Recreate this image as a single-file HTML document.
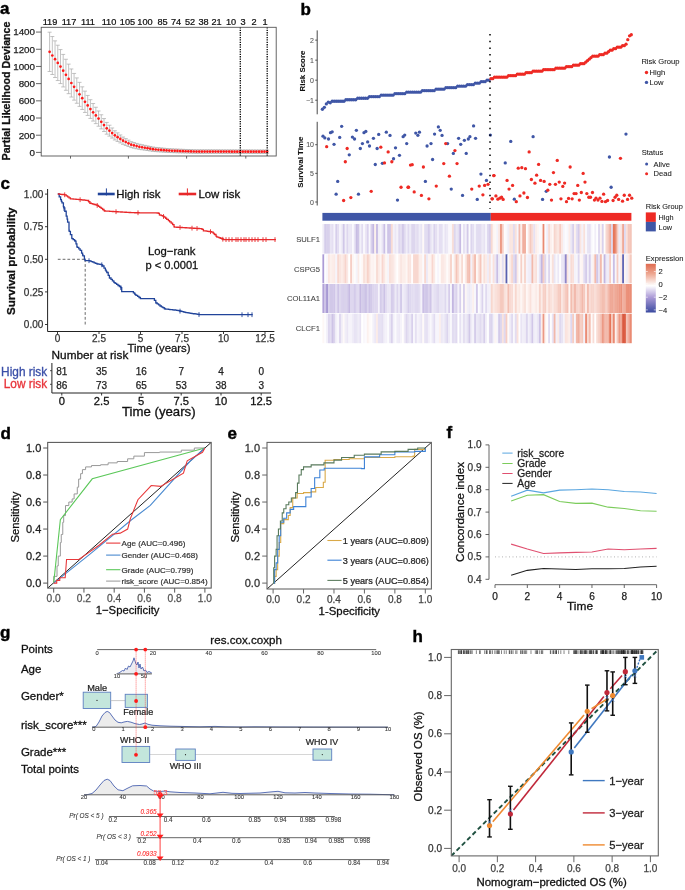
<!DOCTYPE html>
<html><head><meta charset="utf-8"><style>
html,body{margin:0;padding:0;background:#fff;}
svg{display:block;will-change:transform;}
text{font-family:"Liberation Sans",sans-serif;}
</style></head><body>
<svg width="685" height="890" viewBox="0 0 685 890">
<rect width="685" height="890" fill="#fff"/>
<text x="0" y="14" font-size="17" text-anchor="start" fill="#000" stroke="#000" stroke-width="0.42" font-weight="bold">a</text>
<line x1="36" y1="152.4" x2="41.2" y2="152.4" stroke="#555" stroke-width="0.9"/>
<text x="35" y="155.8" font-size="9.8" text-anchor="end" fill="#222" stroke="#222" stroke-width="0.25">0</text>
<line x1="36" y1="135.21" x2="41.2" y2="135.21" stroke="#555" stroke-width="0.9"/>
<text x="35" y="138.61" font-size="9.8" text-anchor="end" fill="#222" stroke="#222" stroke-width="0.25">200</text>
<line x1="36" y1="118.02" x2="41.2" y2="118.02" stroke="#555" stroke-width="0.9"/>
<text x="35" y="121.42" font-size="9.8" text-anchor="end" fill="#222" stroke="#222" stroke-width="0.25">400</text>
<line x1="36" y1="100.83" x2="41.2" y2="100.83" stroke="#555" stroke-width="0.9"/>
<text x="35" y="104.23" font-size="9.8" text-anchor="end" fill="#222" stroke="#222" stroke-width="0.25">600</text>
<line x1="36" y1="83.64" x2="41.2" y2="83.64" stroke="#555" stroke-width="0.9"/>
<text x="35" y="87.04" font-size="9.8" text-anchor="end" fill="#222" stroke="#222" stroke-width="0.25">800</text>
<line x1="36" y1="66.45" x2="41.2" y2="66.45" stroke="#555" stroke-width="0.9"/>
<text x="35" y="69.85" font-size="9.8" text-anchor="end" fill="#222" stroke="#222" stroke-width="0.25">1000</text>
<line x1="36" y1="49.26" x2="41.2" y2="49.26" stroke="#555" stroke-width="0.9"/>
<text x="35" y="52.66" font-size="9.8" text-anchor="end" fill="#222" stroke="#222" stroke-width="0.25">1200</text>
<line x1="36" y1="32.07" x2="41.2" y2="32.07" stroke="#555" stroke-width="0.9"/>
<text x="35" y="35.47" font-size="9.8" text-anchor="end" fill="#222" stroke="#222" stroke-width="0.25">1400</text>
<line x1="70.5" y1="156" x2="70.5" y2="158.6" stroke="#555" stroke-width="0.9"/>
<line x1="128.4" y1="156" x2="128.4" y2="158.6" stroke="#555" stroke-width="0.9"/>
<line x1="186.6" y1="156" x2="186.6" y2="158.6" stroke="#555" stroke-width="0.9"/>
<line x1="245.8" y1="156" x2="245.8" y2="158.6" stroke="#555" stroke-width="0.9"/>
<text x="50" y="24.8" font-size="9.2" text-anchor="middle" fill="#111" stroke="#111" stroke-width="0.23">119</text>
<text x="69" y="24.8" font-size="9.2" text-anchor="middle" fill="#111" stroke="#111" stroke-width="0.23">117</text>
<text x="88" y="24.8" font-size="9.2" text-anchor="middle" fill="#111" stroke="#111" stroke-width="0.23">111</text>
<text x="109" y="24.8" font-size="9.2" text-anchor="middle" fill="#111" stroke="#111" stroke-width="0.23">110</text>
<text x="127.5" y="24.8" font-size="9.2" text-anchor="middle" fill="#111" stroke="#111" stroke-width="0.23">105</text>
<text x="145" y="24.8" font-size="9.2" text-anchor="middle" fill="#111" stroke="#111" stroke-width="0.23">100</text>
<text x="162.5" y="24.8" font-size="9.2" text-anchor="middle" fill="#111" stroke="#111" stroke-width="0.23">85</text>
<text x="176" y="24.8" font-size="9.2" text-anchor="middle" fill="#111" stroke="#111" stroke-width="0.23">74</text>
<text x="190" y="24.8" font-size="9.2" text-anchor="middle" fill="#111" stroke="#111" stroke-width="0.23">52</text>
<text x="203.5" y="24.8" font-size="9.2" text-anchor="middle" fill="#111" stroke="#111" stroke-width="0.23">38</text>
<text x="216.5" y="24.8" font-size="9.2" text-anchor="middle" fill="#111" stroke="#111" stroke-width="0.23">21</text>
<text x="231" y="24.8" font-size="9.2" text-anchor="middle" fill="#111" stroke="#111" stroke-width="0.23">10</text>
<text x="243" y="24.8" font-size="9.2" text-anchor="middle" fill="#111" stroke="#111" stroke-width="0.23">3</text>
<text x="254" y="24.8" font-size="9.2" text-anchor="middle" fill="#111" stroke="#111" stroke-width="0.23">2</text>
<text x="265" y="24.8" font-size="9.2" text-anchor="middle" fill="#111" stroke="#111" stroke-width="0.23">1</text>
<line x1="49.6" y1="32.19" x2="49.6" y2="71.49" stroke="#a9a9a9" stroke-width="0.7"/>
<line x1="47.6" y1="32.19" x2="51.6" y2="32.19" stroke="#a9a9a9" stroke-width="0.7"/>
<line x1="47.6" y1="71.49" x2="51.6" y2="71.49" stroke="#a9a9a9" stroke-width="0.7"/>
<line x1="52.32" y1="36.53" x2="52.32" y2="74.5" stroke="#a9a9a9" stroke-width="0.7"/>
<line x1="50.32" y1="36.53" x2="54.32" y2="36.53" stroke="#a9a9a9" stroke-width="0.7"/>
<line x1="50.32" y1="74.5" x2="54.32" y2="74.5" stroke="#a9a9a9" stroke-width="0.7"/>
<line x1="55.04" y1="40.87" x2="55.04" y2="77.52" stroke="#a9a9a9" stroke-width="0.7"/>
<line x1="53.04" y1="40.87" x2="57.04" y2="40.87" stroke="#a9a9a9" stroke-width="0.7"/>
<line x1="53.04" y1="77.52" x2="57.04" y2="77.52" stroke="#a9a9a9" stroke-width="0.7"/>
<line x1="57.76" y1="45.22" x2="57.76" y2="80.54" stroke="#a9a9a9" stroke-width="0.7"/>
<line x1="55.76" y1="45.22" x2="59.76" y2="45.22" stroke="#a9a9a9" stroke-width="0.7"/>
<line x1="55.76" y1="80.54" x2="59.76" y2="80.54" stroke="#a9a9a9" stroke-width="0.7"/>
<line x1="60.48" y1="49.57" x2="60.48" y2="83.57" stroke="#a9a9a9" stroke-width="0.7"/>
<line x1="58.48" y1="49.57" x2="62.48" y2="49.57" stroke="#a9a9a9" stroke-width="0.7"/>
<line x1="58.48" y1="83.57" x2="62.48" y2="83.57" stroke="#a9a9a9" stroke-width="0.7"/>
<line x1="63.2" y1="54.42" x2="63.2" y2="86.93" stroke="#a9a9a9" stroke-width="0.7"/>
<line x1="61.2" y1="54.42" x2="65.2" y2="54.42" stroke="#a9a9a9" stroke-width="0.7"/>
<line x1="61.2" y1="86.93" x2="65.2" y2="86.93" stroke="#a9a9a9" stroke-width="0.7"/>
<line x1="65.92" y1="59.27" x2="65.92" y2="90.3" stroke="#a9a9a9" stroke-width="0.7"/>
<line x1="63.92" y1="59.27" x2="67.92" y2="59.27" stroke="#a9a9a9" stroke-width="0.7"/>
<line x1="63.92" y1="90.3" x2="67.92" y2="90.3" stroke="#a9a9a9" stroke-width="0.7"/>
<line x1="68.64" y1="64.11" x2="68.64" y2="93.67" stroke="#a9a9a9" stroke-width="0.7"/>
<line x1="66.64" y1="64.11" x2="70.64" y2="64.11" stroke="#a9a9a9" stroke-width="0.7"/>
<line x1="66.64" y1="93.67" x2="70.64" y2="93.67" stroke="#a9a9a9" stroke-width="0.7"/>
<line x1="71.36" y1="68.96" x2="71.36" y2="97.04" stroke="#a9a9a9" stroke-width="0.7"/>
<line x1="69.36" y1="68.96" x2="73.36" y2="68.96" stroke="#a9a9a9" stroke-width="0.7"/>
<line x1="69.36" y1="97.04" x2="73.36" y2="97.04" stroke="#a9a9a9" stroke-width="0.7"/>
<line x1="74.08" y1="73.44" x2="74.08" y2="100.15" stroke="#a9a9a9" stroke-width="0.7"/>
<line x1="72.08" y1="73.44" x2="76.08" y2="73.44" stroke="#a9a9a9" stroke-width="0.7"/>
<line x1="72.08" y1="100.15" x2="76.08" y2="100.15" stroke="#a9a9a9" stroke-width="0.7"/>
<line x1="76.8" y1="77.91" x2="76.8" y2="103.26" stroke="#a9a9a9" stroke-width="0.7"/>
<line x1="74.8" y1="77.91" x2="78.8" y2="77.91" stroke="#a9a9a9" stroke-width="0.7"/>
<line x1="74.8" y1="103.26" x2="78.8" y2="103.26" stroke="#a9a9a9" stroke-width="0.7"/>
<line x1="79.52" y1="82.37" x2="79.52" y2="106.36" stroke="#a9a9a9" stroke-width="0.7"/>
<line x1="77.52" y1="82.37" x2="81.52" y2="82.37" stroke="#a9a9a9" stroke-width="0.7"/>
<line x1="77.52" y1="106.36" x2="81.52" y2="106.36" stroke="#a9a9a9" stroke-width="0.7"/>
<line x1="82.24" y1="86.84" x2="82.24" y2="109.46" stroke="#a9a9a9" stroke-width="0.7"/>
<line x1="80.24" y1="86.84" x2="84.24" y2="86.84" stroke="#a9a9a9" stroke-width="0.7"/>
<line x1="80.24" y1="109.46" x2="84.24" y2="109.46" stroke="#a9a9a9" stroke-width="0.7"/>
<line x1="84.96" y1="91.14" x2="84.96" y2="112.45" stroke="#a9a9a9" stroke-width="0.7"/>
<line x1="82.96" y1="91.14" x2="86.96" y2="91.14" stroke="#a9a9a9" stroke-width="0.7"/>
<line x1="82.96" y1="112.45" x2="86.96" y2="112.45" stroke="#a9a9a9" stroke-width="0.7"/>
<line x1="87.68" y1="95.43" x2="87.68" y2="115.43" stroke="#a9a9a9" stroke-width="0.7"/>
<line x1="85.68" y1="95.43" x2="89.68" y2="95.43" stroke="#a9a9a9" stroke-width="0.7"/>
<line x1="85.68" y1="115.43" x2="89.68" y2="115.43" stroke="#a9a9a9" stroke-width="0.7"/>
<line x1="90.4" y1="99.71" x2="90.4" y2="118.41" stroke="#a9a9a9" stroke-width="0.7"/>
<line x1="88.4" y1="99.71" x2="92.4" y2="99.71" stroke="#a9a9a9" stroke-width="0.7"/>
<line x1="88.4" y1="118.41" x2="92.4" y2="118.41" stroke="#a9a9a9" stroke-width="0.7"/>
<line x1="93.12" y1="103.52" x2="93.12" y2="121.06" stroke="#a9a9a9" stroke-width="0.7"/>
<line x1="91.12" y1="103.52" x2="95.12" y2="103.52" stroke="#a9a9a9" stroke-width="0.7"/>
<line x1="91.12" y1="121.06" x2="95.12" y2="121.06" stroke="#a9a9a9" stroke-width="0.7"/>
<line x1="95.84" y1="107.25" x2="95.84" y2="123.64" stroke="#a9a9a9" stroke-width="0.7"/>
<line x1="93.84" y1="107.25" x2="97.84" y2="107.25" stroke="#a9a9a9" stroke-width="0.7"/>
<line x1="93.84" y1="123.64" x2="97.84" y2="123.64" stroke="#a9a9a9" stroke-width="0.7"/>
<line x1="98.56" y1="110.97" x2="98.56" y2="126.23" stroke="#a9a9a9" stroke-width="0.7"/>
<line x1="96.56" y1="110.97" x2="100.56" y2="110.97" stroke="#a9a9a9" stroke-width="0.7"/>
<line x1="96.56" y1="126.23" x2="100.56" y2="126.23" stroke="#a9a9a9" stroke-width="0.7"/>
<line x1="101.28" y1="114.78" x2="101.28" y2="128.88" stroke="#a9a9a9" stroke-width="0.7"/>
<line x1="99.28" y1="114.78" x2="103.28" y2="114.78" stroke="#a9a9a9" stroke-width="0.7"/>
<line x1="99.28" y1="128.88" x2="103.28" y2="128.88" stroke="#a9a9a9" stroke-width="0.7"/>
<line x1="104" y1="118.59" x2="104" y2="131.53" stroke="#a9a9a9" stroke-width="0.7"/>
<line x1="102" y1="118.59" x2="106" y2="118.59" stroke="#a9a9a9" stroke-width="0.7"/>
<line x1="102" y1="131.53" x2="106" y2="131.53" stroke="#a9a9a9" stroke-width="0.7"/>
<line x1="106.72" y1="122.41" x2="106.72" y2="134.18" stroke="#a9a9a9" stroke-width="0.7"/>
<line x1="104.72" y1="122.41" x2="108.72" y2="122.41" stroke="#a9a9a9" stroke-width="0.7"/>
<line x1="104.72" y1="134.18" x2="108.72" y2="134.18" stroke="#a9a9a9" stroke-width="0.7"/>
<line x1="109.44" y1="125.23" x2="109.44" y2="136.14" stroke="#a9a9a9" stroke-width="0.7"/>
<line x1="107.44" y1="125.23" x2="111.44" y2="125.23" stroke="#a9a9a9" stroke-width="0.7"/>
<line x1="107.44" y1="136.14" x2="111.44" y2="136.14" stroke="#a9a9a9" stroke-width="0.7"/>
<line x1="112.16" y1="127.99" x2="112.16" y2="138.06" stroke="#a9a9a9" stroke-width="0.7"/>
<line x1="110.16" y1="127.99" x2="114.16" y2="127.99" stroke="#a9a9a9" stroke-width="0.7"/>
<line x1="110.16" y1="138.06" x2="114.16" y2="138.06" stroke="#a9a9a9" stroke-width="0.7"/>
<line x1="114.88" y1="130.75" x2="114.88" y2="139.98" stroke="#a9a9a9" stroke-width="0.7"/>
<line x1="112.88" y1="130.75" x2="116.88" y2="130.75" stroke="#a9a9a9" stroke-width="0.7"/>
<line x1="112.88" y1="139.98" x2="116.88" y2="139.98" stroke="#a9a9a9" stroke-width="0.7"/>
<line x1="117.6" y1="132.86" x2="117.6" y2="141.44" stroke="#a9a9a9" stroke-width="0.7"/>
<line x1="115.6" y1="132.86" x2="119.6" y2="132.86" stroke="#a9a9a9" stroke-width="0.7"/>
<line x1="115.6" y1="141.44" x2="119.6" y2="141.44" stroke="#a9a9a9" stroke-width="0.7"/>
<line x1="120.32" y1="134.96" x2="120.32" y2="142.9" stroke="#a9a9a9" stroke-width="0.7"/>
<line x1="118.32" y1="134.96" x2="122.32" y2="134.96" stroke="#a9a9a9" stroke-width="0.7"/>
<line x1="118.32" y1="142.9" x2="122.32" y2="142.9" stroke="#a9a9a9" stroke-width="0.7"/>
<line x1="123.04" y1="137.04" x2="123.04" y2="144.35" stroke="#a9a9a9" stroke-width="0.7"/>
<line x1="121.04" y1="137.04" x2="125.04" y2="137.04" stroke="#a9a9a9" stroke-width="0.7"/>
<line x1="121.04" y1="144.35" x2="125.04" y2="144.35" stroke="#a9a9a9" stroke-width="0.7"/>
<line x1="125.76" y1="138.61" x2="125.76" y2="145.44" stroke="#a9a9a9" stroke-width="0.7"/>
<line x1="123.76" y1="138.61" x2="127.76" y2="138.61" stroke="#a9a9a9" stroke-width="0.7"/>
<line x1="123.76" y1="145.44" x2="127.76" y2="145.44" stroke="#a9a9a9" stroke-width="0.7"/>
<line x1="128.48" y1="140.17" x2="128.48" y2="146.52" stroke="#a9a9a9" stroke-width="0.7"/>
<line x1="126.48" y1="140.17" x2="130.48" y2="140.17" stroke="#a9a9a9" stroke-width="0.7"/>
<line x1="126.48" y1="146.52" x2="130.48" y2="146.52" stroke="#a9a9a9" stroke-width="0.7"/>
<line x1="131.2" y1="141.69" x2="131.2" y2="147.58" stroke="#a9a9a9" stroke-width="0.7"/>
<line x1="129.2" y1="141.69" x2="133.2" y2="141.69" stroke="#a9a9a9" stroke-width="0.7"/>
<line x1="129.2" y1="147.58" x2="133.2" y2="147.58" stroke="#a9a9a9" stroke-width="0.7"/>
<line x1="133.92" y1="142.55" x2="133.92" y2="148.18" stroke="#a9a9a9" stroke-width="0.7"/>
<line x1="131.92" y1="142.55" x2="135.92" y2="142.55" stroke="#a9a9a9" stroke-width="0.7"/>
<line x1="131.92" y1="148.18" x2="135.92" y2="148.18" stroke="#a9a9a9" stroke-width="0.7"/>
<line x1="136.64" y1="143.41" x2="136.64" y2="148.78" stroke="#a9a9a9" stroke-width="0.7"/>
<line x1="134.64" y1="143.41" x2="138.64" y2="143.41" stroke="#a9a9a9" stroke-width="0.7"/>
<line x1="134.64" y1="148.78" x2="138.64" y2="148.78" stroke="#a9a9a9" stroke-width="0.7"/>
<line x1="139.36" y1="144.23" x2="139.36" y2="149.35" stroke="#a9a9a9" stroke-width="0.7"/>
<line x1="137.36" y1="144.23" x2="141.36" y2="144.23" stroke="#a9a9a9" stroke-width="0.7"/>
<line x1="137.36" y1="149.35" x2="141.36" y2="149.35" stroke="#a9a9a9" stroke-width="0.7"/>
<line x1="142.08" y1="144.8" x2="142.08" y2="149.74" stroke="#a9a9a9" stroke-width="0.7"/>
<line x1="140.08" y1="144.8" x2="144.08" y2="144.8" stroke="#a9a9a9" stroke-width="0.7"/>
<line x1="140.08" y1="149.74" x2="144.08" y2="149.74" stroke="#a9a9a9" stroke-width="0.7"/>
<line x1="144.8" y1="145.36" x2="144.8" y2="150.13" stroke="#a9a9a9" stroke-width="0.7"/>
<line x1="142.8" y1="145.36" x2="146.8" y2="145.36" stroke="#a9a9a9" stroke-width="0.7"/>
<line x1="142.8" y1="150.13" x2="146.8" y2="150.13" stroke="#a9a9a9" stroke-width="0.7"/>
<line x1="147.52" y1="145.92" x2="147.52" y2="150.52" stroke="#a9a9a9" stroke-width="0.7"/>
<line x1="145.52" y1="145.92" x2="149.52" y2="145.92" stroke="#a9a9a9" stroke-width="0.7"/>
<line x1="145.52" y1="150.52" x2="149.52" y2="150.52" stroke="#a9a9a9" stroke-width="0.7"/>
<line x1="150.24" y1="146.48" x2="150.24" y2="150.91" stroke="#a9a9a9" stroke-width="0.7"/>
<line x1="148.24" y1="146.48" x2="152.24" y2="146.48" stroke="#a9a9a9" stroke-width="0.7"/>
<line x1="148.24" y1="150.91" x2="152.24" y2="150.91" stroke="#a9a9a9" stroke-width="0.7"/>
<line x1="152.96" y1="147.05" x2="152.96" y2="151.3" stroke="#a9a9a9" stroke-width="0.7"/>
<line x1="150.96" y1="147.05" x2="154.96" y2="147.05" stroke="#a9a9a9" stroke-width="0.7"/>
<line x1="150.96" y1="151.3" x2="154.96" y2="151.3" stroke="#a9a9a9" stroke-width="0.7"/>
<line x1="155.68" y1="147.44" x2="155.68" y2="151.58" stroke="#a9a9a9" stroke-width="0.7"/>
<line x1="153.68" y1="147.44" x2="157.68" y2="147.44" stroke="#a9a9a9" stroke-width="0.7"/>
<line x1="153.68" y1="151.58" x2="157.68" y2="151.58" stroke="#a9a9a9" stroke-width="0.7"/>
<line x1="158.4" y1="147.7" x2="158.4" y2="151.76" stroke="#a9a9a9" stroke-width="0.7"/>
<line x1="156.4" y1="147.7" x2="160.4" y2="147.7" stroke="#a9a9a9" stroke-width="0.7"/>
<line x1="156.4" y1="151.76" x2="160.4" y2="151.76" stroke="#a9a9a9" stroke-width="0.7"/>
<line x1="161.12" y1="147.96" x2="161.12" y2="151.93" stroke="#a9a9a9" stroke-width="0.7"/>
<line x1="159.12" y1="147.96" x2="163.12" y2="147.96" stroke="#a9a9a9" stroke-width="0.7"/>
<line x1="159.12" y1="151.93" x2="163.12" y2="151.93" stroke="#a9a9a9" stroke-width="0.7"/>
<line x1="163.84" y1="148.21" x2="163.84" y2="152.11" stroke="#a9a9a9" stroke-width="0.7"/>
<line x1="161.84" y1="148.21" x2="165.84" y2="148.21" stroke="#a9a9a9" stroke-width="0.7"/>
<line x1="161.84" y1="152.11" x2="165.84" y2="152.11" stroke="#a9a9a9" stroke-width="0.7"/>
<line x1="166.56" y1="148.47" x2="166.56" y2="152.29" stroke="#a9a9a9" stroke-width="0.7"/>
<line x1="164.56" y1="148.47" x2="168.56" y2="148.47" stroke="#a9a9a9" stroke-width="0.7"/>
<line x1="164.56" y1="152.29" x2="168.56" y2="152.29" stroke="#a9a9a9" stroke-width="0.7"/>
<line x1="169.28" y1="148.73" x2="169.28" y2="152.47" stroke="#a9a9a9" stroke-width="0.7"/>
<line x1="167.28" y1="148.73" x2="171.28" y2="148.73" stroke="#a9a9a9" stroke-width="0.7"/>
<line x1="167.28" y1="152.47" x2="171.28" y2="152.47" stroke="#a9a9a9" stroke-width="0.7"/>
<line x1="172" y1="148.9" x2="172" y2="152.59" stroke="#a9a9a9" stroke-width="0.7"/>
<line x1="170" y1="148.9" x2="174" y2="148.9" stroke="#a9a9a9" stroke-width="0.7"/>
<line x1="170" y1="152.59" x2="174" y2="152.59" stroke="#a9a9a9" stroke-width="0.7"/>
<line x1="174.72" y1="149.01" x2="174.72" y2="152.67" stroke="#a9a9a9" stroke-width="0.7"/>
<line x1="172.72" y1="149.01" x2="176.72" y2="149.01" stroke="#a9a9a9" stroke-width="0.7"/>
<line x1="172.72" y1="152.67" x2="176.72" y2="152.67" stroke="#a9a9a9" stroke-width="0.7"/>
<line x1="177.44" y1="149.12" x2="177.44" y2="152.75" stroke="#a9a9a9" stroke-width="0.7"/>
<line x1="175.44" y1="149.12" x2="179.44" y2="149.12" stroke="#a9a9a9" stroke-width="0.7"/>
<line x1="175.44" y1="152.75" x2="179.44" y2="152.75" stroke="#a9a9a9" stroke-width="0.7"/>
<line x1="180.16" y1="149.24" x2="180.16" y2="152.83" stroke="#a9a9a9" stroke-width="0.7"/>
<line x1="178.16" y1="149.24" x2="182.16" y2="149.24" stroke="#a9a9a9" stroke-width="0.7"/>
<line x1="178.16" y1="152.83" x2="182.16" y2="152.83" stroke="#a9a9a9" stroke-width="0.7"/>
<line x1="182.88" y1="149.35" x2="182.88" y2="152.91" stroke="#a9a9a9" stroke-width="0.7"/>
<line x1="180.88" y1="149.35" x2="184.88" y2="149.35" stroke="#a9a9a9" stroke-width="0.7"/>
<line x1="180.88" y1="152.91" x2="184.88" y2="152.91" stroke="#a9a9a9" stroke-width="0.7"/>
<line x1="185.6" y1="149.47" x2="185.6" y2="152.98" stroke="#a9a9a9" stroke-width="0.7"/>
<line x1="183.6" y1="149.47" x2="187.6" y2="149.47" stroke="#a9a9a9" stroke-width="0.7"/>
<line x1="183.6" y1="152.98" x2="187.6" y2="152.98" stroke="#a9a9a9" stroke-width="0.7"/>
<line x1="188.32" y1="149.58" x2="188.32" y2="153.06" stroke="#a9a9a9" stroke-width="0.7"/>
<line x1="186.32" y1="149.58" x2="190.32" y2="149.58" stroke="#a9a9a9" stroke-width="0.7"/>
<line x1="186.32" y1="153.06" x2="190.32" y2="153.06" stroke="#a9a9a9" stroke-width="0.7"/>
<line x1="191.04" y1="149.7" x2="191.04" y2="153.14" stroke="#a9a9a9" stroke-width="0.7"/>
<line x1="189.04" y1="149.7" x2="193.04" y2="149.7" stroke="#a9a9a9" stroke-width="0.7"/>
<line x1="189.04" y1="153.14" x2="193.04" y2="153.14" stroke="#a9a9a9" stroke-width="0.7"/>
<line x1="193.76" y1="149.81" x2="193.76" y2="153.22" stroke="#a9a9a9" stroke-width="0.7"/>
<line x1="191.76" y1="149.81" x2="195.76" y2="149.81" stroke="#a9a9a9" stroke-width="0.7"/>
<line x1="191.76" y1="153.22" x2="195.76" y2="153.22" stroke="#a9a9a9" stroke-width="0.7"/>
<line x1="196.48" y1="149.84" x2="196.48" y2="153.25" stroke="#a9a9a9" stroke-width="0.7"/>
<line x1="194.48" y1="149.84" x2="198.48" y2="149.84" stroke="#a9a9a9" stroke-width="0.7"/>
<line x1="194.48" y1="153.25" x2="198.48" y2="153.25" stroke="#a9a9a9" stroke-width="0.7"/>
<line x1="199.2" y1="149.85" x2="199.2" y2="153.25" stroke="#a9a9a9" stroke-width="0.7"/>
<line x1="197.2" y1="149.85" x2="201.2" y2="149.85" stroke="#a9a9a9" stroke-width="0.7"/>
<line x1="197.2" y1="153.25" x2="201.2" y2="153.25" stroke="#a9a9a9" stroke-width="0.7"/>
<line x1="201.92" y1="149.86" x2="201.92" y2="153.26" stroke="#a9a9a9" stroke-width="0.7"/>
<line x1="199.92" y1="149.86" x2="203.92" y2="149.86" stroke="#a9a9a9" stroke-width="0.7"/>
<line x1="199.92" y1="153.26" x2="203.92" y2="153.26" stroke="#a9a9a9" stroke-width="0.7"/>
<line x1="204.64" y1="149.87" x2="204.64" y2="153.26" stroke="#a9a9a9" stroke-width="0.7"/>
<line x1="202.64" y1="149.87" x2="206.64" y2="149.87" stroke="#a9a9a9" stroke-width="0.7"/>
<line x1="202.64" y1="153.26" x2="206.64" y2="153.26" stroke="#a9a9a9" stroke-width="0.7"/>
<line x1="207.36" y1="149.87" x2="207.36" y2="153.27" stroke="#a9a9a9" stroke-width="0.7"/>
<line x1="205.36" y1="149.87" x2="209.36" y2="149.87" stroke="#a9a9a9" stroke-width="0.7"/>
<line x1="205.36" y1="153.27" x2="209.36" y2="153.27" stroke="#a9a9a9" stroke-width="0.7"/>
<line x1="210.08" y1="149.88" x2="210.08" y2="153.27" stroke="#a9a9a9" stroke-width="0.7"/>
<line x1="208.08" y1="149.88" x2="212.08" y2="149.88" stroke="#a9a9a9" stroke-width="0.7"/>
<line x1="208.08" y1="153.27" x2="212.08" y2="153.27" stroke="#a9a9a9" stroke-width="0.7"/>
<line x1="212.8" y1="149.89" x2="212.8" y2="153.28" stroke="#a9a9a9" stroke-width="0.7"/>
<line x1="210.8" y1="149.89" x2="214.8" y2="149.89" stroke="#a9a9a9" stroke-width="0.7"/>
<line x1="210.8" y1="153.28" x2="214.8" y2="153.28" stroke="#a9a9a9" stroke-width="0.7"/>
<line x1="215.52" y1="149.9" x2="215.52" y2="153.28" stroke="#a9a9a9" stroke-width="0.7"/>
<line x1="213.52" y1="149.9" x2="217.52" y2="149.9" stroke="#a9a9a9" stroke-width="0.7"/>
<line x1="213.52" y1="153.28" x2="217.52" y2="153.28" stroke="#a9a9a9" stroke-width="0.7"/>
<line x1="218.24" y1="149.9" x2="218.24" y2="153.29" stroke="#a9a9a9" stroke-width="0.7"/>
<line x1="216.24" y1="149.9" x2="220.24" y2="149.9" stroke="#a9a9a9" stroke-width="0.7"/>
<line x1="216.24" y1="153.29" x2="220.24" y2="153.29" stroke="#a9a9a9" stroke-width="0.7"/>
<line x1="220.96" y1="149.91" x2="220.96" y2="153.29" stroke="#a9a9a9" stroke-width="0.7"/>
<line x1="218.96" y1="149.91" x2="222.96" y2="149.91" stroke="#a9a9a9" stroke-width="0.7"/>
<line x1="218.96" y1="153.29" x2="222.96" y2="153.29" stroke="#a9a9a9" stroke-width="0.7"/>
<line x1="223.68" y1="149.92" x2="223.68" y2="153.3" stroke="#a9a9a9" stroke-width="0.7"/>
<line x1="221.68" y1="149.92" x2="225.68" y2="149.92" stroke="#a9a9a9" stroke-width="0.7"/>
<line x1="221.68" y1="153.3" x2="225.68" y2="153.3" stroke="#a9a9a9" stroke-width="0.7"/>
<line x1="226.4" y1="149.93" x2="226.4" y2="153.3" stroke="#a9a9a9" stroke-width="0.7"/>
<line x1="224.4" y1="149.93" x2="228.4" y2="149.93" stroke="#a9a9a9" stroke-width="0.7"/>
<line x1="224.4" y1="153.3" x2="228.4" y2="153.3" stroke="#a9a9a9" stroke-width="0.7"/>
<line x1="229.12" y1="149.93" x2="229.12" y2="153.31" stroke="#a9a9a9" stroke-width="0.7"/>
<line x1="227.12" y1="149.93" x2="231.12" y2="149.93" stroke="#a9a9a9" stroke-width="0.7"/>
<line x1="227.12" y1="153.31" x2="231.12" y2="153.31" stroke="#a9a9a9" stroke-width="0.7"/>
<line x1="231.84" y1="149.94" x2="231.84" y2="153.31" stroke="#a9a9a9" stroke-width="0.7"/>
<line x1="229.84" y1="149.94" x2="233.84" y2="149.94" stroke="#a9a9a9" stroke-width="0.7"/>
<line x1="229.84" y1="153.31" x2="233.84" y2="153.31" stroke="#a9a9a9" stroke-width="0.7"/>
<line x1="234.56" y1="149.95" x2="234.56" y2="153.32" stroke="#a9a9a9" stroke-width="0.7"/>
<line x1="232.56" y1="149.95" x2="236.56" y2="149.95" stroke="#a9a9a9" stroke-width="0.7"/>
<line x1="232.56" y1="153.32" x2="236.56" y2="153.32" stroke="#a9a9a9" stroke-width="0.7"/>
<line x1="237.28" y1="149.96" x2="237.28" y2="153.32" stroke="#a9a9a9" stroke-width="0.7"/>
<line x1="235.28" y1="149.96" x2="239.28" y2="149.96" stroke="#a9a9a9" stroke-width="0.7"/>
<line x1="235.28" y1="153.32" x2="239.28" y2="153.32" stroke="#a9a9a9" stroke-width="0.7"/>
<line x1="240" y1="149.96" x2="240" y2="153.33" stroke="#a9a9a9" stroke-width="0.7"/>
<line x1="238" y1="149.96" x2="242" y2="149.96" stroke="#a9a9a9" stroke-width="0.7"/>
<line x1="238" y1="153.33" x2="242" y2="153.33" stroke="#a9a9a9" stroke-width="0.7"/>
<line x1="242.72" y1="149.97" x2="242.72" y2="153.33" stroke="#a9a9a9" stroke-width="0.7"/>
<line x1="240.72" y1="149.97" x2="244.72" y2="149.97" stroke="#a9a9a9" stroke-width="0.7"/>
<line x1="240.72" y1="153.33" x2="244.72" y2="153.33" stroke="#a9a9a9" stroke-width="0.7"/>
<line x1="245.44" y1="149.98" x2="245.44" y2="153.34" stroke="#a9a9a9" stroke-width="0.7"/>
<line x1="243.44" y1="149.98" x2="247.44" y2="149.98" stroke="#a9a9a9" stroke-width="0.7"/>
<line x1="243.44" y1="153.34" x2="247.44" y2="153.34" stroke="#a9a9a9" stroke-width="0.7"/>
<line x1="248.16" y1="149.99" x2="248.16" y2="153.35" stroke="#a9a9a9" stroke-width="0.7"/>
<line x1="246.16" y1="149.99" x2="250.16" y2="149.99" stroke="#a9a9a9" stroke-width="0.7"/>
<line x1="246.16" y1="153.35" x2="250.16" y2="153.35" stroke="#a9a9a9" stroke-width="0.7"/>
<line x1="250.88" y1="149.99" x2="250.88" y2="153.35" stroke="#a9a9a9" stroke-width="0.7"/>
<line x1="248.88" y1="149.99" x2="252.88" y2="149.99" stroke="#a9a9a9" stroke-width="0.7"/>
<line x1="248.88" y1="153.35" x2="252.88" y2="153.35" stroke="#a9a9a9" stroke-width="0.7"/>
<line x1="253.6" y1="150" x2="253.6" y2="153.36" stroke="#a9a9a9" stroke-width="0.7"/>
<line x1="251.6" y1="150" x2="255.6" y2="150" stroke="#a9a9a9" stroke-width="0.7"/>
<line x1="251.6" y1="153.36" x2="255.6" y2="153.36" stroke="#a9a9a9" stroke-width="0.7"/>
<line x1="256.32" y1="150.01" x2="256.32" y2="153.36" stroke="#a9a9a9" stroke-width="0.7"/>
<line x1="254.32" y1="150.01" x2="258.32" y2="150.01" stroke="#a9a9a9" stroke-width="0.7"/>
<line x1="254.32" y1="153.36" x2="258.32" y2="153.36" stroke="#a9a9a9" stroke-width="0.7"/>
<line x1="259.04" y1="150.02" x2="259.04" y2="153.37" stroke="#a9a9a9" stroke-width="0.7"/>
<line x1="257.04" y1="150.02" x2="261.04" y2="150.02" stroke="#a9a9a9" stroke-width="0.7"/>
<line x1="257.04" y1="153.37" x2="261.04" y2="153.37" stroke="#a9a9a9" stroke-width="0.7"/>
<line x1="261.76" y1="150.02" x2="261.76" y2="153.37" stroke="#a9a9a9" stroke-width="0.7"/>
<line x1="259.76" y1="150.02" x2="263.76" y2="150.02" stroke="#a9a9a9" stroke-width="0.7"/>
<line x1="259.76" y1="153.37" x2="263.76" y2="153.37" stroke="#a9a9a9" stroke-width="0.7"/>
<line x1="264.48" y1="150.03" x2="264.48" y2="153.38" stroke="#a9a9a9" stroke-width="0.7"/>
<line x1="262.48" y1="150.03" x2="266.48" y2="150.03" stroke="#a9a9a9" stroke-width="0.7"/>
<line x1="262.48" y1="153.38" x2="266.48" y2="153.38" stroke="#a9a9a9" stroke-width="0.7"/>
<line x1="267.2" y1="150.04" x2="267.2" y2="153.38" stroke="#a9a9a9" stroke-width="0.7"/>
<line x1="265.2" y1="150.04" x2="269.2" y2="150.04" stroke="#a9a9a9" stroke-width="0.7"/>
<line x1="265.2" y1="153.38" x2="269.2" y2="153.38" stroke="#a9a9a9" stroke-width="0.7"/>
<circle cx="49.6" cy="51.84" r="1.35" fill="#ff1a1a"/>
<circle cx="52.32" cy="55.52" r="1.35" fill="#ff1a1a"/>
<circle cx="55.04" cy="59.2" r="1.35" fill="#ff1a1a"/>
<circle cx="57.76" cy="62.88" r="1.35" fill="#ff1a1a"/>
<circle cx="60.48" cy="66.57" r="1.35" fill="#ff1a1a"/>
<circle cx="63.2" cy="70.68" r="1.35" fill="#ff1a1a"/>
<circle cx="65.92" cy="74.78" r="1.35" fill="#ff1a1a"/>
<circle cx="68.64" cy="78.89" r="1.35" fill="#ff1a1a"/>
<circle cx="71.36" cy="83" r="1.35" fill="#ff1a1a"/>
<circle cx="74.08" cy="86.8" r="1.35" fill="#ff1a1a"/>
<circle cx="76.8" cy="90.58" r="1.35" fill="#ff1a1a"/>
<circle cx="79.52" cy="94.36" r="1.35" fill="#ff1a1a"/>
<circle cx="82.24" cy="98.15" r="1.35" fill="#ff1a1a"/>
<circle cx="84.96" cy="101.8" r="1.35" fill="#ff1a1a"/>
<circle cx="87.68" cy="105.43" r="1.35" fill="#ff1a1a"/>
<circle cx="90.4" cy="109.06" r="1.35" fill="#ff1a1a"/>
<circle cx="93.12" cy="112.29" r="1.35" fill="#ff1a1a"/>
<circle cx="95.84" cy="115.44" r="1.35" fill="#ff1a1a"/>
<circle cx="98.56" cy="118.6" r="1.35" fill="#ff1a1a"/>
<circle cx="101.28" cy="121.83" r="1.35" fill="#ff1a1a"/>
<circle cx="104" cy="125.06" r="1.35" fill="#ff1a1a"/>
<circle cx="106.72" cy="128.29" r="1.35" fill="#ff1a1a"/>
<circle cx="109.44" cy="130.69" r="1.35" fill="#ff1a1a"/>
<circle cx="112.16" cy="133.03" r="1.35" fill="#ff1a1a"/>
<circle cx="114.88" cy="135.36" r="1.35" fill="#ff1a1a"/>
<circle cx="117.6" cy="137.15" r="1.35" fill="#ff1a1a"/>
<circle cx="120.32" cy="138.93" r="1.35" fill="#ff1a1a"/>
<circle cx="123.04" cy="140.69" r="1.35" fill="#ff1a1a"/>
<circle cx="125.76" cy="142.02" r="1.35" fill="#ff1a1a"/>
<circle cx="128.48" cy="143.35" r="1.35" fill="#ff1a1a"/>
<circle cx="131.2" cy="144.63" r="1.35" fill="#ff1a1a"/>
<circle cx="133.92" cy="145.36" r="1.35" fill="#ff1a1a"/>
<circle cx="136.64" cy="146.09" r="1.35" fill="#ff1a1a"/>
<circle cx="139.36" cy="146.79" r="1.35" fill="#ff1a1a"/>
<circle cx="142.08" cy="147.27" r="1.35" fill="#ff1a1a"/>
<circle cx="144.8" cy="147.74" r="1.35" fill="#ff1a1a"/>
<circle cx="147.52" cy="148.22" r="1.35" fill="#ff1a1a"/>
<circle cx="150.24" cy="148.7" r="1.35" fill="#ff1a1a"/>
<circle cx="152.96" cy="149.17" r="1.35" fill="#ff1a1a"/>
<circle cx="155.68" cy="149.51" r="1.35" fill="#ff1a1a"/>
<circle cx="158.4" cy="149.73" r="1.35" fill="#ff1a1a"/>
<circle cx="161.12" cy="149.95" r="1.35" fill="#ff1a1a"/>
<circle cx="163.84" cy="150.16" r="1.35" fill="#ff1a1a"/>
<circle cx="166.56" cy="150.38" r="1.35" fill="#ff1a1a"/>
<circle cx="169.28" cy="150.6" r="1.35" fill="#ff1a1a"/>
<circle cx="172" cy="150.74" r="1.35" fill="#ff1a1a"/>
<circle cx="174.72" cy="150.84" r="1.35" fill="#ff1a1a"/>
<circle cx="177.44" cy="150.94" r="1.35" fill="#ff1a1a"/>
<circle cx="180.16" cy="151.03" r="1.35" fill="#ff1a1a"/>
<circle cx="182.88" cy="151.13" r="1.35" fill="#ff1a1a"/>
<circle cx="185.6" cy="151.23" r="1.35" fill="#ff1a1a"/>
<circle cx="188.32" cy="151.32" r="1.35" fill="#ff1a1a"/>
<circle cx="191.04" cy="151.42" r="1.35" fill="#ff1a1a"/>
<circle cx="193.76" cy="151.52" r="1.35" fill="#ff1a1a"/>
<circle cx="196.48" cy="151.55" r="1.35" fill="#ff1a1a"/>
<circle cx="199.2" cy="151.55" r="1.35" fill="#ff1a1a"/>
<circle cx="201.92" cy="151.56" r="1.35" fill="#ff1a1a"/>
<circle cx="204.64" cy="151.56" r="1.35" fill="#ff1a1a"/>
<circle cx="207.36" cy="151.57" r="1.35" fill="#ff1a1a"/>
<circle cx="210.08" cy="151.58" r="1.35" fill="#ff1a1a"/>
<circle cx="212.8" cy="151.58" r="1.35" fill="#ff1a1a"/>
<circle cx="215.52" cy="151.59" r="1.35" fill="#ff1a1a"/>
<circle cx="218.24" cy="151.6" r="1.35" fill="#ff1a1a"/>
<circle cx="220.96" cy="151.6" r="1.35" fill="#ff1a1a"/>
<circle cx="223.68" cy="151.61" r="1.35" fill="#ff1a1a"/>
<circle cx="226.4" cy="151.62" r="1.35" fill="#ff1a1a"/>
<circle cx="229.12" cy="151.62" r="1.35" fill="#ff1a1a"/>
<circle cx="231.84" cy="151.63" r="1.35" fill="#ff1a1a"/>
<circle cx="234.56" cy="151.63" r="1.35" fill="#ff1a1a"/>
<circle cx="237.28" cy="151.64" r="1.35" fill="#ff1a1a"/>
<circle cx="240" cy="151.65" r="1.35" fill="#ff1a1a"/>
<circle cx="242.72" cy="151.65" r="1.35" fill="#ff1a1a"/>
<circle cx="245.44" cy="151.66" r="1.35" fill="#ff1a1a"/>
<circle cx="248.16" cy="151.67" r="1.35" fill="#ff1a1a"/>
<circle cx="250.88" cy="151.67" r="1.35" fill="#ff1a1a"/>
<circle cx="253.6" cy="151.68" r="1.35" fill="#ff1a1a"/>
<circle cx="256.32" cy="151.69" r="1.35" fill="#ff1a1a"/>
<circle cx="259.04" cy="151.69" r="1.35" fill="#ff1a1a"/>
<circle cx="261.76" cy="151.7" r="1.35" fill="#ff1a1a"/>
<circle cx="264.48" cy="151.7" r="1.35" fill="#ff1a1a"/>
<circle cx="267.2" cy="151.71" r="1.35" fill="#ff1a1a"/>
<line x1="240.3" y1="27.3" x2="240.3" y2="156" stroke="#000" stroke-width="1.3" stroke-dasharray="1.3 1.1"/>
<line x1="267.2" y1="27.3" x2="267.2" y2="156" stroke="#000" stroke-width="1.3" stroke-dasharray="1.3 1.1"/>
<rect x="41.2" y="27.3" width="235" height="128.7" fill="none" stroke="#555" stroke-width="0.9"/>
<text x="10.2" y="91" font-size="10.7" text-anchor="middle" fill="#111" stroke="#111" stroke-width="0.27" font-weight="bold" transform="rotate(-90 10.2 91)">Partial Likelihood Deviance</text>
<text x="300.5" y="14.5" font-size="17" text-anchor="start" fill="#000" stroke="#000" stroke-width="0.42" font-weight="bold">b</text>
<line x1="317.2" y1="30.4" x2="317.2" y2="114.3" stroke="#333" stroke-width="0.9"/>
<line x1="315.2" y1="40.14" x2="317.2" y2="40.14" stroke="#333" stroke-width="0.8"/>
<text x="314" y="42.64" font-size="7" text-anchor="end" fill="#555" stroke="#555" stroke-width="0.08">2</text>
<line x1="315.2" y1="60.17" x2="317.2" y2="60.17" stroke="#333" stroke-width="0.8"/>
<text x="314" y="62.67" font-size="7" text-anchor="end" fill="#555" stroke="#555" stroke-width="0.08">1</text>
<line x1="315.2" y1="80.2" x2="317.2" y2="80.2" stroke="#333" stroke-width="0.8"/>
<text x="314" y="82.7" font-size="7" text-anchor="end" fill="#555" stroke="#555" stroke-width="0.08">0</text>
<line x1="315.2" y1="100.23" x2="317.2" y2="100.23" stroke="#333" stroke-width="0.8"/>
<text x="314" y="102.73" font-size="7" text-anchor="end" fill="#555" stroke="#555" stroke-width="0.08">−1</text>
<text x="305" y="71" font-size="7.9" text-anchor="middle" fill="#111" stroke="#111" stroke-width="0.08" font-weight="bold" transform="rotate(-90 305 71)">Risk Score</text>
<circle cx="322.4" cy="109.24" r="1.65" fill="#3f56a6"/>
<circle cx="324.36" cy="107.37" r="1.65" fill="#3f56a6"/>
<circle cx="326.32" cy="103.92" r="1.65" fill="#3f56a6"/>
<circle cx="328.28" cy="102.2" r="1.65" fill="#3f56a6"/>
<circle cx="330.24" cy="102.73" r="1.65" fill="#3f56a6"/>
<circle cx="332.2" cy="101.23" r="1.65" fill="#3f56a6"/>
<circle cx="334.16" cy="101.23" r="1.65" fill="#3f56a6"/>
<circle cx="336.12" cy="101.23" r="1.65" fill="#3f56a6"/>
<circle cx="338.08" cy="101.23" r="1.65" fill="#3f56a6"/>
<circle cx="340.04" cy="101.23" r="1.65" fill="#3f56a6"/>
<circle cx="342" cy="101.23" r="1.65" fill="#3f56a6"/>
<circle cx="343.96" cy="101.23" r="1.65" fill="#3f56a6"/>
<circle cx="345.92" cy="99.73" r="1.65" fill="#3f56a6"/>
<circle cx="347.88" cy="99.73" r="1.65" fill="#3f56a6"/>
<circle cx="349.84" cy="99.73" r="1.65" fill="#3f56a6"/>
<circle cx="351.8" cy="99.73" r="1.65" fill="#3f56a6"/>
<circle cx="353.76" cy="99.73" r="1.65" fill="#3f56a6"/>
<circle cx="355.72" cy="99.73" r="1.65" fill="#3f56a6"/>
<circle cx="357.68" cy="98.23" r="1.65" fill="#3f56a6"/>
<circle cx="359.64" cy="98.23" r="1.65" fill="#3f56a6"/>
<circle cx="361.6" cy="98.23" r="1.65" fill="#3f56a6"/>
<circle cx="363.56" cy="98.23" r="1.65" fill="#3f56a6"/>
<circle cx="365.52" cy="98.23" r="1.65" fill="#3f56a6"/>
<circle cx="367.48" cy="98.23" r="1.65" fill="#3f56a6"/>
<circle cx="369.44" cy="96.72" r="1.65" fill="#3f56a6"/>
<circle cx="371.4" cy="96.72" r="1.65" fill="#3f56a6"/>
<circle cx="373.36" cy="96.72" r="1.65" fill="#3f56a6"/>
<circle cx="375.32" cy="96.72" r="1.65" fill="#3f56a6"/>
<circle cx="377.28" cy="96.72" r="1.65" fill="#3f56a6"/>
<circle cx="379.24" cy="96.72" r="1.65" fill="#3f56a6"/>
<circle cx="381.2" cy="95.22" r="1.65" fill="#3f56a6"/>
<circle cx="383.16" cy="95.22" r="1.65" fill="#3f56a6"/>
<circle cx="385.12" cy="95.22" r="1.65" fill="#3f56a6"/>
<circle cx="387.08" cy="95.22" r="1.65" fill="#3f56a6"/>
<circle cx="389.04" cy="95.22" r="1.65" fill="#3f56a6"/>
<circle cx="391" cy="95.22" r="1.65" fill="#3f56a6"/>
<circle cx="392.96" cy="95.22" r="1.65" fill="#3f56a6"/>
<circle cx="394.92" cy="93.72" r="1.65" fill="#3f56a6"/>
<circle cx="396.88" cy="93.72" r="1.65" fill="#3f56a6"/>
<circle cx="398.84" cy="93.72" r="1.65" fill="#3f56a6"/>
<circle cx="400.8" cy="93.72" r="1.65" fill="#3f56a6"/>
<circle cx="402.76" cy="93.72" r="1.65" fill="#3f56a6"/>
<circle cx="404.72" cy="93.72" r="1.65" fill="#3f56a6"/>
<circle cx="406.68" cy="92.22" r="1.65" fill="#3f56a6"/>
<circle cx="408.64" cy="92.22" r="1.65" fill="#3f56a6"/>
<circle cx="410.6" cy="92.22" r="1.65" fill="#3f56a6"/>
<circle cx="412.56" cy="92.22" r="1.65" fill="#3f56a6"/>
<circle cx="414.52" cy="92.22" r="1.65" fill="#3f56a6"/>
<circle cx="416.48" cy="92.22" r="1.65" fill="#3f56a6"/>
<circle cx="418.44" cy="92.22" r="1.65" fill="#3f56a6"/>
<circle cx="420.4" cy="92.22" r="1.65" fill="#3f56a6"/>
<circle cx="422.36" cy="90.72" r="1.65" fill="#3f56a6"/>
<circle cx="424.32" cy="90.72" r="1.65" fill="#3f56a6"/>
<circle cx="426.28" cy="90.72" r="1.65" fill="#3f56a6"/>
<circle cx="428.24" cy="90.72" r="1.65" fill="#3f56a6"/>
<circle cx="430.2" cy="90.72" r="1.65" fill="#3f56a6"/>
<circle cx="432.16" cy="90.72" r="1.65" fill="#3f56a6"/>
<circle cx="434.12" cy="90.72" r="1.65" fill="#3f56a6"/>
<circle cx="436.08" cy="89.21" r="1.65" fill="#3f56a6"/>
<circle cx="438.04" cy="89.21" r="1.65" fill="#3f56a6"/>
<circle cx="440" cy="89.21" r="1.65" fill="#3f56a6"/>
<circle cx="441.96" cy="89.21" r="1.65" fill="#3f56a6"/>
<circle cx="443.92" cy="89.21" r="1.65" fill="#3f56a6"/>
<circle cx="445.88" cy="87.71" r="1.65" fill="#3f56a6"/>
<circle cx="447.84" cy="87.71" r="1.65" fill="#3f56a6"/>
<circle cx="449.8" cy="87.71" r="1.65" fill="#3f56a6"/>
<circle cx="451.76" cy="87.71" r="1.65" fill="#3f56a6"/>
<circle cx="453.72" cy="87.71" r="1.65" fill="#3f56a6"/>
<circle cx="455.68" cy="87.71" r="1.65" fill="#3f56a6"/>
<circle cx="457.64" cy="86.21" r="1.65" fill="#3f56a6"/>
<circle cx="459.6" cy="86.21" r="1.65" fill="#3f56a6"/>
<circle cx="461.56" cy="86.21" r="1.65" fill="#3f56a6"/>
<circle cx="463.52" cy="86.21" r="1.65" fill="#3f56a6"/>
<circle cx="465.48" cy="86.21" r="1.65" fill="#3f56a6"/>
<circle cx="467.44" cy="84.71" r="1.65" fill="#3f56a6"/>
<circle cx="469.4" cy="84.71" r="1.65" fill="#3f56a6"/>
<circle cx="471.36" cy="84.71" r="1.65" fill="#3f56a6"/>
<circle cx="473.32" cy="84.71" r="1.65" fill="#3f56a6"/>
<circle cx="475.28" cy="83.2" r="1.65" fill="#3f56a6"/>
<circle cx="477.24" cy="83.2" r="1.65" fill="#3f56a6"/>
<circle cx="479.2" cy="83.2" r="1.65" fill="#3f56a6"/>
<circle cx="481.16" cy="81.7" r="1.65" fill="#3f56a6"/>
<circle cx="483.12" cy="81.7" r="1.65" fill="#3f56a6"/>
<circle cx="485.08" cy="81.7" r="1.65" fill="#3f56a6"/>
<circle cx="487.04" cy="80.2" r="1.65" fill="#3f56a6"/>
<circle cx="489" cy="80.2" r="1.65" fill="#3f56a6"/>
<circle cx="491" cy="78.7" r="1.65" fill="#ee2a24"/>
<circle cx="492.75" cy="78.7" r="1.65" fill="#ee2a24"/>
<circle cx="494.51" cy="77.2" r="1.65" fill="#ee2a24"/>
<circle cx="496.26" cy="77.2" r="1.65" fill="#ee2a24"/>
<circle cx="498.01" cy="77.2" r="1.65" fill="#ee2a24"/>
<circle cx="499.77" cy="77.2" r="1.65" fill="#ee2a24"/>
<circle cx="501.52" cy="77.2" r="1.65" fill="#ee2a24"/>
<circle cx="503.28" cy="77.2" r="1.65" fill="#ee2a24"/>
<circle cx="505.03" cy="77.2" r="1.65" fill="#ee2a24"/>
<circle cx="506.78" cy="77.2" r="1.65" fill="#ee2a24"/>
<circle cx="508.54" cy="75.69" r="1.65" fill="#ee2a24"/>
<circle cx="510.29" cy="75.69" r="1.65" fill="#ee2a24"/>
<circle cx="512.04" cy="75.69" r="1.65" fill="#ee2a24"/>
<circle cx="513.8" cy="75.69" r="1.65" fill="#ee2a24"/>
<circle cx="515.55" cy="75.69" r="1.65" fill="#ee2a24"/>
<circle cx="517.31" cy="74.19" r="1.65" fill="#ee2a24"/>
<circle cx="519.06" cy="74.19" r="1.65" fill="#ee2a24"/>
<circle cx="520.81" cy="74.19" r="1.65" fill="#ee2a24"/>
<circle cx="522.57" cy="74.19" r="1.65" fill="#ee2a24"/>
<circle cx="524.32" cy="74.19" r="1.65" fill="#ee2a24"/>
<circle cx="526.08" cy="72.69" r="1.65" fill="#ee2a24"/>
<circle cx="527.83" cy="72.69" r="1.65" fill="#ee2a24"/>
<circle cx="529.58" cy="72.69" r="1.65" fill="#ee2a24"/>
<circle cx="531.34" cy="72.69" r="1.65" fill="#ee2a24"/>
<circle cx="533.09" cy="71.19" r="1.65" fill="#ee2a24"/>
<circle cx="534.84" cy="71.19" r="1.65" fill="#ee2a24"/>
<circle cx="536.6" cy="71.19" r="1.65" fill="#ee2a24"/>
<circle cx="538.35" cy="71.19" r="1.65" fill="#ee2a24"/>
<circle cx="540.11" cy="71.19" r="1.65" fill="#ee2a24"/>
<circle cx="541.86" cy="71.19" r="1.65" fill="#ee2a24"/>
<circle cx="543.61" cy="69.68" r="1.65" fill="#ee2a24"/>
<circle cx="545.37" cy="69.68" r="1.65" fill="#ee2a24"/>
<circle cx="547.12" cy="69.68" r="1.65" fill="#ee2a24"/>
<circle cx="548.87" cy="69.68" r="1.65" fill="#ee2a24"/>
<circle cx="550.63" cy="69.68" r="1.65" fill="#ee2a24"/>
<circle cx="552.38" cy="69.68" r="1.65" fill="#ee2a24"/>
<circle cx="554.13" cy="69.68" r="1.65" fill="#ee2a24"/>
<circle cx="555.89" cy="68.18" r="1.65" fill="#ee2a24"/>
<circle cx="557.64" cy="68.18" r="1.65" fill="#ee2a24"/>
<circle cx="559.4" cy="68.18" r="1.65" fill="#ee2a24"/>
<circle cx="561.15" cy="68.18" r="1.65" fill="#ee2a24"/>
<circle cx="562.9" cy="68.18" r="1.65" fill="#ee2a24"/>
<circle cx="564.66" cy="68.18" r="1.65" fill="#ee2a24"/>
<circle cx="566.41" cy="66.68" r="1.65" fill="#ee2a24"/>
<circle cx="568.16" cy="66.68" r="1.65" fill="#ee2a24"/>
<circle cx="569.92" cy="66.68" r="1.65" fill="#ee2a24"/>
<circle cx="571.67" cy="66.68" r="1.65" fill="#ee2a24"/>
<circle cx="573.43" cy="65.18" r="1.65" fill="#ee2a24"/>
<circle cx="575.18" cy="65.18" r="1.65" fill="#ee2a24"/>
<circle cx="576.93" cy="65.18" r="1.65" fill="#ee2a24"/>
<circle cx="578.69" cy="65.18" r="1.65" fill="#ee2a24"/>
<circle cx="580.44" cy="63.68" r="1.65" fill="#ee2a24"/>
<circle cx="582.19" cy="63.68" r="1.65" fill="#ee2a24"/>
<circle cx="583.95" cy="63.68" r="1.65" fill="#ee2a24"/>
<circle cx="585.7" cy="62.17" r="1.65" fill="#ee2a24"/>
<circle cx="587.46" cy="60.67" r="1.65" fill="#ee2a24"/>
<circle cx="589.21" cy="59.17" r="1.65" fill="#ee2a24"/>
<circle cx="590.96" cy="57.67" r="1.65" fill="#ee2a24"/>
<circle cx="592.72" cy="56.16" r="1.65" fill="#ee2a24"/>
<circle cx="594.47" cy="56.16" r="1.65" fill="#ee2a24"/>
<circle cx="596.22" cy="56.16" r="1.65" fill="#ee2a24"/>
<circle cx="597.98" cy="56.16" r="1.65" fill="#ee2a24"/>
<circle cx="599.73" cy="54.66" r="1.65" fill="#ee2a24"/>
<circle cx="601.49" cy="54.66" r="1.65" fill="#ee2a24"/>
<circle cx="603.24" cy="54.66" r="1.65" fill="#ee2a24"/>
<circle cx="604.99" cy="53.16" r="1.65" fill="#ee2a24"/>
<circle cx="606.75" cy="53.16" r="1.65" fill="#ee2a24"/>
<circle cx="608.5" cy="51.66" r="1.65" fill="#ee2a24"/>
<circle cx="610.25" cy="50.16" r="1.65" fill="#ee2a24"/>
<circle cx="612.01" cy="50.16" r="1.65" fill="#ee2a24"/>
<circle cx="613.76" cy="48.65" r="1.65" fill="#ee2a24"/>
<circle cx="615.52" cy="48.65" r="1.65" fill="#ee2a24"/>
<circle cx="617.27" cy="47.15" r="1.65" fill="#ee2a24"/>
<circle cx="619.02" cy="47.15" r="1.65" fill="#ee2a24"/>
<circle cx="620.78" cy="47.15" r="1.65" fill="#ee2a24"/>
<circle cx="622.53" cy="45.65" r="1.65" fill="#ee2a24"/>
<circle cx="624.28" cy="45.65" r="1.65" fill="#ee2a24"/>
<circle cx="626.04" cy="44.15" r="1.65" fill="#ee2a24"/>
<circle cx="627.79" cy="39.64" r="1.65" fill="#ee2a24"/>
<circle cx="629.55" cy="35.87" r="1.65" fill="#ee2a24"/>
<circle cx="631.3" cy="34.73" r="1.65" fill="#ee2a24"/>
<text x="641.4" y="64.2" font-size="7.6" text-anchor="start" fill="#222" stroke="#222" stroke-width="0.08">Risk Group</text>
<circle cx="646.5" cy="72.5" r="1.7" fill="#ee2a24"/>
<text x="649.6" y="74.7" font-size="7.6" text-anchor="start" fill="#222" stroke="#222" stroke-width="0.08">High</text>
<circle cx="646.5" cy="82.4" r="1.7" fill="#3f56a6"/>
<text x="649.6" y="84.6" font-size="7.6" text-anchor="start" fill="#222" stroke="#222" stroke-width="0.08">Low</text>
<line x1="317.2" y1="121.8" x2="317.2" y2="205.5" stroke="#333" stroke-width="0.9"/>
<line x1="315.2" y1="144.7" x2="317.2" y2="144.7" stroke="#333" stroke-width="0.8"/>
<text x="314" y="147.2" font-size="7" text-anchor="end" fill="#555" stroke="#555" stroke-width="0.08">10</text>
<line x1="315.2" y1="173.35" x2="317.2" y2="173.35" stroke="#333" stroke-width="0.8"/>
<text x="314" y="175.85" font-size="7" text-anchor="end" fill="#555" stroke="#555" stroke-width="0.08">5</text>
<line x1="315.2" y1="202" x2="317.2" y2="202" stroke="#333" stroke-width="0.8"/>
<text x="314" y="204.5" font-size="7" text-anchor="end" fill="#555" stroke="#555" stroke-width="0.08">0</text>
<text x="303" y="162.2" font-size="7.9" text-anchor="middle" fill="#111" stroke="#111" stroke-width="0.08" font-weight="bold" transform="rotate(-90 303 162.2)">Survival Time</text>
<circle cx="322.99" cy="136.13" r="1.65" fill="#3f56a6"/>
<circle cx="324.83" cy="137.97" r="1.65" fill="#3f56a6"/>
<circle cx="328.51" cy="139.02" r="1.65" fill="#3f56a6"/>
<circle cx="330.48" cy="132.72" r="1.65" fill="#3f56a6"/>
<circle cx="332.19" cy="131.8" r="1.65" fill="#3f56a6"/>
<circle cx="334.03" cy="144.28" r="1.65" fill="#3f56a6"/>
<circle cx="339.68" cy="137.45" r="1.65" fill="#3f56a6"/>
<circle cx="341.65" cy="126.28" r="1.65" fill="#3f56a6"/>
<circle cx="349.27" cy="154.79" r="1.65" fill="#3f56a6"/>
<circle cx="337.71" cy="181.46" r="1.65" fill="#3f56a6"/>
<circle cx="336.13" cy="194.21" r="1.65" fill="#3f56a6"/>
<circle cx="352.42" cy="137.05" r="1.65" fill="#3f56a6"/>
<circle cx="354.53" cy="139.02" r="1.65" fill="#3f56a6"/>
<circle cx="356.37" cy="130.35" r="1.65" fill="#3f56a6"/>
<circle cx="358.47" cy="194.21" r="1.65" fill="#3f56a6"/>
<circle cx="360.31" cy="148.48" r="1.65" fill="#3f56a6"/>
<circle cx="362.41" cy="143.62" r="1.65" fill="#3f56a6"/>
<circle cx="363.99" cy="132.72" r="1.65" fill="#3f56a6"/>
<circle cx="365.83" cy="131.4" r="1.65" fill="#3f56a6"/>
<circle cx="367.66" cy="141.91" r="1.65" fill="#3f56a6"/>
<circle cx="369.5" cy="145.99" r="1.65" fill="#3f56a6"/>
<circle cx="373.45" cy="138.37" r="1.65" fill="#3f56a6"/>
<circle cx="375.29" cy="164.51" r="1.65" fill="#3f56a6"/>
<circle cx="377.12" cy="148.48" r="1.65" fill="#3f56a6"/>
<circle cx="378.7" cy="134.42" r="1.65" fill="#3f56a6"/>
<circle cx="382.38" cy="163.33" r="1.65" fill="#3f56a6"/>
<circle cx="386.32" cy="132.19" r="1.65" fill="#3f56a6"/>
<circle cx="390" cy="135.47" r="1.65" fill="#3f56a6"/>
<circle cx="395.52" cy="147.83" r="1.65" fill="#3f56a6"/>
<circle cx="397.49" cy="200.12" r="1.65" fill="#3f56a6"/>
<circle cx="399.46" cy="155.31" r="1.65" fill="#3f56a6"/>
<circle cx="393.55" cy="158.73" r="1.65" fill="#3f56a6"/>
<circle cx="403.14" cy="136.66" r="1.65" fill="#3f56a6"/>
<circle cx="404.72" cy="135.08" r="1.65" fill="#3f56a6"/>
<circle cx="406.69" cy="143.62" r="1.65" fill="#3f56a6"/>
<circle cx="326.67" cy="146.64" r="1.65" fill="#ee2a24"/>
<circle cx="345.33" cy="161.75" r="1.65" fill="#ee2a24"/>
<circle cx="347.17" cy="148.48" r="1.65" fill="#ee2a24"/>
<circle cx="343.62" cy="200.51" r="1.65" fill="#ee2a24"/>
<circle cx="350.85" cy="197.62" r="1.65" fill="#ee2a24"/>
<circle cx="371.21" cy="191.31" r="1.65" fill="#ee2a24"/>
<circle cx="380.8" cy="147.17" r="1.65" fill="#ee2a24"/>
<circle cx="388.16" cy="151.9" r="1.65" fill="#ee2a24"/>
<circle cx="384.48" cy="162.93" r="1.65" fill="#ee2a24"/>
<circle cx="391.84" cy="161.75" r="1.65" fill="#ee2a24"/>
<circle cx="401.04" cy="187.24" r="1.65" fill="#ee2a24"/>
<circle cx="408" cy="187.24" r="1.65" fill="#ee2a24"/>
<circle cx="415.77" cy="133.11" r="1.65" fill="#3f56a6"/>
<circle cx="417.88" cy="135.34" r="1.65" fill="#3f56a6"/>
<circle cx="419.45" cy="132.19" r="1.65" fill="#3f56a6"/>
<circle cx="427.07" cy="145.99" r="1.65" fill="#3f56a6"/>
<circle cx="431.01" cy="143.62" r="1.65" fill="#3f56a6"/>
<circle cx="432.59" cy="159.52" r="1.65" fill="#3f56a6"/>
<circle cx="434.56" cy="134.03" r="1.65" fill="#3f56a6"/>
<circle cx="438.37" cy="126.93" r="1.65" fill="#3f56a6"/>
<circle cx="440.21" cy="130.35" r="1.65" fill="#3f56a6"/>
<circle cx="442.05" cy="135.47" r="1.65" fill="#3f56a6"/>
<circle cx="425.37" cy="181.46" r="1.65" fill="#3f56a6"/>
<circle cx="447.57" cy="143.62" r="1.65" fill="#3f56a6"/>
<circle cx="451.25" cy="189.08" r="1.65" fill="#3f56a6"/>
<circle cx="453.35" cy="153.47" r="1.65" fill="#3f56a6"/>
<circle cx="458.61" cy="138.37" r="1.65" fill="#3f56a6"/>
<circle cx="460.71" cy="144.28" r="1.65" fill="#3f56a6"/>
<circle cx="462.55" cy="195.39" r="1.65" fill="#3f56a6"/>
<circle cx="464.39" cy="140.34" r="1.65" fill="#3f56a6"/>
<circle cx="466.23" cy="153.47" r="1.65" fill="#3f56a6"/>
<circle cx="468.33" cy="139.02" r="1.65" fill="#3f56a6"/>
<circle cx="469.91" cy="136.66" r="1.65" fill="#3f56a6"/>
<circle cx="473.58" cy="125.88" r="1.65" fill="#3f56a6"/>
<circle cx="475.56" cy="138.37" r="1.65" fill="#3f56a6"/>
<circle cx="477.26" cy="199.46" r="1.65" fill="#3f56a6"/>
<circle cx="480.94" cy="174.1" r="1.65" fill="#3f56a6"/>
<circle cx="486.46" cy="180.41" r="1.65" fill="#3f56a6"/>
<circle cx="490.4" cy="135.08" r="1.65" fill="#3f56a6"/>
<circle cx="408.55" cy="187.24" r="1.65" fill="#ee2a24"/>
<circle cx="410.52" cy="165.04" r="1.65" fill="#ee2a24"/>
<circle cx="412.23" cy="164.64" r="1.65" fill="#ee2a24"/>
<circle cx="414.2" cy="191.97" r="1.65" fill="#ee2a24"/>
<circle cx="421.42" cy="195.39" r="1.65" fill="#ee2a24"/>
<circle cx="423.39" cy="167.01" r="1.65" fill="#ee2a24"/>
<circle cx="428.91" cy="198.8" r="1.65" fill="#ee2a24"/>
<circle cx="436.27" cy="186.06" r="1.65" fill="#ee2a24"/>
<circle cx="443.76" cy="163.59" r="1.65" fill="#ee2a24"/>
<circle cx="445.73" cy="143.62" r="1.65" fill="#ee2a24"/>
<circle cx="449.41" cy="176.21" r="1.65" fill="#ee2a24"/>
<circle cx="454.93" cy="150.58" r="1.65" fill="#ee2a24"/>
<circle cx="457.03" cy="163.59" r="1.65" fill="#ee2a24"/>
<circle cx="471.75" cy="189.08" r="1.65" fill="#ee2a24"/>
<circle cx="479.23" cy="186.06" r="1.65" fill="#ee2a24"/>
<circle cx="482.91" cy="194.86" r="1.65" fill="#ee2a24"/>
<circle cx="484.62" cy="185.4" r="1.65" fill="#ee2a24"/>
<circle cx="488.04" cy="184.35" r="1.65" fill="#ee2a24"/>
<circle cx="491.98" cy="198.8" r="1.65" fill="#ee2a24"/>
<circle cx="493.82" cy="175.55" r="1.65" fill="#ee2a24"/>
<circle cx="510.76" cy="141.39" r="1.65" fill="#3f56a6"/>
<circle cx="533.1" cy="136.66" r="1.65" fill="#3f56a6"/>
<circle cx="505.24" cy="162.93" r="1.65" fill="#3f56a6"/>
<circle cx="514.31" cy="199.2" r="1.65" fill="#3f56a6"/>
<circle cx="542.56" cy="199.46" r="1.65" fill="#3f56a6"/>
<circle cx="546.23" cy="191.31" r="1.65" fill="#3f56a6"/>
<circle cx="493.94" cy="175.55" r="1.65" fill="#ee2a24"/>
<circle cx="492.36" cy="198.8" r="1.65" fill="#ee2a24"/>
<circle cx="495.91" cy="195.91" r="1.65" fill="#ee2a24"/>
<circle cx="497.88" cy="199.2" r="1.65" fill="#ee2a24"/>
<circle cx="499.85" cy="198.15" r="1.65" fill="#ee2a24"/>
<circle cx="501.56" cy="197.23" r="1.65" fill="#ee2a24"/>
<circle cx="503.14" cy="199.46" r="1.65" fill="#ee2a24"/>
<circle cx="507.08" cy="180.41" r="1.65" fill="#ee2a24"/>
<circle cx="509.05" cy="189.08" r="1.65" fill="#ee2a24"/>
<circle cx="512.6" cy="185.4" r="1.65" fill="#ee2a24"/>
<circle cx="516.28" cy="201.69" r="1.65" fill="#ee2a24"/>
<circle cx="518.25" cy="168.19" r="1.65" fill="#ee2a24"/>
<circle cx="521.8" cy="167.66" r="1.65" fill="#ee2a24"/>
<circle cx="525.47" cy="168.72" r="1.65" fill="#ee2a24"/>
<circle cx="519.96" cy="195.91" r="1.65" fill="#ee2a24"/>
<circle cx="523.9" cy="193.02" r="1.65" fill="#ee2a24"/>
<circle cx="527.45" cy="197.49" r="1.65" fill="#ee2a24"/>
<circle cx="529.15" cy="151.9" r="1.65" fill="#ee2a24"/>
<circle cx="531.39" cy="179.49" r="1.65" fill="#ee2a24"/>
<circle cx="534.93" cy="183.17" r="1.65" fill="#ee2a24"/>
<circle cx="536.64" cy="175.15" r="1.65" fill="#ee2a24"/>
<circle cx="538.61" cy="164.38" r="1.65" fill="#ee2a24"/>
<circle cx="540.58" cy="180.41" r="1.65" fill="#ee2a24"/>
<circle cx="544.13" cy="181.46" r="1.65" fill="#ee2a24"/>
<circle cx="547.81" cy="190.13" r="1.65" fill="#ee2a24"/>
<circle cx="549.78" cy="184.35" r="1.65" fill="#ee2a24"/>
<circle cx="551.49" cy="200.12" r="1.65" fill="#ee2a24"/>
<circle cx="553.46" cy="172.53" r="1.65" fill="#ee2a24"/>
<circle cx="555.43" cy="184.35" r="1.65" fill="#ee2a24"/>
<circle cx="557.27" cy="160.44" r="1.65" fill="#ee2a24"/>
<circle cx="559.24" cy="182.12" r="1.65" fill="#ee2a24"/>
<circle cx="560.95" cy="198.8" r="1.65" fill="#ee2a24"/>
<circle cx="562.79" cy="186.45" r="1.65" fill="#ee2a24"/>
<circle cx="564.63" cy="183.04" r="1.65" fill="#ee2a24"/>
<circle cx="566.47" cy="201.69" r="1.65" fill="#ee2a24"/>
<circle cx="568.57" cy="198.41" r="1.65" fill="#ee2a24"/>
<circle cx="570.15" cy="167.01" r="1.65" fill="#ee2a24"/>
<circle cx="572.12" cy="198.8" r="1.65" fill="#ee2a24"/>
<circle cx="574.09" cy="193.55" r="1.65" fill="#ee2a24"/>
<circle cx="576.06" cy="193.55" r="1.65" fill="#ee2a24"/>
<circle cx="577.77" cy="185.4" r="1.65" fill="#ee2a24"/>
<circle cx="579.34" cy="200.12" r="1.65" fill="#ee2a24"/>
<circle cx="625.98" cy="134.03" r="1.65" fill="#3f56a6"/>
<circle cx="609.42" cy="157.02" r="1.65" fill="#3f56a6"/>
<circle cx="611.13" cy="187.24" r="1.65" fill="#3f56a6"/>
<circle cx="583.15" cy="173.45" r="1.65" fill="#ee2a24"/>
<circle cx="584.99" cy="182.12" r="1.65" fill="#ee2a24"/>
<circle cx="581.31" cy="192.5" r="1.65" fill="#ee2a24"/>
<circle cx="586.82" cy="193.55" r="1.65" fill="#ee2a24"/>
<circle cx="588.8" cy="197.23" r="1.65" fill="#ee2a24"/>
<circle cx="590.5" cy="197.23" r="1.65" fill="#ee2a24"/>
<circle cx="592.47" cy="192.5" r="1.65" fill="#ee2a24"/>
<circle cx="594.45" cy="200.12" r="1.65" fill="#ee2a24"/>
<circle cx="596.02" cy="198.15" r="1.65" fill="#ee2a24"/>
<circle cx="597.99" cy="200.12" r="1.65" fill="#ee2a24"/>
<circle cx="599.96" cy="198.15" r="1.65" fill="#ee2a24"/>
<circle cx="601.93" cy="201.43" r="1.65" fill="#ee2a24"/>
<circle cx="603.64" cy="194.21" r="1.65" fill="#ee2a24"/>
<circle cx="605.48" cy="201.69" r="1.65" fill="#ee2a24"/>
<circle cx="607.58" cy="200.51" r="1.65" fill="#ee2a24"/>
<circle cx="613.1" cy="200.51" r="1.65" fill="#ee2a24"/>
<circle cx="615.07" cy="197.23" r="1.65" fill="#ee2a24"/>
<circle cx="616.78" cy="195.26" r="1.65" fill="#ee2a24"/>
<circle cx="618.62" cy="199.46" r="1.65" fill="#ee2a24"/>
<circle cx="622.56" cy="201.17" r="1.65" fill="#ee2a24"/>
<circle cx="624.27" cy="195.26" r="1.65" fill="#ee2a24"/>
<circle cx="627.56" cy="199.46" r="1.65" fill="#ee2a24"/>
<circle cx="629.53" cy="195.26" r="1.65" fill="#ee2a24"/>
<circle cx="631.76" cy="198.15" r="1.65" fill="#ee2a24"/>
<circle cx="620.46" cy="158.34" r="1.65" fill="#ee2a24"/>
<line x1="490" y1="34" x2="490" y2="209" stroke="#000" stroke-width="1.5" stroke-dasharray="1.5 5.2"/>
<text x="641.7" y="155" font-size="7.6" text-anchor="start" fill="#222" stroke="#222" stroke-width="0.08">Status</text>
<circle cx="646.6" cy="164" r="1.5" fill="#3f56a6"/>
<text x="653.6" y="166.6" font-size="7.6" text-anchor="start" fill="#222" stroke="#222" stroke-width="0.08">Alive</text>
<circle cx="646.6" cy="173.8" r="1.5" fill="#ee2a24"/>
<text x="653.6" y="176.4" font-size="7.6" text-anchor="start" fill="#222" stroke="#222" stroke-width="0.08">Dead</text>
<rect x="322.4" y="212.9" width="168.4" height="7.8" fill="#3f56a6" stroke="none" stroke-width="1"/>
<rect x="490.8" y="212.9" width="140.6" height="7.8" fill="#ee2a24" stroke="none" stroke-width="1"/>
<rect x="322.4" y="224" width="2.2" height="29.6" fill="#f0edf7"/>
<rect x="324.25" y="224" width="2.2" height="29.6" fill="#d4ccea"/>
<rect x="326.1" y="224" width="2.2" height="29.6" fill="#d9d1ec"/>
<rect x="327.95" y="224" width="2.2" height="29.6" fill="#d9d1ec"/>
<rect x="329.8" y="224" width="2.2" height="29.6" fill="#e9e5f4"/>
<rect x="331.65" y="224" width="2.2" height="29.6" fill="#e5dff2"/>
<rect x="333.5" y="224" width="2.2" height="29.6" fill="#f6f4fb"/>
<rect x="335.35" y="224" width="2.2" height="29.6" fill="#d6ceeb"/>
<rect x="337.2" y="224" width="2.2" height="29.6" fill="#e4def2"/>
<rect x="339.05" y="224" width="2.2" height="29.6" fill="#f6f4fb"/>
<rect x="340.9" y="224" width="2.2" height="29.6" fill="#efecf7"/>
<rect x="342.75" y="224" width="2.2" height="29.6" fill="#d0c7e8"/>
<rect x="344.6" y="224" width="2.2" height="29.6" fill="#f1eef8"/>
<rect x="346.45" y="224" width="2.2" height="29.6" fill="#ded7ef"/>
<rect x="348.3" y="224" width="2.2" height="29.6" fill="#ece9f6"/>
<rect x="350.15" y="224" width="2.2" height="29.6" fill="#ebe7f5"/>
<rect x="352" y="224" width="2.2" height="29.6" fill="#faf9fd"/>
<rect x="353.86" y="224" width="2.2" height="29.6" fill="#e8e3f4"/>
<rect x="355.71" y="224" width="2.2" height="29.6" fill="#c7bce3"/>
<rect x="357.56" y="224" width="2.2" height="29.6" fill="#cfc6e7"/>
<rect x="359.41" y="224" width="2.2" height="29.6" fill="#f2f0f9"/>
<rect x="361.26" y="224" width="2.2" height="29.6" fill="#e2dcf1"/>
<rect x="363.11" y="224" width="2.2" height="29.6" fill="#f9f8fc"/>
<rect x="364.96" y="224" width="2.2" height="29.6" fill="#ebe6f5"/>
<rect x="366.81" y="224" width="2.2" height="29.6" fill="#dad2ed"/>
<rect x="368.66" y="224" width="2.2" height="29.6" fill="#f8f7fc"/>
<rect x="370.51" y="224" width="2.2" height="29.6" fill="#d9d1ec"/>
<rect x="372.36" y="224" width="2.2" height="29.6" fill="#c4b8e2"/>
<rect x="374.21" y="224" width="2.2" height="29.6" fill="#fcf0ec"/>
<rect x="376.06" y="224" width="2.2" height="29.6" fill="#c6bbe3"/>
<rect x="377.91" y="224" width="2.2" height="29.6" fill="#f1eef8"/>
<rect x="379.76" y="224" width="2.2" height="29.6" fill="#f6f4fa"/>
<rect x="381.61" y="224" width="2.2" height="29.6" fill="#e9e4f4"/>
<rect x="383.46" y="224" width="2.2" height="29.6" fill="#cabfe5"/>
<rect x="385.31" y="224" width="2.2" height="29.6" fill="#f7f5fb"/>
<rect x="387.16" y="224" width="2.2" height="29.6" fill="#cec4e7"/>
<rect x="389.01" y="224" width="2.2" height="29.6" fill="#d0c6e8"/>
<rect x="390.86" y="224" width="2.2" height="29.6" fill="#f8dad2"/>
<rect x="392.71" y="224" width="2.2" height="29.6" fill="#f3f1f9"/>
<rect x="394.56" y="224" width="2.2" height="29.6" fill="#ebe7f5"/>
<rect x="396.41" y="224" width="2.2" height="29.6" fill="#f4f1f9"/>
<rect x="398.26" y="224" width="2.2" height="29.6" fill="#dfd8ef"/>
<rect x="400.11" y="224" width="2.2" height="29.6" fill="#e3def1"/>
<rect x="401.96" y="224" width="2.2" height="29.6" fill="#d3cae9"/>
<rect x="403.81" y="224" width="2.2" height="29.6" fill="#e1dbf0"/>
<rect x="405.66" y="224" width="2.2" height="29.6" fill="#f0edf8"/>
<rect x="407.51" y="224" width="2.2" height="29.6" fill="#e1dbf0"/>
<rect x="409.36" y="224" width="2.2" height="29.6" fill="#eeebf7"/>
<rect x="411.21" y="224" width="2.2" height="29.6" fill="#ddd6ee"/>
<rect x="413.06" y="224" width="2.2" height="29.6" fill="#dcd5ee"/>
<rect x="414.91" y="224" width="2.2" height="29.6" fill="#e7e2f3"/>
<rect x="416.77" y="224" width="2.2" height="29.6" fill="#e3ddf1"/>
<rect x="418.62" y="224" width="2.2" height="29.6" fill="#f0edf8"/>
<rect x="420.47" y="224" width="2.2" height="29.6" fill="#e9e5f4"/>
<rect x="422.32" y="224" width="2.2" height="29.6" fill="#fef8f7"/>
<rect x="424.17" y="224" width="2.2" height="29.6" fill="#e2ddf1"/>
<rect x="426.02" y="224" width="2.2" height="29.6" fill="#e2dcf1"/>
<rect x="427.87" y="224" width="2.2" height="29.6" fill="#d5ccea"/>
<rect x="429.72" y="224" width="2.2" height="29.6" fill="#e6e1f3"/>
<rect x="431.57" y="224" width="2.2" height="29.6" fill="#f1eff8"/>
<rect x="433.42" y="224" width="2.2" height="29.6" fill="#dad2ed"/>
<rect x="435.27" y="224" width="2.2" height="29.6" fill="#e5e0f2"/>
<rect x="437.12" y="224" width="2.2" height="29.6" fill="#f2eff9"/>
<rect x="438.97" y="224" width="2.2" height="29.6" fill="#e4def2"/>
<rect x="440.82" y="224" width="2.2" height="29.6" fill="#e5e0f2"/>
<rect x="442.67" y="224" width="2.2" height="29.6" fill="#f6f4fb"/>
<rect x="444.52" y="224" width="2.2" height="29.6" fill="#e8e3f3"/>
<rect x="446.37" y="224" width="2.2" height="29.6" fill="#ede9f6"/>
<rect x="448.22" y="224" width="2.2" height="29.6" fill="#faf8fc"/>
<rect x="450.07" y="224" width="2.2" height="29.6" fill="#f9f8fc"/>
<rect x="451.92" y="224" width="2.2" height="29.6" fill="#f9dfd8"/>
<rect x="453.77" y="224" width="2.2" height="29.6" fill="#ddd6ee"/>
<rect x="455.62" y="224" width="2.2" height="29.6" fill="#ebe7f5"/>
<rect x="457.47" y="224" width="2.2" height="29.6" fill="#e4def2"/>
<rect x="459.32" y="224" width="2.2" height="29.6" fill="#c7bbe3"/>
<rect x="461.17" y="224" width="2.2" height="29.6" fill="#fbfbfd"/>
<rect x="463.02" y="224" width="2.2" height="29.6" fill="#e6e1f3"/>
<rect x="464.87" y="224" width="2.2" height="29.6" fill="#f2f0f9"/>
<rect x="466.72" y="224" width="2.2" height="29.6" fill="#d3cae9"/>
<rect x="468.57" y="224" width="2.2" height="29.6" fill="#fbfbfd"/>
<rect x="470.42" y="224" width="2.2" height="29.6" fill="#dcd5ee"/>
<rect x="472.27" y="224" width="2.2" height="29.6" fill="#e4dff2"/>
<rect x="474.12" y="224" width="2.2" height="29.6" fill="#f4f2fa"/>
<rect x="475.97" y="224" width="2.2" height="29.6" fill="#e3def1"/>
<rect x="477.83" y="224" width="2.2" height="29.6" fill="#e2dcf1"/>
<rect x="479.68" y="224" width="2.2" height="29.6" fill="#e3ddf1"/>
<rect x="481.53" y="224" width="2.2" height="29.6" fill="#edeaf6"/>
<rect x="483.38" y="224" width="2.2" height="29.6" fill="#e7e2f3"/>
<rect x="485.23" y="224" width="2.2" height="29.6" fill="#f6f5fb"/>
<rect x="487.08" y="224" width="2.2" height="29.6" fill="#ded8ef"/>
<rect x="488.93" y="224" width="2.2" height="29.6" fill="#d6cdeb"/>
<rect x="490.78" y="224" width="2.2" height="29.6" fill="#f8d9d1"/>
<rect x="492.63" y="224" width="2.2" height="29.6" fill="#fdf5f3"/>
<rect x="494.48" y="224" width="2.2" height="29.6" fill="#fef8f6"/>
<rect x="496.33" y="224" width="2.2" height="29.6" fill="#f4f2fa"/>
<rect x="498.18" y="224" width="2.2" height="29.6" fill="#fae6e1"/>
<rect x="500.03" y="224" width="2.2" height="29.6" fill="#ec9883"/>
<rect x="501.88" y="224" width="2.2" height="29.6" fill="#f7d1c8"/>
<rect x="503.73" y="224" width="2.2" height="29.6" fill="#fdfcfe"/>
<rect x="505.58" y="224" width="2.2" height="29.6" fill="#f9f8fc"/>
<rect x="507.43" y="224" width="2.2" height="29.6" fill="#f0edf7"/>
<rect x="509.28" y="224" width="2.2" height="29.6" fill="#fae5e0"/>
<rect x="511.13" y="224" width="2.2" height="29.6" fill="#fae5df"/>
<rect x="512.98" y="224" width="2.2" height="29.6" fill="#e1dbf0"/>
<rect x="514.83" y="224" width="2.2" height="29.6" fill="#f9e1db"/>
<rect x="516.68" y="224" width="2.2" height="29.6" fill="#f7f5fb"/>
<rect x="518.53" y="224" width="2.2" height="29.6" fill="#f2baac"/>
<rect x="520.38" y="224" width="2.2" height="29.6" fill="#fceeeb"/>
<rect x="522.23" y="224" width="2.2" height="29.6" fill="#f0ae9e"/>
<rect x="524.08" y="224" width="2.2" height="29.6" fill="#f0ac9b"/>
<rect x="525.93" y="224" width="2.2" height="29.6" fill="#fefeff"/>
<rect x="527.78" y="224" width="2.2" height="29.6" fill="#fbe8e4"/>
<rect x="529.63" y="224" width="2.2" height="29.6" fill="#f5c9be"/>
<rect x="531.48" y="224" width="2.2" height="29.6" fill="#f9ddd7"/>
<rect x="533.33" y="224" width="2.2" height="29.6" fill="#e7e1f3"/>
<rect x="535.18" y="224" width="2.2" height="29.6" fill="#fcedea"/>
<rect x="537.03" y="224" width="2.2" height="29.6" fill="#fdf4f2"/>
<rect x="538.89" y="224" width="2.2" height="29.6" fill="#fbfafd"/>
<rect x="540.74" y="224" width="2.2" height="29.6" fill="#fef8f7"/>
<rect x="542.59" y="224" width="2.2" height="29.6" fill="#e98971"/>
<rect x="544.44" y="224" width="2.2" height="29.6" fill="#fcfbfd"/>
<rect x="546.29" y="224" width="2.2" height="29.6" fill="#f0edf8"/>
<rect x="548.14" y="224" width="2.2" height="29.6" fill="#f8dbd3"/>
<rect x="549.99" y="224" width="2.2" height="29.6" fill="#fcefec"/>
<rect x="551.84" y="224" width="2.2" height="29.6" fill="#fef8f6"/>
<rect x="553.69" y="224" width="2.2" height="29.6" fill="#f7d5cc"/>
<rect x="555.54" y="224" width="2.2" height="29.6" fill="#f9e1da"/>
<rect x="557.39" y="224" width="2.2" height="29.6" fill="#fae6e1"/>
<rect x="559.24" y="224" width="2.2" height="29.6" fill="#f6cdc3"/>
<rect x="561.09" y="224" width="2.2" height="29.6" fill="#fbe9e5"/>
<rect x="562.94" y="224" width="2.2" height="29.6" fill="#f6f4fa"/>
<rect x="564.79" y="224" width="2.2" height="29.6" fill="#fcfcfe"/>
<rect x="566.64" y="224" width="2.2" height="29.6" fill="#f8f7fc"/>
<rect x="568.49" y="224" width="2.2" height="29.6" fill="#fcece8"/>
<rect x="570.34" y="224" width="2.2" height="29.6" fill="#eae6f5"/>
<rect x="572.19" y="224" width="2.2" height="29.6" fill="#d8d0ec"/>
<rect x="574.04" y="224" width="2.2" height="29.6" fill="#fcf1ee"/>
<rect x="575.89" y="224" width="2.2" height="29.6" fill="#e4def2"/>
<rect x="577.74" y="224" width="2.2" height="29.6" fill="#d5ccea"/>
<rect x="579.59" y="224" width="2.2" height="29.6" fill="#fae5e0"/>
<rect x="581.44" y="224" width="2.2" height="29.6" fill="#f4f1f9"/>
<rect x="583.29" y="224" width="2.2" height="29.6" fill="#f9e0da"/>
<rect x="585.14" y="224" width="2.2" height="29.6" fill="#f8f7fc"/>
<rect x="586.99" y="224" width="2.2" height="29.6" fill="#e9e5f4"/>
<rect x="588.84" y="224" width="2.2" height="29.6" fill="#e6e1f3"/>
<rect x="590.69" y="224" width="2.2" height="29.6" fill="#f8f7fc"/>
<rect x="592.54" y="224" width="2.2" height="29.6" fill="#fefeff"/>
<rect x="594.39" y="224" width="2.2" height="29.6" fill="#f1eef8"/>
<rect x="596.24" y="224" width="2.2" height="29.6" fill="#fefeff"/>
<rect x="598.09" y="224" width="2.2" height="29.6" fill="#dfd8ef"/>
<rect x="599.94" y="224" width="2.2" height="29.6" fill="#fdf4f2"/>
<rect x="601.8" y="224" width="2.2" height="29.6" fill="#d9d1ec"/>
<rect x="603.65" y="224" width="2.2" height="29.6" fill="#fffdfc"/>
<rect x="605.5" y="224" width="2.2" height="29.6" fill="#f8d8d0"/>
<rect x="607.35" y="224" width="2.2" height="29.6" fill="#f5c8bd"/>
<rect x="609.2" y="224" width="2.2" height="29.6" fill="#f0ae9e"/>
<rect x="611.05" y="224" width="2.2" height="29.6" fill="#ded8ef"/>
<rect x="612.9" y="224" width="2.2" height="29.6" fill="#e6765a"/>
<rect x="614.75" y="224" width="2.2" height="29.6" fill="#ea8d76"/>
<rect x="616.6" y="224" width="2.2" height="29.6" fill="#f6ccc2"/>
<rect x="618.45" y="224" width="2.2" height="29.6" fill="#eeebf7"/>
<rect x="620.3" y="224" width="2.2" height="29.6" fill="#fae4de"/>
<rect x="622.15" y="224" width="2.2" height="29.6" fill="#efa897"/>
<rect x="624" y="224" width="2.2" height="29.6" fill="#e0daf0"/>
<rect x="625.85" y="224" width="2.2" height="29.6" fill="#fae1db"/>
<rect x="627.7" y="224" width="2.2" height="29.6" fill="#f5c7bc"/>
<rect x="629.55" y="224" width="2.2" height="29.6" fill="#f4c5b9"/>
<rect x="322.4" y="254.3" width="2.2" height="29" fill="#ac9bd6"/>
<rect x="324.25" y="254.3" width="2.2" height="29" fill="#fefeff"/>
<rect x="326.1" y="254.3" width="2.2" height="29" fill="#f9f7fc"/>
<rect x="327.95" y="254.3" width="2.2" height="29" fill="#fae6e1"/>
<rect x="329.8" y="254.3" width="2.2" height="29" fill="#fcf1ee"/>
<rect x="331.65" y="254.3" width="2.2" height="29" fill="#fcede9"/>
<rect x="333.5" y="254.3" width="2.2" height="29" fill="#fbeae6"/>
<rect x="335.35" y="254.3" width="2.2" height="29" fill="#f6f4fb"/>
<rect x="337.2" y="254.3" width="2.2" height="29" fill="#f8d8d0"/>
<rect x="339.05" y="254.3" width="2.2" height="29" fill="#fae5df"/>
<rect x="340.9" y="254.3" width="2.2" height="29" fill="#fcece8"/>
<rect x="342.75" y="254.3" width="2.2" height="29" fill="#fae5e0"/>
<rect x="344.6" y="254.3" width="2.2" height="29" fill="#f7d4cc"/>
<rect x="346.45" y="254.3" width="2.2" height="29" fill="#fbe9e5"/>
<rect x="348.3" y="254.3" width="2.2" height="29" fill="#ffffff"/>
<rect x="350.15" y="254.3" width="2.2" height="29" fill="#f6cec5"/>
<rect x="352" y="254.3" width="2.2" height="29" fill="#fdf5f3"/>
<rect x="353.86" y="254.3" width="2.2" height="29" fill="#fefcfb"/>
<rect x="355.71" y="254.3" width="2.2" height="29" fill="#f5f3fa"/>
<rect x="357.56" y="254.3" width="2.2" height="29" fill="#fbeae6"/>
<rect x="359.41" y="254.3" width="2.2" height="29" fill="#fcfcfe"/>
<rect x="361.26" y="254.3" width="2.2" height="29" fill="#fef7f5"/>
<rect x="363.11" y="254.3" width="2.2" height="29" fill="#f9e0d9"/>
<rect x="364.96" y="254.3" width="2.2" height="29" fill="#fbeae5"/>
<rect x="366.81" y="254.3" width="2.2" height="29" fill="#f7d2c9"/>
<rect x="368.66" y="254.3" width="2.2" height="29" fill="#fae3dd"/>
<rect x="370.51" y="254.3" width="2.2" height="29" fill="#fdf4f2"/>
<rect x="372.36" y="254.3" width="2.2" height="29" fill="#fdf2f0"/>
<rect x="374.21" y="254.3" width="2.2" height="29" fill="#fdf7f5"/>
<rect x="376.06" y="254.3" width="2.2" height="29" fill="#f8dbd4"/>
<rect x="377.91" y="254.3" width="2.2" height="29" fill="#fbeae6"/>
<rect x="379.76" y="254.3" width="2.2" height="29" fill="#fdf4f2"/>
<rect x="381.61" y="254.3" width="2.2" height="29" fill="#f8d6ce"/>
<rect x="383.46" y="254.3" width="2.2" height="29" fill="#fbe8e3"/>
<rect x="385.31" y="254.3" width="2.2" height="29" fill="#fdf6f4"/>
<rect x="387.16" y="254.3" width="2.2" height="29" fill="#f5f4fa"/>
<rect x="389.01" y="254.3" width="2.2" height="29" fill="#f9e0da"/>
<rect x="390.86" y="254.3" width="2.2" height="29" fill="#fae5df"/>
<rect x="392.71" y="254.3" width="2.2" height="29" fill="#fbe9e5"/>
<rect x="394.56" y="254.3" width="2.2" height="29" fill="#fdf5f3"/>
<rect x="396.41" y="254.3" width="2.2" height="29" fill="#fffefe"/>
<rect x="398.26" y="254.3" width="2.2" height="29" fill="#fcf0ed"/>
<rect x="400.11" y="254.3" width="2.2" height="29" fill="#fae5e0"/>
<rect x="401.96" y="254.3" width="2.2" height="29" fill="#fceeea"/>
<rect x="403.81" y="254.3" width="2.2" height="29" fill="#fceeea"/>
<rect x="405.66" y="254.3" width="2.2" height="29" fill="#fdf6f4"/>
<rect x="407.51" y="254.3" width="2.2" height="29" fill="#fae2dc"/>
<rect x="409.36" y="254.3" width="2.2" height="29" fill="#fae5e0"/>
<rect x="411.21" y="254.3" width="2.2" height="29" fill="#fffcfc"/>
<rect x="413.06" y="254.3" width="2.2" height="29" fill="#f8d8d0"/>
<rect x="414.91" y="254.3" width="2.2" height="29" fill="#f8d7cf"/>
<rect x="416.77" y="254.3" width="2.2" height="29" fill="#f8d7cf"/>
<rect x="418.62" y="254.3" width="2.2" height="29" fill="#fceeea"/>
<rect x="420.47" y="254.3" width="2.2" height="29" fill="#fcefec"/>
<rect x="422.32" y="254.3" width="2.2" height="29" fill="#fbfafd"/>
<rect x="424.17" y="254.3" width="2.2" height="29" fill="#f8d8d0"/>
<rect x="426.02" y="254.3" width="2.2" height="29" fill="#ece9f6"/>
<rect x="427.87" y="254.3" width="2.2" height="29" fill="#fdf4f2"/>
<rect x="429.72" y="254.3" width="2.2" height="29" fill="#fdf3f0"/>
<rect x="431.57" y="254.3" width="2.2" height="29" fill="#f8d6ce"/>
<rect x="433.42" y="254.3" width="2.2" height="29" fill="#fbeae6"/>
<rect x="435.27" y="254.3" width="2.2" height="29" fill="#fdfdfe"/>
<rect x="437.12" y="254.3" width="2.2" height="29" fill="#f7f5fb"/>
<rect x="438.97" y="254.3" width="2.2" height="29" fill="#fefcfb"/>
<rect x="440.82" y="254.3" width="2.2" height="29" fill="#fbe8e3"/>
<rect x="442.67" y="254.3" width="2.2" height="29" fill="#fbe9e5"/>
<rect x="444.52" y="254.3" width="2.2" height="29" fill="#fcefec"/>
<rect x="446.37" y="254.3" width="2.2" height="29" fill="#fefbfa"/>
<rect x="448.22" y="254.3" width="2.2" height="29" fill="#fcefec"/>
<rect x="450.07" y="254.3" width="2.2" height="29" fill="#f7d3c9"/>
<rect x="451.92" y="254.3" width="2.2" height="29" fill="#fbfbfd"/>
<rect x="453.77" y="254.3" width="2.2" height="29" fill="#fbeae5"/>
<rect x="455.62" y="254.3" width="2.2" height="29" fill="#f4c4b8"/>
<rect x="457.47" y="254.3" width="2.2" height="29" fill="#f9ddd6"/>
<rect x="459.32" y="254.3" width="2.2" height="29" fill="#fdf5f3"/>
<rect x="461.17" y="254.3" width="2.2" height="29" fill="#f8dbd3"/>
<rect x="463.02" y="254.3" width="2.2" height="29" fill="#fffcfc"/>
<rect x="464.87" y="254.3" width="2.2" height="29" fill="#fbeae6"/>
<rect x="466.72" y="254.3" width="2.2" height="29" fill="#f4c5b9"/>
<rect x="468.57" y="254.3" width="2.2" height="29" fill="#f3bdb0"/>
<rect x="470.42" y="254.3" width="2.2" height="29" fill="#f3f0f9"/>
<rect x="472.27" y="254.3" width="2.2" height="29" fill="#f8dad2"/>
<rect x="474.12" y="254.3" width="2.2" height="29" fill="#f3bcae"/>
<rect x="475.97" y="254.3" width="2.2" height="29" fill="#fef8f6"/>
<rect x="477.83" y="254.3" width="2.2" height="29" fill="#fae4df"/>
<rect x="479.68" y="254.3" width="2.2" height="29" fill="#f5c6bb"/>
<rect x="481.53" y="254.3" width="2.2" height="29" fill="#fdf6f4"/>
<rect x="483.38" y="254.3" width="2.2" height="29" fill="#f9e0d9"/>
<rect x="485.23" y="254.3" width="2.2" height="29" fill="#fcece8"/>
<rect x="487.08" y="254.3" width="2.2" height="29" fill="#efecf7"/>
<rect x="488.93" y="254.3" width="2.2" height="29" fill="#fae2dc"/>
<rect x="490.78" y="254.3" width="2.2" height="29" fill="#f9f8fc"/>
<rect x="492.63" y="254.3" width="2.2" height="29" fill="#fae2dc"/>
<rect x="494.48" y="254.3" width="2.2" height="29" fill="#ebe7f5"/>
<rect x="496.33" y="254.3" width="2.2" height="29" fill="#c9bee4"/>
<rect x="498.18" y="254.3" width="2.2" height="29" fill="#f0edf7"/>
<rect x="500.03" y="254.3" width="2.2" height="29" fill="#fdf3f1"/>
<rect x="501.88" y="254.3" width="2.2" height="29" fill="#e4dff2"/>
<rect x="503.73" y="254.3" width="2.2" height="29" fill="#fcf0ed"/>
<rect x="505.58" y="254.3" width="2.2" height="29" fill="#5960b0"/>
<rect x="507.43" y="254.3" width="2.2" height="29" fill="#fdfcfe"/>
<rect x="509.28" y="254.3" width="2.2" height="29" fill="#fbebe7"/>
<rect x="511.13" y="254.3" width="2.2" height="29" fill="#f8d8d0"/>
<rect x="512.98" y="254.3" width="2.2" height="29" fill="#e1dbf0"/>
<rect x="514.83" y="254.3" width="2.2" height="29" fill="#d1c8e8"/>
<rect x="516.68" y="254.3" width="2.2" height="29" fill="#fbeae6"/>
<rect x="518.53" y="254.3" width="2.2" height="29" fill="#fcfbfd"/>
<rect x="520.38" y="254.3" width="2.2" height="29" fill="#f6d0c7"/>
<rect x="522.23" y="254.3" width="2.2" height="29" fill="#fdf6f4"/>
<rect x="524.08" y="254.3" width="2.2" height="29" fill="#f7d4cb"/>
<rect x="525.93" y="254.3" width="2.2" height="29" fill="#f6f4fb"/>
<rect x="527.78" y="254.3" width="2.2" height="29" fill="#f1eef8"/>
<rect x="529.63" y="254.3" width="2.2" height="29" fill="#eeebf7"/>
<rect x="531.48" y="254.3" width="2.2" height="29" fill="#f2b9ab"/>
<rect x="533.33" y="254.3" width="2.2" height="29" fill="#fbe8e3"/>
<rect x="535.18" y="254.3" width="2.2" height="29" fill="#f9e0da"/>
<rect x="537.03" y="254.3" width="2.2" height="29" fill="#f8f7fc"/>
<rect x="538.89" y="254.3" width="2.2" height="29" fill="#e8e4f4"/>
<rect x="540.74" y="254.3" width="2.2" height="29" fill="#c3b6e1"/>
<rect x="542.59" y="254.3" width="2.2" height="29" fill="#f6cdc3"/>
<rect x="544.44" y="254.3" width="2.2" height="29" fill="#ded8ef"/>
<rect x="546.29" y="254.3" width="2.2" height="29" fill="#f8f6fb"/>
<rect x="548.14" y="254.3" width="2.2" height="29" fill="#ddd6ee"/>
<rect x="549.99" y="254.3" width="2.2" height="29" fill="#fef8f7"/>
<rect x="551.84" y="254.3" width="2.2" height="29" fill="#f9e1da"/>
<rect x="553.69" y="254.3" width="2.2" height="29" fill="#eae6f5"/>
<rect x="555.54" y="254.3" width="2.2" height="29" fill="#f9f8fc"/>
<rect x="557.39" y="254.3" width="2.2" height="29" fill="#ece8f6"/>
<rect x="559.24" y="254.3" width="2.2" height="29" fill="#fffefe"/>
<rect x="561.09" y="254.3" width="2.2" height="29" fill="#eae6f5"/>
<rect x="562.94" y="254.3" width="2.2" height="29" fill="#e8e4f4"/>
<rect x="564.79" y="254.3" width="2.2" height="29" fill="#8f87c9"/>
<rect x="566.64" y="254.3" width="2.2" height="29" fill="#fae4de"/>
<rect x="568.49" y="254.3" width="2.2" height="29" fill="#f3f1f9"/>
<rect x="570.34" y="254.3" width="2.2" height="29" fill="#f8dbd4"/>
<rect x="572.19" y="254.3" width="2.2" height="29" fill="#f9e1db"/>
<rect x="574.04" y="254.3" width="2.2" height="29" fill="#f5f3fa"/>
<rect x="575.89" y="254.3" width="2.2" height="29" fill="#f7f6fb"/>
<rect x="577.74" y="254.3" width="2.2" height="29" fill="#ded7ef"/>
<rect x="579.59" y="254.3" width="2.2" height="29" fill="#fef7f5"/>
<rect x="581.44" y="254.3" width="2.2" height="29" fill="#fdf3f1"/>
<rect x="583.29" y="254.3" width="2.2" height="29" fill="#e2dcf1"/>
<rect x="585.14" y="254.3" width="2.2" height="29" fill="#d4cbea"/>
<rect x="586.99" y="254.3" width="2.2" height="29" fill="#f1eef8"/>
<rect x="588.84" y="254.3" width="2.2" height="29" fill="#d7ceeb"/>
<rect x="590.69" y="254.3" width="2.2" height="29" fill="#f6f4fa"/>
<rect x="592.54" y="254.3" width="2.2" height="29" fill="#fcefeb"/>
<rect x="594.39" y="254.3" width="2.2" height="29" fill="#f3bbad"/>
<rect x="596.24" y="254.3" width="2.2" height="29" fill="#d1c7e8"/>
<rect x="598.09" y="254.3" width="2.2" height="29" fill="#e8e4f4"/>
<rect x="599.94" y="254.3" width="2.2" height="29" fill="#f2baac"/>
<rect x="601.8" y="254.3" width="2.2" height="29" fill="#fdf7f5"/>
<rect x="603.65" y="254.3" width="2.2" height="29" fill="#c2b6e1"/>
<rect x="605.5" y="254.3" width="2.2" height="29" fill="#ede9f6"/>
<rect x="607.35" y="254.3" width="2.2" height="29" fill="#eeebf7"/>
<rect x="609.2" y="254.3" width="2.2" height="29" fill="#f6cec4"/>
<rect x="611.05" y="254.3" width="2.2" height="29" fill="#fcfbfe"/>
<rect x="612.9" y="254.3" width="2.2" height="29" fill="#c9bee5"/>
<rect x="614.75" y="254.3" width="2.2" height="29" fill="#f8f6fb"/>
<rect x="616.6" y="254.3" width="2.2" height="29" fill="#f6cbc1"/>
<rect x="618.45" y="254.3" width="2.2" height="29" fill="#f6f4fb"/>
<rect x="620.3" y="254.3" width="2.2" height="29" fill="#fbe8e4"/>
<rect x="622.15" y="254.3" width="2.2" height="29" fill="#6367b5"/>
<rect x="624" y="254.3" width="2.2" height="29" fill="#fdf4f2"/>
<rect x="625.85" y="254.3" width="2.2" height="29" fill="#f1eef8"/>
<rect x="627.7" y="254.3" width="2.2" height="29" fill="#fbe7e2"/>
<rect x="629.55" y="254.3" width="2.2" height="29" fill="#f5cabf"/>
<rect x="322.4" y="284" width="2.2" height="29" fill="#b2a2d9"/>
<rect x="324.25" y="284" width="2.2" height="29" fill="#cdc3e6"/>
<rect x="326.1" y="284" width="2.2" height="29" fill="#a697d3"/>
<rect x="327.95" y="284" width="2.2" height="29" fill="#d9d2ec"/>
<rect x="329.8" y="284" width="2.2" height="29" fill="#d1c8e8"/>
<rect x="331.65" y="284" width="2.2" height="29" fill="#d2c8e9"/>
<rect x="333.5" y="284" width="2.2" height="29" fill="#d0c6e8"/>
<rect x="335.35" y="284" width="2.2" height="29" fill="#e2dcf1"/>
<rect x="337.2" y="284" width="2.2" height="29" fill="#cfc5e7"/>
<rect x="339.05" y="284" width="2.2" height="29" fill="#dfd9ef"/>
<rect x="340.9" y="284" width="2.2" height="29" fill="#dad2ed"/>
<rect x="342.75" y="284" width="2.2" height="29" fill="#d8d0ec"/>
<rect x="344.6" y="284" width="2.2" height="29" fill="#d9d2ec"/>
<rect x="346.45" y="284" width="2.2" height="29" fill="#d5cdea"/>
<rect x="348.3" y="284" width="2.2" height="29" fill="#c7bbe3"/>
<rect x="350.15" y="284" width="2.2" height="29" fill="#ded7ef"/>
<rect x="352" y="284" width="2.2" height="29" fill="#ded7ef"/>
<rect x="353.86" y="284" width="2.2" height="29" fill="#d4cbea"/>
<rect x="355.71" y="284" width="2.2" height="29" fill="#dfd8ef"/>
<rect x="357.56" y="284" width="2.2" height="29" fill="#e1dbf0"/>
<rect x="359.41" y="284" width="2.2" height="29" fill="#c7bbe3"/>
<rect x="361.26" y="284" width="2.2" height="29" fill="#d5cdea"/>
<rect x="363.11" y="284" width="2.2" height="29" fill="#d2c9e9"/>
<rect x="364.96" y="284" width="2.2" height="29" fill="#ccc2e6"/>
<rect x="366.81" y="284" width="2.2" height="29" fill="#dcd5ee"/>
<rect x="368.66" y="284" width="2.2" height="29" fill="#cec4e7"/>
<rect x="370.51" y="284" width="2.2" height="29" fill="#d3cae9"/>
<rect x="372.36" y="284" width="2.2" height="29" fill="#dcd5ee"/>
<rect x="374.21" y="284" width="2.2" height="29" fill="#ded7ef"/>
<rect x="376.06" y="284" width="2.2" height="29" fill="#ded7ef"/>
<rect x="377.91" y="284" width="2.2" height="29" fill="#f6f4fb"/>
<rect x="379.76" y="284" width="2.2" height="29" fill="#d4ccea"/>
<rect x="381.61" y="284" width="2.2" height="29" fill="#ded7ef"/>
<rect x="383.46" y="284" width="2.2" height="29" fill="#ccc2e6"/>
<rect x="385.31" y="284" width="2.2" height="29" fill="#e2dcf1"/>
<rect x="387.16" y="284" width="2.2" height="29" fill="#eae6f5"/>
<rect x="389.01" y="284" width="2.2" height="29" fill="#ece8f5"/>
<rect x="390.86" y="284" width="2.2" height="29" fill="#d5ccea"/>
<rect x="392.71" y="284" width="2.2" height="29" fill="#dad2ed"/>
<rect x="394.56" y="284" width="2.2" height="29" fill="#edeaf6"/>
<rect x="396.41" y="284" width="2.2" height="29" fill="#ddd6ee"/>
<rect x="398.26" y="284" width="2.2" height="29" fill="#eae6f5"/>
<rect x="400.11" y="284" width="2.2" height="29" fill="#d2c9e9"/>
<rect x="401.96" y="284" width="2.2" height="29" fill="#f0edf8"/>
<rect x="403.81" y="284" width="2.2" height="29" fill="#ece8f6"/>
<rect x="405.66" y="284" width="2.2" height="29" fill="#e5e0f2"/>
<rect x="407.51" y="284" width="2.2" height="29" fill="#d6ceeb"/>
<rect x="409.36" y="284" width="2.2" height="29" fill="#ded8ef"/>
<rect x="411.21" y="284" width="2.2" height="29" fill="#e3ddf1"/>
<rect x="413.06" y="284" width="2.2" height="29" fill="#e4dff2"/>
<rect x="414.91" y="284" width="2.2" height="29" fill="#e0daf0"/>
<rect x="416.77" y="284" width="2.2" height="29" fill="#dfd9ef"/>
<rect x="418.62" y="284" width="2.2" height="29" fill="#e5dff2"/>
<rect x="420.47" y="284" width="2.2" height="29" fill="#f4f2fa"/>
<rect x="422.32" y="284" width="2.2" height="29" fill="#cabfe5"/>
<rect x="424.17" y="284" width="2.2" height="29" fill="#d2c9e9"/>
<rect x="426.02" y="284" width="2.2" height="29" fill="#d0c7e8"/>
<rect x="427.87" y="284" width="2.2" height="29" fill="#dcd4ed"/>
<rect x="429.72" y="284" width="2.2" height="29" fill="#cfc5e7"/>
<rect x="431.57" y="284" width="2.2" height="29" fill="#ece8f5"/>
<rect x="433.42" y="284" width="2.2" height="29" fill="#e6e1f3"/>
<rect x="435.27" y="284" width="2.2" height="29" fill="#e2ddf1"/>
<rect x="437.12" y="284" width="2.2" height="29" fill="#ddd7ee"/>
<rect x="438.97" y="284" width="2.2" height="29" fill="#e8e4f4"/>
<rect x="440.82" y="284" width="2.2" height="29" fill="#e9e4f4"/>
<rect x="442.67" y="284" width="2.2" height="29" fill="#ebe7f5"/>
<rect x="444.52" y="284" width="2.2" height="29" fill="#ded8ef"/>
<rect x="446.37" y="284" width="2.2" height="29" fill="#f0edf7"/>
<rect x="448.22" y="284" width="2.2" height="29" fill="#d6cdeb"/>
<rect x="450.07" y="284" width="2.2" height="29" fill="#f8f7fc"/>
<rect x="451.92" y="284" width="2.2" height="29" fill="#c3b6e1"/>
<rect x="453.77" y="284" width="2.2" height="29" fill="#e2dcf1"/>
<rect x="455.62" y="284" width="2.2" height="29" fill="#dbd3ed"/>
<rect x="457.47" y="284" width="2.2" height="29" fill="#f4f1f9"/>
<rect x="459.32" y="284" width="2.2" height="29" fill="#d8d0ec"/>
<rect x="461.17" y="284" width="2.2" height="29" fill="#fefbfa"/>
<rect x="463.02" y="284" width="2.2" height="29" fill="#d8d0ec"/>
<rect x="464.87" y="284" width="2.2" height="29" fill="#fdf6f4"/>
<rect x="466.72" y="284" width="2.2" height="29" fill="#f1eff8"/>
<rect x="468.57" y="284" width="2.2" height="29" fill="#ece9f6"/>
<rect x="470.42" y="284" width="2.2" height="29" fill="#f2eff9"/>
<rect x="472.27" y="284" width="2.2" height="29" fill="#fcf0ed"/>
<rect x="474.12" y="284" width="2.2" height="29" fill="#f8f7fc"/>
<rect x="475.97" y="284" width="2.2" height="29" fill="#d2c8e9"/>
<rect x="477.83" y="284" width="2.2" height="29" fill="#fdfcfe"/>
<rect x="479.68" y="284" width="2.2" height="29" fill="#f1eef8"/>
<rect x="481.53" y="284" width="2.2" height="29" fill="#dbd3ed"/>
<rect x="483.38" y="284" width="2.2" height="29" fill="#f8f7fc"/>
<rect x="485.23" y="284" width="2.2" height="29" fill="#e0daf0"/>
<rect x="487.08" y="284" width="2.2" height="29" fill="#f2eff9"/>
<rect x="488.93" y="284" width="2.2" height="29" fill="#f3f1f9"/>
<rect x="490.78" y="284" width="2.2" height="29" fill="#f8d7ce"/>
<rect x="492.63" y="284" width="2.2" height="29" fill="#fbe9e5"/>
<rect x="494.48" y="284" width="2.2" height="29" fill="#fae1db"/>
<rect x="496.33" y="284" width="2.2" height="29" fill="#f9dcd5"/>
<rect x="498.18" y="284" width="2.2" height="29" fill="#f8d6ce"/>
<rect x="500.03" y="284" width="2.2" height="29" fill="#f5c9be"/>
<rect x="501.88" y="284" width="2.2" height="29" fill="#f5cabf"/>
<rect x="503.73" y="284" width="2.2" height="29" fill="#f9e0d9"/>
<rect x="505.58" y="284" width="2.2" height="29" fill="#fbe7e2"/>
<rect x="507.43" y="284" width="2.2" height="29" fill="#f3bfb2"/>
<rect x="509.28" y="284" width="2.2" height="29" fill="#f8d9d2"/>
<rect x="511.13" y="284" width="2.2" height="29" fill="#f9dcd5"/>
<rect x="512.98" y="284" width="2.2" height="29" fill="#fdf3f1"/>
<rect x="514.83" y="284" width="2.2" height="29" fill="#f8d7ce"/>
<rect x="516.68" y="284" width="2.2" height="29" fill="#fceeea"/>
<rect x="518.53" y="284" width="2.2" height="29" fill="#fbe9e4"/>
<rect x="520.38" y="284" width="2.2" height="29" fill="#fdf6f4"/>
<rect x="522.23" y="284" width="2.2" height="29" fill="#fbe9e4"/>
<rect x="524.08" y="284" width="2.2" height="29" fill="#f9e0da"/>
<rect x="525.93" y="284" width="2.2" height="29" fill="#fef7f5"/>
<rect x="527.78" y="284" width="2.2" height="29" fill="#fceeea"/>
<rect x="529.63" y="284" width="2.2" height="29" fill="#fae1db"/>
<rect x="531.48" y="284" width="2.2" height="29" fill="#fdf2f0"/>
<rect x="533.33" y="284" width="2.2" height="29" fill="#fdf2ef"/>
<rect x="535.18" y="284" width="2.2" height="29" fill="#fbebe7"/>
<rect x="537.03" y="284" width="2.2" height="29" fill="#fdf3f1"/>
<rect x="538.89" y="284" width="2.2" height="29" fill="#f7d4cb"/>
<rect x="540.74" y="284" width="2.2" height="29" fill="#fbece8"/>
<rect x="542.59" y="284" width="2.2" height="29" fill="#f7d1c7"/>
<rect x="544.44" y="284" width="2.2" height="29" fill="#f6cec4"/>
<rect x="546.29" y="284" width="2.2" height="29" fill="#fcede9"/>
<rect x="548.14" y="284" width="2.2" height="29" fill="#f8dad2"/>
<rect x="549.99" y="284" width="2.2" height="29" fill="#fae1db"/>
<rect x="551.84" y="284" width="2.2" height="29" fill="#fbeae6"/>
<rect x="553.69" y="284" width="2.2" height="29" fill="#f9ded7"/>
<rect x="555.54" y="284" width="2.2" height="29" fill="#f9dbd4"/>
<rect x="557.39" y="284" width="2.2" height="29" fill="#f6ccc2"/>
<rect x="559.24" y="284" width="2.2" height="29" fill="#f5c7bb"/>
<rect x="561.09" y="284" width="2.2" height="29" fill="#fae6e1"/>
<rect x="562.94" y="284" width="2.2" height="29" fill="#f8dbd3"/>
<rect x="564.79" y="284" width="2.2" height="29" fill="#f6ccc1"/>
<rect x="566.64" y="284" width="2.2" height="29" fill="#f4c1b5"/>
<rect x="568.49" y="284" width="2.2" height="29" fill="#fdf7f5"/>
<rect x="570.34" y="284" width="2.2" height="29" fill="#f3beb0"/>
<rect x="572.19" y="284" width="2.2" height="29" fill="#f7d3c9"/>
<rect x="574.04" y="284" width="2.2" height="29" fill="#f2b8aa"/>
<rect x="575.89" y="284" width="2.2" height="29" fill="#f7d4cc"/>
<rect x="577.74" y="284" width="2.2" height="29" fill="#f8d9d2"/>
<rect x="579.59" y="284" width="2.2" height="29" fill="#f6cbc1"/>
<rect x="581.44" y="284" width="2.2" height="29" fill="#f2b9ab"/>
<rect x="583.29" y="284" width="2.2" height="29" fill="#f5c9be"/>
<rect x="585.14" y="284" width="2.2" height="29" fill="#fcece8"/>
<rect x="586.99" y="284" width="2.2" height="29" fill="#f3bdb0"/>
<rect x="588.84" y="284" width="2.2" height="29" fill="#f9ded8"/>
<rect x="590.69" y="284" width="2.2" height="29" fill="#f7d4cb"/>
<rect x="592.54" y="284" width="2.2" height="29" fill="#f7d5cd"/>
<rect x="594.39" y="284" width="2.2" height="29" fill="#f9ded7"/>
<rect x="596.24" y="284" width="2.2" height="29" fill="#f7d4cb"/>
<rect x="598.09" y="284" width="2.2" height="29" fill="#f6cfc5"/>
<rect x="599.94" y="284" width="2.2" height="29" fill="#f5c8bc"/>
<rect x="601.8" y="284" width="2.2" height="29" fill="#f3beb0"/>
<rect x="603.65" y="284" width="2.2" height="29" fill="#f4c1b4"/>
<rect x="605.5" y="284" width="2.2" height="29" fill="#f6d0c7"/>
<rect x="607.35" y="284" width="2.2" height="29" fill="#f3bbad"/>
<rect x="609.2" y="284" width="2.2" height="29" fill="#efa897"/>
<rect x="611.05" y="284" width="2.2" height="29" fill="#efa795"/>
<rect x="612.9" y="284" width="2.2" height="29" fill="#f1b2a2"/>
<rect x="614.75" y="284" width="2.2" height="29" fill="#efa997"/>
<rect x="616.6" y="284" width="2.2" height="29" fill="#eea390"/>
<rect x="618.45" y="284" width="2.2" height="29" fill="#ed9a86"/>
<rect x="620.3" y="284" width="2.2" height="29" fill="#eb947e"/>
<rect x="622.15" y="284" width="2.2" height="29" fill="#f1b0a0"/>
<rect x="624" y="284" width="2.2" height="29" fill="#f0ae9d"/>
<rect x="625.85" y="284" width="2.2" height="29" fill="#eb927c"/>
<rect x="627.7" y="284" width="2.2" height="29" fill="#eb8f78"/>
<rect x="629.55" y="284" width="2.2" height="29" fill="#ea8d76"/>
<rect x="322.4" y="313.7" width="2.2" height="29.5" fill="#fdf7f5"/>
<rect x="324.25" y="313.7" width="2.2" height="29.5" fill="#fdfcfe"/>
<rect x="326.1" y="313.7" width="2.2" height="29.5" fill="#f2f0f9"/>
<rect x="327.95" y="313.7" width="2.2" height="29.5" fill="#ddd6ee"/>
<rect x="329.8" y="313.7" width="2.2" height="29.5" fill="#e4def2"/>
<rect x="331.65" y="313.7" width="2.2" height="29.5" fill="#cdc3e6"/>
<rect x="333.5" y="313.7" width="2.2" height="29.5" fill="#dbd4ed"/>
<rect x="335.35" y="313.7" width="2.2" height="29.5" fill="#f4f1f9"/>
<rect x="337.2" y="313.7" width="2.2" height="29.5" fill="#f8f7fc"/>
<rect x="339.05" y="313.7" width="2.2" height="29.5" fill="#ded7ef"/>
<rect x="340.9" y="313.7" width="2.2" height="29.5" fill="#f0edf7"/>
<rect x="342.75" y="313.7" width="2.2" height="29.5" fill="#fef9f8"/>
<rect x="344.6" y="313.7" width="2.2" height="29.5" fill="#f0eef8"/>
<rect x="346.45" y="313.7" width="2.2" height="29.5" fill="#ebe6f5"/>
<rect x="348.3" y="313.7" width="2.2" height="29.5" fill="#f6f4fb"/>
<rect x="350.15" y="313.7" width="2.2" height="29.5" fill="#f5f3fa"/>
<rect x="352" y="313.7" width="2.2" height="29.5" fill="#efecf7"/>
<rect x="353.86" y="313.7" width="2.2" height="29.5" fill="#e8e3f4"/>
<rect x="355.71" y="313.7" width="2.2" height="29.5" fill="#e9e5f4"/>
<rect x="357.56" y="313.7" width="2.2" height="29.5" fill="#f0ecf7"/>
<rect x="359.41" y="313.7" width="2.2" height="29.5" fill="#e8e3f3"/>
<rect x="361.26" y="313.7" width="2.2" height="29.5" fill="#ffffff"/>
<rect x="363.11" y="313.7" width="2.2" height="29.5" fill="#faf8fc"/>
<rect x="364.96" y="313.7" width="2.2" height="29.5" fill="#fcfbfe"/>
<rect x="366.81" y="313.7" width="2.2" height="29.5" fill="#fcf1ee"/>
<rect x="368.66" y="313.7" width="2.2" height="29.5" fill="#fefaf9"/>
<rect x="370.51" y="313.7" width="2.2" height="29.5" fill="#fffdfd"/>
<rect x="372.36" y="313.7" width="2.2" height="29.5" fill="#f3f1f9"/>
<rect x="374.21" y="313.7" width="2.2" height="29.5" fill="#ece8f6"/>
<rect x="376.06" y="313.7" width="2.2" height="29.5" fill="#fbebe7"/>
<rect x="377.91" y="313.7" width="2.2" height="29.5" fill="#e6e1f3"/>
<rect x="379.76" y="313.7" width="2.2" height="29.5" fill="#e7e2f3"/>
<rect x="381.61" y="313.7" width="2.2" height="29.5" fill="#e4def1"/>
<rect x="383.46" y="313.7" width="2.2" height="29.5" fill="#f1eef8"/>
<rect x="385.31" y="313.7" width="2.2" height="29.5" fill="#f4f1f9"/>
<rect x="387.16" y="313.7" width="2.2" height="29.5" fill="#fbfbfd"/>
<rect x="389.01" y="313.7" width="2.2" height="29.5" fill="#ece8f5"/>
<rect x="390.86" y="313.7" width="2.2" height="29.5" fill="#d9d1ec"/>
<rect x="392.71" y="313.7" width="2.2" height="29.5" fill="#f2f0f9"/>
<rect x="394.56" y="313.7" width="2.2" height="29.5" fill="#fbfafd"/>
<rect x="396.41" y="313.7" width="2.2" height="29.5" fill="#efecf7"/>
<rect x="398.26" y="313.7" width="2.2" height="29.5" fill="#ede9f6"/>
<rect x="400.11" y="313.7" width="2.2" height="29.5" fill="#f5f3fa"/>
<rect x="401.96" y="313.7" width="2.2" height="29.5" fill="#fffdfc"/>
<rect x="403.81" y="313.7" width="2.2" height="29.5" fill="#eeeaf6"/>
<rect x="405.66" y="313.7" width="2.2" height="29.5" fill="#ddd6ee"/>
<rect x="407.51" y="313.7" width="2.2" height="29.5" fill="#e7e3f3"/>
<rect x="409.36" y="313.7" width="2.2" height="29.5" fill="#ece9f6"/>
<rect x="411.21" y="313.7" width="2.2" height="29.5" fill="#d8d0ec"/>
<rect x="413.06" y="313.7" width="2.2" height="29.5" fill="#f8f7fc"/>
<rect x="414.91" y="313.7" width="2.2" height="29.5" fill="#e5e0f2"/>
<rect x="416.77" y="313.7" width="2.2" height="29.5" fill="#f5f3fa"/>
<rect x="418.62" y="313.7" width="2.2" height="29.5" fill="#f1eef8"/>
<rect x="420.47" y="313.7" width="2.2" height="29.5" fill="#ebe6f5"/>
<rect x="422.32" y="313.7" width="2.2" height="29.5" fill="#fef9f8"/>
<rect x="424.17" y="313.7" width="2.2" height="29.5" fill="#e7e3f3"/>
<rect x="426.02" y="313.7" width="2.2" height="29.5" fill="#e6e1f3"/>
<rect x="427.87" y="313.7" width="2.2" height="29.5" fill="#f2eff9"/>
<rect x="429.72" y="313.7" width="2.2" height="29.5" fill="#f9f8fc"/>
<rect x="431.57" y="313.7" width="2.2" height="29.5" fill="#eeebf7"/>
<rect x="433.42" y="313.7" width="2.2" height="29.5" fill="#e2dcf1"/>
<rect x="435.27" y="313.7" width="2.2" height="29.5" fill="#f7f5fb"/>
<rect x="437.12" y="313.7" width="2.2" height="29.5" fill="#f6f4fb"/>
<rect x="438.97" y="313.7" width="2.2" height="29.5" fill="#fcf0ed"/>
<rect x="440.82" y="313.7" width="2.2" height="29.5" fill="#ece8f5"/>
<rect x="442.67" y="313.7" width="2.2" height="29.5" fill="#f1eef8"/>
<rect x="444.52" y="313.7" width="2.2" height="29.5" fill="#e7e3f3"/>
<rect x="446.37" y="313.7" width="2.2" height="29.5" fill="#dcd5ee"/>
<rect x="448.22" y="313.7" width="2.2" height="29.5" fill="#efecf7"/>
<rect x="450.07" y="313.7" width="2.2" height="29.5" fill="#f9f8fc"/>
<rect x="451.92" y="313.7" width="2.2" height="29.5" fill="#e2dcf1"/>
<rect x="453.77" y="313.7" width="2.2" height="29.5" fill="#e6e1f3"/>
<rect x="455.62" y="313.7" width="2.2" height="29.5" fill="#e0d9f0"/>
<rect x="457.47" y="313.7" width="2.2" height="29.5" fill="#ffffff"/>
<rect x="459.32" y="313.7" width="2.2" height="29.5" fill="#e7e2f3"/>
<rect x="461.17" y="313.7" width="2.2" height="29.5" fill="#f6f4fa"/>
<rect x="463.02" y="313.7" width="2.2" height="29.5" fill="#e4def1"/>
<rect x="464.87" y="313.7" width="2.2" height="29.5" fill="#efecf7"/>
<rect x="466.72" y="313.7" width="2.2" height="29.5" fill="#e7e2f3"/>
<rect x="468.57" y="313.7" width="2.2" height="29.5" fill="#d1c8e8"/>
<rect x="470.42" y="313.7" width="2.2" height="29.5" fill="#efecf7"/>
<rect x="472.27" y="313.7" width="2.2" height="29.5" fill="#f5f3fa"/>
<rect x="474.12" y="313.7" width="2.2" height="29.5" fill="#d4ccea"/>
<rect x="475.97" y="313.7" width="2.2" height="29.5" fill="#ece8f6"/>
<rect x="477.83" y="313.7" width="2.2" height="29.5" fill="#e9e5f4"/>
<rect x="479.68" y="313.7" width="2.2" height="29.5" fill="#e1dbf0"/>
<rect x="481.53" y="313.7" width="2.2" height="29.5" fill="#ebe7f5"/>
<rect x="483.38" y="313.7" width="2.2" height="29.5" fill="#d6ceeb"/>
<rect x="485.23" y="313.7" width="2.2" height="29.5" fill="#f2eff8"/>
<rect x="487.08" y="313.7" width="2.2" height="29.5" fill="#fdfdfe"/>
<rect x="488.93" y="313.7" width="2.2" height="29.5" fill="#dfd8ef"/>
<rect x="490.78" y="313.7" width="2.2" height="29.5" fill="#dbd4ed"/>
<rect x="492.63" y="313.7" width="2.2" height="29.5" fill="#f2f0f9"/>
<rect x="494.48" y="313.7" width="2.2" height="29.5" fill="#fdf5f3"/>
<rect x="496.33" y="313.7" width="2.2" height="29.5" fill="#f6f4fa"/>
<rect x="498.18" y="313.7" width="2.2" height="29.5" fill="#d3cae9"/>
<rect x="500.03" y="313.7" width="2.2" height="29.5" fill="#dcd5ee"/>
<rect x="501.88" y="313.7" width="2.2" height="29.5" fill="#fae4de"/>
<rect x="503.73" y="313.7" width="2.2" height="29.5" fill="#e0d9f0"/>
<rect x="505.58" y="313.7" width="2.2" height="29.5" fill="#f6cdc3"/>
<rect x="507.43" y="313.7" width="2.2" height="29.5" fill="#fefaf9"/>
<rect x="509.28" y="313.7" width="2.2" height="29.5" fill="#eeebf7"/>
<rect x="511.13" y="313.7" width="2.2" height="29.5" fill="#e0daf0"/>
<rect x="512.98" y="313.7" width="2.2" height="29.5" fill="#f9f8fc"/>
<rect x="514.83" y="313.7" width="2.2" height="29.5" fill="#e3ddf1"/>
<rect x="516.68" y="313.7" width="2.2" height="29.5" fill="#fae1db"/>
<rect x="518.53" y="313.7" width="2.2" height="29.5" fill="#fdfdfe"/>
<rect x="520.38" y="313.7" width="2.2" height="29.5" fill="#e9e4f4"/>
<rect x="522.23" y="313.7" width="2.2" height="29.5" fill="#f1eef8"/>
<rect x="524.08" y="313.7" width="2.2" height="29.5" fill="#efecf7"/>
<rect x="525.93" y="313.7" width="2.2" height="29.5" fill="#dcd5ee"/>
<rect x="527.78" y="313.7" width="2.2" height="29.5" fill="#f2f0f9"/>
<rect x="529.63" y="313.7" width="2.2" height="29.5" fill="#e9e5f4"/>
<rect x="531.48" y="313.7" width="2.2" height="29.5" fill="#d1c7e8"/>
<rect x="533.33" y="313.7" width="2.2" height="29.5" fill="#f0edf8"/>
<rect x="535.18" y="313.7" width="2.2" height="29.5" fill="#f1eff8"/>
<rect x="537.03" y="313.7" width="2.2" height="29.5" fill="#ebe7f5"/>
<rect x="538.89" y="313.7" width="2.2" height="29.5" fill="#cdc3e6"/>
<rect x="540.74" y="313.7" width="2.2" height="29.5" fill="#fcefec"/>
<rect x="542.59" y="313.7" width="2.2" height="29.5" fill="#ec9883"/>
<rect x="544.44" y="313.7" width="2.2" height="29.5" fill="#fdf2ef"/>
<rect x="546.29" y="313.7" width="2.2" height="29.5" fill="#fefcfc"/>
<rect x="548.14" y="313.7" width="2.2" height="29.5" fill="#e0daf0"/>
<rect x="549.99" y="313.7" width="2.2" height="29.5" fill="#fefdfe"/>
<rect x="551.84" y="313.7" width="2.2" height="29.5" fill="#e9e4f4"/>
<rect x="553.69" y="313.7" width="2.2" height="29.5" fill="#f2b8aa"/>
<rect x="555.54" y="313.7" width="2.2" height="29.5" fill="#f2f0f9"/>
<rect x="557.39" y="313.7" width="2.2" height="29.5" fill="#fbeae6"/>
<rect x="559.24" y="313.7" width="2.2" height="29.5" fill="#ded8ef"/>
<rect x="561.09" y="313.7" width="2.2" height="29.5" fill="#e7e2f3"/>
<rect x="562.94" y="313.7" width="2.2" height="29.5" fill="#f5f3fa"/>
<rect x="564.79" y="313.7" width="2.2" height="29.5" fill="#fae3dd"/>
<rect x="566.64" y="313.7" width="2.2" height="29.5" fill="#fbe7e2"/>
<rect x="568.49" y="313.7" width="2.2" height="29.5" fill="#fceeea"/>
<rect x="570.34" y="313.7" width="2.2" height="29.5" fill="#ded7ef"/>
<rect x="572.19" y="313.7" width="2.2" height="29.5" fill="#f6cdc3"/>
<rect x="574.04" y="313.7" width="2.2" height="29.5" fill="#f7f6fb"/>
<rect x="575.89" y="313.7" width="2.2" height="29.5" fill="#f2b9ab"/>
<rect x="577.74" y="313.7" width="2.2" height="29.5" fill="#f0ae9e"/>
<rect x="579.59" y="313.7" width="2.2" height="29.5" fill="#f6d0c6"/>
<rect x="581.44" y="313.7" width="2.2" height="29.5" fill="#f5c8bc"/>
<rect x="583.29" y="313.7" width="2.2" height="29.5" fill="#f3f1f9"/>
<rect x="585.14" y="313.7" width="2.2" height="29.5" fill="#ea8c75"/>
<rect x="586.99" y="313.7" width="2.2" height="29.5" fill="#f8dbd3"/>
<rect x="588.84" y="313.7" width="2.2" height="29.5" fill="#f3bdb0"/>
<rect x="590.69" y="313.7" width="2.2" height="29.5" fill="#fefaf9"/>
<rect x="592.54" y="313.7" width="2.2" height="29.5" fill="#f9dcd5"/>
<rect x="594.39" y="313.7" width="2.2" height="29.5" fill="#ffffff"/>
<rect x="596.24" y="313.7" width="2.2" height="29.5" fill="#f9dcd4"/>
<rect x="598.09" y="313.7" width="2.2" height="29.5" fill="#f6d0c6"/>
<rect x="599.94" y="313.7" width="2.2" height="29.5" fill="#f4c4b8"/>
<rect x="601.8" y="313.7" width="2.2" height="29.5" fill="#ec9a85"/>
<rect x="603.65" y="313.7" width="2.2" height="29.5" fill="#f2b5a6"/>
<rect x="605.5" y="313.7" width="2.2" height="29.5" fill="#f2baac"/>
<rect x="607.35" y="313.7" width="2.2" height="29.5" fill="#f1b2a2"/>
<rect x="609.2" y="313.7" width="2.2" height="29.5" fill="#e6765a"/>
<rect x="611.05" y="313.7" width="2.2" height="29.5" fill="#f5cabf"/>
<rect x="612.9" y="313.7" width="2.2" height="29.5" fill="#ea8971"/>
<rect x="614.75" y="313.7" width="2.2" height="29.5" fill="#fcf1ee"/>
<rect x="616.6" y="313.7" width="2.2" height="29.5" fill="#f5c7bc"/>
<rect x="618.45" y="313.7" width="2.2" height="29.5" fill="#ec9681"/>
<rect x="620.3" y="313.7" width="2.2" height="29.5" fill="#efa593"/>
<rect x="622.15" y="313.7" width="2.2" height="29.5" fill="#da5940"/>
<rect x="624" y="313.7" width="2.2" height="29.5" fill="#dc5d44"/>
<rect x="625.85" y="313.7" width="2.2" height="29.5" fill="#f4c5b9"/>
<rect x="627.7" y="313.7" width="2.2" height="29.5" fill="#f1b0a0"/>
<rect x="629.55" y="313.7" width="2.2" height="29.5" fill="#ea8b73"/>
<text x="320" y="241.5" font-size="7.65" text-anchor="end" fill="#444" stroke="#444" stroke-width="0.08">SULF1</text>
<text x="320" y="271.5" font-size="7.65" text-anchor="end" fill="#444" stroke="#444" stroke-width="0.08">CSPG5</text>
<text x="320" y="301.2" font-size="7.65" text-anchor="end" fill="#444" stroke="#444" stroke-width="0.08">COL11A1</text>
<text x="320" y="331.15" font-size="7.65" text-anchor="end" fill="#444" stroke="#444" stroke-width="0.08">CLCF1</text>
<text x="645.8" y="208.8" font-size="7.4" text-anchor="start" fill="#222" stroke="#222" stroke-width="0.08">Risk Group</text>
<rect x="645.8" y="212.4" width="10" height="9.5" fill="#ee2a24" stroke="none" stroke-width="1"/>
<rect x="645.8" y="221.9" width="10" height="9.5" fill="#3f56a6" stroke="none" stroke-width="1"/>
<text x="658.6" y="219.8" font-size="7.3" text-anchor="start" fill="#222" stroke="#222" stroke-width="0.08">High</text>
<text x="658.6" y="229.5" font-size="7.3" text-anchor="start" fill="#222" stroke="#222" stroke-width="0.08">Low</text>
<text x="645.8" y="260.8" font-size="7.6" text-anchor="start" fill="#222" stroke="#222" stroke-width="0.08">Expression</text>
<defs><linearGradient id="cb" x1="0" y1="0" x2="0" y2="1"><stop offset="0" stop-color="#df6a4f"/><stop offset="0.2" stop-color="#eda58f"/><stop offset="0.45" stop-color="#ffffff"/><stop offset="0.69" stop-color="#ab9ad6"/><stop offset="1" stop-color="#3a4aa0"/></linearGradient></defs>
<rect x="645.8" y="263.8" width="10" height="48.7" fill="url(#cb)" stroke="none" stroke-width="1"/>
<line x1="645.8" y1="271.5" x2="647.8" y2="271.5" stroke="#fff" stroke-width="0.6"/>
<line x1="653.8" y1="271.5" x2="655.8" y2="271.5" stroke="#fff" stroke-width="0.6"/>
<line x1="645.8" y1="283.8" x2="647.8" y2="283.8" stroke="#fff" stroke-width="0.6"/>
<line x1="653.8" y1="283.8" x2="655.8" y2="283.8" stroke="#fff" stroke-width="0.6"/>
<line x1="645.8" y1="297.2" x2="647.8" y2="297.2" stroke="#fff" stroke-width="0.6"/>
<line x1="653.8" y1="297.2" x2="655.8" y2="297.2" stroke="#fff" stroke-width="0.6"/>
<line x1="645.8" y1="309.9" x2="647.8" y2="309.9" stroke="#fff" stroke-width="0.6"/>
<line x1="653.8" y1="309.9" x2="655.8" y2="309.9" stroke="#fff" stroke-width="0.6"/>
<text x="658.6" y="274" font-size="7.6" text-anchor="start" fill="#222" stroke="#222" stroke-width="0.08">2</text>
<text x="658.6" y="286.7" font-size="7.6" text-anchor="start" fill="#222" stroke="#222" stroke-width="0.08">0</text>
<text x="658.6" y="299.8" font-size="7.6" text-anchor="start" fill="#222" stroke="#222" stroke-width="0.08">−2</text>
<text x="658.6" y="312.8" font-size="7.6" text-anchor="start" fill="#222" stroke="#222" stroke-width="0.08">−4</text>
<text x="0.5" y="189.4" font-size="17" text-anchor="start" fill="#000" stroke="#000" stroke-width="0.42" font-weight="bold">c</text>
<line x1="47.6" y1="189" x2="47.6" y2="331.5" stroke="#222" stroke-width="1"/>
<line x1="47.6" y1="331.5" x2="274.4" y2="331.5" stroke="#222" stroke-width="1"/>
<line x1="45" y1="194.1" x2="47.6" y2="194.1" stroke="#222" stroke-width="0.9"/>
<text x="43.3" y="197.7" font-size="10" text-anchor="end" fill="#333" stroke="#333" stroke-width="0.25">1.00</text>
<line x1="45" y1="226.7" x2="47.6" y2="226.7" stroke="#222" stroke-width="0.9"/>
<text x="43.3" y="230.3" font-size="10" text-anchor="end" fill="#333" stroke="#333" stroke-width="0.25">0.75</text>
<line x1="45" y1="259.3" x2="47.6" y2="259.3" stroke="#222" stroke-width="0.9"/>
<text x="43.3" y="262.9" font-size="10" text-anchor="end" fill="#333" stroke="#333" stroke-width="0.25">0.50</text>
<line x1="45" y1="291.9" x2="47.6" y2="291.9" stroke="#222" stroke-width="0.9"/>
<text x="43.3" y="295.5" font-size="10" text-anchor="end" fill="#333" stroke="#333" stroke-width="0.25">0.25</text>
<line x1="45" y1="324.5" x2="47.6" y2="324.5" stroke="#222" stroke-width="0.9"/>
<text x="43.3" y="328.1" font-size="10" text-anchor="end" fill="#333" stroke="#333" stroke-width="0.25">0.00</text>
<line x1="57.5" y1="331.5" x2="57.5" y2="334" stroke="#222" stroke-width="0.9"/>
<text x="57.5" y="341.8" font-size="10" text-anchor="middle" fill="#333" stroke="#333" stroke-width="0.25">0</text>
<line x1="99" y1="331.5" x2="99" y2="334" stroke="#222" stroke-width="0.9"/>
<text x="99" y="341.8" font-size="10" text-anchor="middle" fill="#333" stroke="#333" stroke-width="0.25">2.5</text>
<line x1="140.5" y1="331.5" x2="140.5" y2="334" stroke="#222" stroke-width="0.9"/>
<text x="140.5" y="341.8" font-size="10" text-anchor="middle" fill="#333" stroke="#333" stroke-width="0.25">5</text>
<line x1="182" y1="331.5" x2="182" y2="334" stroke="#222" stroke-width="0.9"/>
<text x="182" y="341.8" font-size="10" text-anchor="middle" fill="#333" stroke="#333" stroke-width="0.25">7.5</text>
<line x1="223.5" y1="331.5" x2="223.5" y2="334" stroke="#222" stroke-width="0.9"/>
<text x="223.5" y="341.8" font-size="10" text-anchor="middle" fill="#333" stroke="#333" stroke-width="0.25">10</text>
<line x1="265" y1="331.5" x2="265" y2="334" stroke="#222" stroke-width="0.9"/>
<text x="265" y="341.8" font-size="10" text-anchor="middle" fill="#333" stroke="#333" stroke-width="0.25">12.5</text>
<text x="159" y="351.6" font-size="11.3" text-anchor="middle" fill="#111" stroke="#111" stroke-width="0.28">Time (years)</text>
<text x="15.5" y="261.3" font-size="11.6" text-anchor="middle" fill="#111" stroke="#111" stroke-width="0.29" font-weight="bold" transform="rotate(-90 15.5 261.3)">Survival probability</text>
<line x1="57.8" y1="259.3" x2="85.2" y2="259.3" stroke="#444" stroke-width="0.8" stroke-dasharray="2.8 2"/>
<line x1="85.2" y1="259.3" x2="85.2" y2="325" stroke="#444" stroke-width="0.8" stroke-dasharray="2.8 2"/>
<polyline points="57.8,194 59.2,194 59.2,196.84 60.6,196.84 60.6,199.68 61.4,199.68 61.4,201.3 62,201.3 62,202.92 63.4,202.92 63.4,206.72 63.8,206.72 63.8,207.8 64.8,207.8 64.8,211.25 66.2,211.25 66.2,216.09 67.1,216.09 67.1,219.2 67.6,219.2 67.6,222.1 69,222.1 69,230.24 69.2,230.24 69.2,231.4 70.4,231.4 70.4,234.53 71.8,234.53 71.8,238.18 72,238.18 72,238.7 73.2,238.7 73.2,239.64 74.6,239.64 74.6,240.73 75.2,240.73 75.2,241.2 76,241.2 76,243.88 76.9,243.88 76.9,246.9 77.4,246.9 77.4,247.4 78.8,247.4 78.8,248.8 80.1,248.8 80.1,250.1 80.2,250.1 80.2,250.3 81.6,250.3 81.6,253.04 82.6,253.04 82.6,255 83,255 83,255.95 84.4,255.95 84.4,259.27 85,259.27 85,260.7 85.8,260.7 85.8,260.7 87.2,260.7 87.2,260.7 88.6,260.7 88.6,260.7 89.1,260.7 89.1,260.7 90,260.7 90,261.07 91.4,261.07 91.4,261.64 92.8,261.64 92.8,262.21 94.2,262.21 94.2,262.78 95.6,262.78 95.6,263.35 97,263.35 97,263.92 97.2,263.92 97.2,264 98.4,264 98.4,264.21 99.8,264.21 99.8,264.45 101.2,264.45 101.2,264.7 101.8,264.7 101.8,264.8 102.6,264.8 102.6,265.98 104,265.98 104,268.05 105.4,268.05 105.4,270.12 106.2,270.12 106.2,271.3 106.8,271.3 106.8,272.52 108.2,272.52 108.2,275.36 109.4,275.36 109.4,277.8 109.6,277.8 109.6,278 111,278 111,279.4 112.4,279.4 112.4,280.8 113.8,280.8 113.8,282.2 114.3,282.2 114.3,282.7 115.2,282.7 115.2,283.38 116.6,283.38 116.6,284.43 118,284.43 118,285.49 119.4,285.49 119.4,286.54 120.8,286.54 120.8,287.6 120.8,287.6 120.8,287.6 121.7,287.6 121.7,291.7 122.2,291.7 122.2,291.7 123.6,291.7 123.6,291.7 125,291.7 125,291.7 126.4,291.7 126.4,291.7 127.8,291.7 127.8,291.7 129.2,291.7 129.2,291.7 130,291.7 130,291.7 130.6,291.7 130.6,291.7 132,291.7 132,291.7 132.2,291.7 132.2,291.7 133.4,291.7 133.4,292.8 134.7,292.8 134.7,294 134.8,294 134.8,294.11 135.5,294.11 135.5,294.9 136.2,294.9 136.2,295.42 137.6,295.42 137.6,296.45 139,296.45 139,297.49 140.4,297.49 140.4,298.53 140.5,298.53 140.5,298.6 141.8,298.6 141.8,298.6 143.2,298.6 143.2,298.6 144.6,298.6 144.6,298.6 146,298.6 146,298.6 147.4,298.6 147.4,298.6 148.8,298.6 148.8,298.6 150.2,298.6 150.2,298.6 151.6,298.6 151.6,298.6 153,298.6 153,298.6 153.4,298.6 153.4,298.6 154.4,298.6 154.4,300.29 155.8,300.29 155.8,302.66 156,302.66 156,303 157.2,303 157.2,303.9 158.6,303.9 158.6,304.95 160,304.95 160,306 160,306 160,306 161.4,306 161.4,306.84 162.8,306.84 162.8,307.68 164.2,307.68 164.2,308.52 165,308.52 165,309 165.6,309 165.6,309.07 167,309.07 167,309.22 168.4,309.22 168.4,309.38 169.8,309.38 169.8,309.53 171.2,309.53 171.2,309.69 172.6,309.69 172.6,309.84 174,309.84 174,310 175.4,310 175.4,310.16 176.7,310.16 176.7,310.3 176.8,310.3 176.8,310.32 178.2,310.32 178.2,310.67 179.6,310.67 179.6,311.02 181,311.02 181,311.36 182.4,311.36 182.4,311.71 183.8,311.71 183.8,312.06 185.2,312.06 185.2,312.4 186,312.4 186,312.6 186.6,312.6 186.6,312.69 188,312.69 188,312.9 189.4,312.9 189.4,313.11 190.8,313.11 190.8,313.32 192.2,313.32 192.2,313.53 193.6,313.53 193.6,313.74 195,313.74 195,313.95 196.4,313.95 196.4,314.16 197.8,314.16 197.8,314.37 199.2,314.37 199.2,314.58 200,314.58 200,314.7 200.6,314.7 200.6,314.7 202,314.7 202,314.7 203.4,314.7 203.4,314.7 204.8,314.7 204.8,314.7 206.2,314.7 206.2,314.7 207.6,314.7 207.6,314.7 209,314.7 209,314.7 210.4,314.7 210.4,314.7 211.8,314.7 211.8,314.7 213.2,314.7 213.2,314.7 214.6,314.7 214.6,314.7 216,314.7 216,314.7 217.4,314.7 217.4,314.7 218.8,314.7 218.8,314.7 220.2,314.7 220.2,314.7 221.6,314.7 221.6,314.7 223,314.7 223,314.7 224.4,314.7 224.4,314.7 225.8,314.7 225.8,314.7 227.2,314.7 227.2,314.7 228.6,314.7 228.6,314.7 230,314.7 230,314.7 231.4,314.7 231.4,314.7 232.8,314.7 232.8,314.7 234.2,314.7 234.2,314.7 235.6,314.7 235.6,314.7 237,314.7 237,314.7 238.4,314.7 238.4,314.7 239.8,314.7 239.8,314.7 241.2,314.7 241.2,314.7 242.6,314.7 242.6,314.7 244,314.7 244,314.7 245.4,314.7 245.4,314.7 246.8,314.7 246.8,314.7 248.2,314.7 248.2,314.7 249.6,314.7 249.6,314.7 251,314.7 251,314.7 252.4,314.7 252.4,314.7 252.7,314.7 252.7,314.7" fill="none" stroke="#21449a" stroke-width="1.3" stroke-linejoin="miter"/>
<polyline points="57.8,194 59.2,194 59.2,194.16 60.6,194.16 60.6,194.32 62,194.32 62,194.49 63.4,194.49 63.4,194.65 64.7,194.65 64.7,194.8 64.8,194.8 64.8,194.87 66.2,194.87 66.2,195.85 67.6,195.85 67.6,196.84 69,196.84 69,197.82 70.4,197.82 70.4,198.8 70.4,198.8 70.4,198.8 71.8,198.8 71.8,198.93 73.2,198.93 73.2,199.06 74.6,199.06 74.6,199.19 76,199.19 76,199.32 77.4,199.32 77.4,199.45 78.8,199.45 78.8,199.58 80.1,199.58 80.1,199.7 80.2,199.7 80.2,199.71 81.6,199.71 81.6,199.86 83,199.86 83,200.01 84.4,200.01 84.4,200.16 85.8,200.16 85.8,200.32 87.2,200.32 87.2,200.47 87.5,200.47 87.5,200.5 88.6,200.5 88.6,201.74 89.9,201.74 89.9,203.2 90,203.2 90,203.23 91.4,203.23 91.4,203.65 92.8,203.65 92.8,204.07 94.2,204.07 94.2,204.5 95.6,204.5 95.6,204.92 97,204.92 97,205.34 97.2,205.34 97.2,205.4 98.4,205.4 98.4,206.31 99.8,206.31 99.8,207.37 101.2,207.37 101.2,208.43 102.6,208.43 102.6,209.49 104,209.49 104,210.55 104.6,210.55 104.6,211 105.4,211 105.4,211.05 106.8,211.05 106.8,211.14 108.2,211.14 108.2,211.22 109.6,211.22 109.6,211.31 111,211.31 111,211.39 112.4,211.39 112.4,211.48 113.8,211.48 113.8,211.57 115.2,211.57 115.2,211.65 116.6,211.65 116.6,211.74 118,211.74 118,211.83 119.4,211.83 119.4,211.91 120.8,211.91 120.8,212 122.2,212 122.2,212.08 123.6,212.08 123.6,212.17 125,212.17 125,212.26 126.4,212.26 126.4,212.34 127.8,212.34 127.8,212.43 129.2,212.43 129.2,212.52 130.6,212.52 130.6,212.6 132,212.6 132,212.69 132.2,212.69 132.2,212.7 133.4,212.7 133.4,212.71 134.8,212.71 134.8,212.73 136.2,212.73 136.2,212.75 137.6,212.75 137.6,212.76 139,212.76 139,212.78 140.4,212.78 140.4,212.79 141.8,212.79 141.8,212.81 143.2,212.81 143.2,212.83 144.6,212.83 144.6,212.84 146,212.84 146,212.86 147.4,212.86 147.4,212.87 148.8,212.87 148.8,212.89 150.2,212.89 150.2,212.91 151.6,212.91 151.6,212.92 153,212.92 153,212.94 154.4,212.94 154.4,212.95 155.8,212.95 155.8,212.97 157.2,212.97 157.2,212.99 158.4,212.99 158.4,213 158.6,213 158.6,213.36 159.4,213.36 159.4,214.8 160,214.8 160,215.05 161.4,215.05 161.4,215.63 162.8,215.63 162.8,216.21 163.5,216.21 163.5,216.5 164.2,216.5 164.2,217.09 165.6,217.09 165.6,218.26 166.6,218.26 166.6,219.1 167,219.1 167,219.43 168.4,219.43 168.4,220.6 169.6,220.6 169.6,221.6 169.8,221.6 169.8,221.79 171.2,221.79 171.2,223.15 172.6,223.15 172.6,224.5 172.7,224.5 172.7,224.6 174,224.6 174,226.63 174.3,226.63 174.3,227.1 175.4,227.1 175.4,227.17 176.8,227.17 176.8,227.25 178.2,227.25 178.2,227.33 179.6,227.33 179.6,227.41 181,227.41 181,227.5 182.4,227.5 182.4,227.58 183.8,227.58 183.8,227.66 185.2,227.66 185.2,227.75 186.6,227.75 186.6,227.83 188,227.83 188,227.91 189.4,227.91 189.4,227.99 190.8,227.99 190.8,228.08 192.2,228.08 192.2,228.16 193.6,228.16 193.6,228.24 195,228.24 195,228.33 196.4,228.33 196.4,228.41 197.8,228.41 197.8,228.49 199.2,228.49 199.2,228.58 200.6,228.58 200.6,228.66 201.3,228.66 201.3,228.7 202,228.7 202,229.4 203.4,229.4 203.4,230.8 203.4,230.8 203.4,230.8 204.8,230.8 204.8,230.97 206.2,230.97 206.2,231.15 207.6,231.15 207.6,231.32 209,231.32 209,231.49 210.4,231.49 210.4,231.66 211.5,231.66 211.5,231.8 211.8,231.8 211.8,232.04 213.2,232.04 213.2,233.16 214,233.16 214,233.8 214.6,233.8 214.6,234.52 216,234.52 216,236.18 216.6,236.18 216.6,236.9 217.4,236.9 217.4,237.2 218.8,237.2 218.8,237.72 220.2,237.72 220.2,238.25 221.6,238.25 221.6,238.77 223,238.77 223,239.3 223.8,239.3 223.8,239.6 224.4,239.6 224.4,239.6 225.8,239.6 225.8,239.6 227.2,239.6 227.2,239.6 228.6,239.6 228.6,239.6 230,239.6 230,239.6 231.4,239.6 231.4,239.6 232.8,239.6 232.8,239.6 234.2,239.6 234.2,239.6 235.6,239.6 235.6,239.6 237,239.6 237,239.6 238.4,239.6 238.4,239.6 239.8,239.6 239.8,239.6 241.2,239.6 241.2,239.6 242.6,239.6 242.6,239.6 244,239.6 244,239.6 245.4,239.6 245.4,239.6 246.8,239.6 246.8,239.6 248.2,239.6 248.2,239.6 249.6,239.6 249.6,239.6 251,239.6 251,239.6 252.4,239.6 252.4,239.6 253.8,239.6 253.8,239.6 255.2,239.6 255.2,239.6 256.6,239.6 256.6,239.6 258,239.6 258,239.6 259.4,239.6 259.4,239.6 260.8,239.6 260.8,239.6 262.2,239.6 262.2,239.6 263.6,239.6 263.6,239.6 265,239.6 265,239.6 266.4,239.6 266.4,239.6 267.8,239.6 267.8,239.6 269.2,239.6 269.2,239.6 270.6,239.6 270.6,239.6 272,239.6 272,239.6 273.4,239.6 273.4,239.6 274.8,239.6 274.8,239.6 275.9,239.6 275.9,239.6" fill="none" stroke="#e8282a" stroke-width="1.3"/>
<line x1="64" y1="206.09" x2="64" y2="210.89" stroke="#21449a" stroke-width="0.9"/>
<line x1="89" y1="258.3" x2="89" y2="263.1" stroke="#21449a" stroke-width="0.9"/>
<line x1="101.8" y1="262.4" x2="101.8" y2="267.2" stroke="#21449a" stroke-width="0.9"/>
<line x1="120.8" y1="285.2" x2="120.8" y2="290" stroke="#21449a" stroke-width="0.9"/>
<line x1="180" y1="308.72" x2="180" y2="313.52" stroke="#21449a" stroke-width="0.9"/>
<line x1="199" y1="312.15" x2="199" y2="316.95" stroke="#21449a" stroke-width="0.9"/>
<line x1="242" y1="312.3" x2="242" y2="317.1" stroke="#21449a" stroke-width="0.9"/>
<line x1="248" y1="312.3" x2="248" y2="317.1" stroke="#21449a" stroke-width="0.9"/>
<line x1="252" y1="312.3" x2="252" y2="317.1" stroke="#21449a" stroke-width="0.9"/>
<line x1="64.7" y1="192.4" x2="64.7" y2="197.2" stroke="#e8282a" stroke-width="0.9"/>
<line x1="80.1" y1="197.3" x2="80.1" y2="202.1" stroke="#e8282a" stroke-width="0.9"/>
<line x1="97.2" y1="203" x2="97.2" y2="207.8" stroke="#e8282a" stroke-width="0.9"/>
<line x1="116" y1="209.3" x2="116" y2="214.1" stroke="#e8282a" stroke-width="0.9"/>
<line x1="138" y1="210.37" x2="138" y2="215.17" stroke="#e8282a" stroke-width="0.9"/>
<line x1="163.5" y1="214.1" x2="163.5" y2="218.9" stroke="#e8282a" stroke-width="0.9"/>
<line x1="180" y1="225.04" x2="180" y2="229.84" stroke="#e8282a" stroke-width="0.9"/>
<line x1="192" y1="225.75" x2="192" y2="230.55" stroke="#e8282a" stroke-width="0.9"/>
<line x1="197" y1="226.05" x2="197" y2="230.85" stroke="#e8282a" stroke-width="0.9"/>
<line x1="210.5" y1="229.28" x2="210.5" y2="234.08" stroke="#e8282a" stroke-width="0.9"/>
<line x1="222.8" y1="236.82" x2="222.8" y2="241.62" stroke="#e8282a" stroke-width="0.9"/>
<line x1="226" y1="237.2" x2="226" y2="242" stroke="#e8282a" stroke-width="0.9"/>
<line x1="229" y1="237.2" x2="229" y2="242" stroke="#e8282a" stroke-width="0.9"/>
<line x1="232" y1="237.2" x2="232" y2="242" stroke="#e8282a" stroke-width="0.9"/>
<line x1="236" y1="237.2" x2="236" y2="242" stroke="#e8282a" stroke-width="0.9"/>
<line x1="238" y1="237.2" x2="238" y2="242" stroke="#e8282a" stroke-width="0.9"/>
<line x1="241" y1="237.2" x2="241" y2="242" stroke="#e8282a" stroke-width="0.9"/>
<line x1="244" y1="237.2" x2="244" y2="242" stroke="#e8282a" stroke-width="0.9"/>
<line x1="246" y1="237.2" x2="246" y2="242" stroke="#e8282a" stroke-width="0.9"/>
<line x1="249" y1="237.2" x2="249" y2="242" stroke="#e8282a" stroke-width="0.9"/>
<line x1="252" y1="237.2" x2="252" y2="242" stroke="#e8282a" stroke-width="0.9"/>
<line x1="255" y1="237.2" x2="255" y2="242" stroke="#e8282a" stroke-width="0.9"/>
<line x1="258" y1="237.2" x2="258" y2="242" stroke="#e8282a" stroke-width="0.9"/>
<line x1="263" y1="237.2" x2="263" y2="242" stroke="#e8282a" stroke-width="0.9"/>
<line x1="266" y1="237.2" x2="266" y2="242" stroke="#e8282a" stroke-width="0.9"/>
<line x1="275" y1="237.2" x2="275" y2="242" stroke="#e8282a" stroke-width="0.9"/>
<line x1="97.8" y1="194" x2="114.7" y2="194" stroke="#21449a" stroke-width="2.6"/>
<line x1="106.4" y1="188.4" x2="106.4" y2="195.5" stroke="#21449a" stroke-width="1"/>
<text x="116.2" y="197.9" font-size="11.4" text-anchor="start" fill="#111" stroke="#111" stroke-width="0.29">High risk</text>
<line x1="178.7" y1="194" x2="196.2" y2="194" stroke="#e8282a" stroke-width="2.6"/>
<line x1="187.4" y1="188.4" x2="187.4" y2="195.5" stroke="#e8282a" stroke-width="1"/>
<text x="198.4" y="197.9" font-size="11.4" text-anchor="start" fill="#111" stroke="#111" stroke-width="0.29">Low risk</text>
<text x="171.7" y="255.2" font-size="11.3" text-anchor="middle" fill="#111" stroke="#111" stroke-width="0.28">Log−rank</text>
<text x="171.9" y="269.2" font-size="11.1" text-anchor="middle" fill="#111" stroke="#111" stroke-width="0.28">p &lt; 0.0001</text>
<text x="51.6" y="358.6" font-size="11.8" text-anchor="start" fill="#111" stroke="#111" stroke-width="0.3">Number at risk</text>
<line x1="51.9" y1="363" x2="51.9" y2="393" stroke="#222" stroke-width="1"/>
<line x1="51.9" y1="393" x2="271" y2="393" stroke="#222" stroke-width="1"/>
<line x1="50" y1="370.7" x2="51.9" y2="370.7" stroke="#222" stroke-width="0.8"/>
<line x1="50" y1="384.3" x2="51.9" y2="384.3" stroke="#222" stroke-width="0.8"/>
<text x="47.2" y="375.5" font-size="11.85" text-anchor="end" fill="#3a4fa8" stroke="#3a4fa8" stroke-width="0.3">High risk</text>
<text x="47.2" y="387.6" font-size="11.85" text-anchor="end" fill="#e8343a" stroke="#e8343a" stroke-width="0.3">Low risk</text>
<text x="61.8" y="374.9" font-size="10" text-anchor="middle" fill="#222" stroke="#222" stroke-width="0.25">81</text>
<text x="61.8" y="388.6" font-size="10" text-anchor="middle" fill="#222" stroke="#222" stroke-width="0.25">86</text>
<line x1="61.8" y1="393" x2="61.8" y2="395.5" stroke="#222" stroke-width="0.9"/>
<text x="101.6" y="374.9" font-size="10" text-anchor="middle" fill="#222" stroke="#222" stroke-width="0.25">35</text>
<text x="101.6" y="388.6" font-size="10" text-anchor="middle" fill="#222" stroke="#222" stroke-width="0.25">73</text>
<line x1="101.6" y1="393" x2="101.6" y2="395.5" stroke="#222" stroke-width="0.9"/>
<text x="141.2" y="374.9" font-size="10" text-anchor="middle" fill="#222" stroke="#222" stroke-width="0.25">16</text>
<text x="141.2" y="388.6" font-size="10" text-anchor="middle" fill="#222" stroke="#222" stroke-width="0.25">65</text>
<line x1="141.2" y1="393" x2="141.2" y2="395.5" stroke="#222" stroke-width="0.9"/>
<text x="181.2" y="374.9" font-size="10" text-anchor="middle" fill="#222" stroke="#222" stroke-width="0.25">7</text>
<text x="181.2" y="388.6" font-size="10" text-anchor="middle" fill="#222" stroke="#222" stroke-width="0.25">53</text>
<line x1="181.2" y1="393" x2="181.2" y2="395.5" stroke="#222" stroke-width="0.9"/>
<text x="221" y="374.9" font-size="10" text-anchor="middle" fill="#222" stroke="#222" stroke-width="0.25">4</text>
<text x="221" y="388.6" font-size="10" text-anchor="middle" fill="#222" stroke="#222" stroke-width="0.25">38</text>
<line x1="221" y1="393" x2="221" y2="395.5" stroke="#222" stroke-width="0.9"/>
<text x="261.2" y="374.9" font-size="10" text-anchor="middle" fill="#222" stroke="#222" stroke-width="0.25">0</text>
<text x="261.2" y="388.6" font-size="10" text-anchor="middle" fill="#222" stroke="#222" stroke-width="0.25">3</text>
<line x1="261.2" y1="393" x2="261.2" y2="395.5" stroke="#222" stroke-width="0.9"/>
<text x="61.8" y="404.6" font-size="11.2" text-anchor="middle" fill="#111" stroke="#111" stroke-width="0.28">0</text>
<text x="101.6" y="404.6" font-size="11.2" text-anchor="middle" fill="#111" stroke="#111" stroke-width="0.28">2.5</text>
<text x="141.2" y="404.6" font-size="11.2" text-anchor="middle" fill="#111" stroke="#111" stroke-width="0.28">5</text>
<text x="181.2" y="404.6" font-size="11.2" text-anchor="middle" fill="#111" stroke="#111" stroke-width="0.28">7.5</text>
<text x="221" y="404.6" font-size="11.2" text-anchor="middle" fill="#111" stroke="#111" stroke-width="0.28">10</text>
<text x="261.2" y="404.6" font-size="11.2" text-anchor="middle" fill="#111" stroke="#111" stroke-width="0.28">12.5</text>
<text x="158.8" y="416.2" font-size="13.2" text-anchor="middle" fill="#111" stroke="#111" stroke-width="0.33">Time (years)</text>
<text x="0.5" y="438.9" font-size="17" text-anchor="start" fill="#000" stroke="#000" stroke-width="0.42" font-weight="bold">d</text>
<clipPath id="cd"><rect x="47.7" y="442.4" width="163.5" height="145.70000000000005"/></clipPath>
<g clip-path="url(#cd)">
<line x1="47.7" y1="588.1" x2="211.2" y2="442.4" stroke="#222" stroke-width="1"/>
<polyline points="53.7,583.1 53.7,583.1 53.7,576.35 57.03,576.35 57.03,576.35 57.03,576.35 57.03,565.94 58.24,565.94 58.24,565.94 58.24,565.94 58.24,556.08 60.35,556.08 60.35,556.08 60.35,556.08 60.35,542.57 61.26,542.57 61.26,534.46 62.77,534.46 62.77,522.31 63.68,522.31 63.68,515.55 65.49,515.55 65.49,505.55 68.82,505.55 68.82,502.04 72.15,502.04 72.15,498.93 74.11,498.93 74.11,493.93 77.29,493.93 77.29,487.18 78.65,487.18 78.65,479.07 80.61,479.07 80.61,473.67 82.43,473.67 82.43,469.62 85.6,469.62 85.6,466.91 91.5,466.91 91.5,465.56 100.57,465.56 100.57,464.75 108.13,464.75 108.13,462.86 117.2,462.86 117.2,461.51 127.64,461.51 127.64,458.81 133.84,458.81 133.84,456.11 144.42,456.11 144.42,452.59 159.54,452.59 159.54,452.05 181.31,452.05 181.31,450.16 194.32,450.16 194.32,448 204.9,448 204.9,448" fill="none" stroke="#999999" stroke-width="1"/>
<polyline points="53.7,583.1 60.35,519.6 92.26,478.8 204.9,448" fill="none" stroke="#5cc85a" stroke-width="1.1"/>
<polyline points="53.7,583.1 89.99,554.19 131.27,520.01 150.32,505.42 189.78,461.51 204.9,448" fill="none" stroke="#4a8ad0" stroke-width="1.1"/>
<polyline points="53.7,583.1 56.72,583.1 56.72,580.4 59.75,580.4 59.75,577.7 65.19,577.7 66.55,559.46 78.8,559.46 87.57,553.38 99.06,545.27 112.52,534.19 120.23,533.11 127.64,529.06 130.36,518.66 137.92,499.74 151.22,485.56 160.6,486.37 183.43,473.13 187.21,460.83 202.48,452.32 204.9,448" fill="none" stroke="#e8383a" stroke-width="1.1"/>
</g>
<rect x="47.7" y="442.4" width="163.5" height="145.7" fill="none" stroke="#555" stroke-width="1.05"/>
<line x1="43.2" y1="583.1" x2="47.7" y2="583.1" stroke="#555" stroke-width="1"/>
<text x="41.3" y="587.1" font-size="11" text-anchor="end" fill="#222" stroke="#222" stroke-width="0.28">0.0</text>
<line x1="53.7" y1="588.1" x2="53.7" y2="592.6" stroke="#555" stroke-width="1"/>
<text x="53.7" y="602.3" font-size="10.2" text-anchor="middle" fill="#555" stroke="#555" stroke-width="0.26">0.0</text>
<line x1="43.2" y1="556.08" x2="47.7" y2="556.08" stroke="#555" stroke-width="1"/>
<text x="41.3" y="560.08" font-size="11" text-anchor="end" fill="#222" stroke="#222" stroke-width="0.28">0.2</text>
<line x1="83.94" y1="588.1" x2="83.94" y2="592.6" stroke="#555" stroke-width="1"/>
<text x="83.94" y="602.3" font-size="10.2" text-anchor="middle" fill="#555" stroke="#555" stroke-width="0.26">0.2</text>
<line x1="43.2" y1="529.06" x2="47.7" y2="529.06" stroke="#555" stroke-width="1"/>
<text x="41.3" y="533.06" font-size="11" text-anchor="end" fill="#222" stroke="#222" stroke-width="0.28">0.4</text>
<line x1="114.18" y1="588.1" x2="114.18" y2="592.6" stroke="#555" stroke-width="1"/>
<text x="114.18" y="602.3" font-size="10.2" text-anchor="middle" fill="#555" stroke="#555" stroke-width="0.26">0.4</text>
<line x1="43.2" y1="502.04" x2="47.7" y2="502.04" stroke="#555" stroke-width="1"/>
<text x="41.3" y="506.04" font-size="11" text-anchor="end" fill="#222" stroke="#222" stroke-width="0.28">0.6</text>
<line x1="144.42" y1="588.1" x2="144.42" y2="592.6" stroke="#555" stroke-width="1"/>
<text x="144.42" y="602.3" font-size="10.2" text-anchor="middle" fill="#555" stroke="#555" stroke-width="0.26">0.6</text>
<line x1="43.2" y1="475.02" x2="47.7" y2="475.02" stroke="#555" stroke-width="1"/>
<text x="41.3" y="479.02" font-size="11" text-anchor="end" fill="#222" stroke="#222" stroke-width="0.28">0.8</text>
<line x1="174.66" y1="588.1" x2="174.66" y2="592.6" stroke="#555" stroke-width="1"/>
<text x="174.66" y="602.3" font-size="10.2" text-anchor="middle" fill="#555" stroke="#555" stroke-width="0.26">0.8</text>
<line x1="43.2" y1="448" x2="47.7" y2="448" stroke="#555" stroke-width="1"/>
<text x="41.3" y="452" font-size="11" text-anchor="end" fill="#222" stroke="#222" stroke-width="0.28">1.0</text>
<line x1="204.9" y1="588.1" x2="204.9" y2="592.6" stroke="#555" stroke-width="1"/>
<text x="204.9" y="602.3" font-size="10.2" text-anchor="middle" fill="#555" stroke="#555" stroke-width="0.26">1.0</text>
<text x="127.6" y="613.6" font-size="11.3" text-anchor="middle" fill="#111" stroke="#111" stroke-width="0.28">1−Specificity</text>
<text x="19.5" y="517.1" font-size="11.3" text-anchor="middle" fill="#111" stroke="#111" stroke-width="0.28" transform="rotate(-90 19.5 517.1)">Sensitivity</text>
<line x1="106.1" y1="543.1" x2="120.4" y2="543.1" stroke="#e8383a" stroke-width="1.1"/>
<text x="121.6" y="546" font-size="8.05" text-anchor="start" fill="#333" stroke="#333" stroke-width="0.2">Age (AUC=0.496)</text>
<line x1="106.1" y1="555.1" x2="120.4" y2="555.1" stroke="#4a8ad0" stroke-width="1.1"/>
<text x="121.6" y="558" font-size="8.05" text-anchor="start" fill="#333" stroke="#333" stroke-width="0.2">Gender (AUC=0.468)</text>
<line x1="106.1" y1="569.7" x2="120.4" y2="569.7" stroke="#5cc85a" stroke-width="1.1"/>
<text x="121.6" y="572.6" font-size="8.05" text-anchor="start" fill="#333" stroke="#333" stroke-width="0.2">Grade (AUC=0.799)</text>
<line x1="106.1" y1="581.1" x2="120.4" y2="581.1" stroke="#a0a0a0" stroke-width="1.1"/>
<text x="121.6" y="584" font-size="8.05" text-anchor="start" fill="#333" stroke="#333" stroke-width="0.2">risk_score (AUC=0.854)</text>
<text x="227.5" y="438.9" font-size="17" text-anchor="start" fill="#000" stroke="#000" stroke-width="0.42" font-weight="bold">e</text>
<clipPath id="ce"><rect x="267.0" y="442.4" width="164.39999999999998" height="146.60000000000002"/></clipPath>
<g clip-path="url(#ce)">
<line x1="267" y1="589" x2="431.4" y2="442.4" stroke="#222" stroke-width="1"/>
<polyline points="273.1,583.1 274.62,583.1 274.62,576.35 276.14,576.35 276.14,569.59 277.67,569.59 277.67,556.08 279.19,556.08 279.19,542.57 280.71,542.57 280.71,523.66 283.75,523.66 283.75,519.6 288.32,519.6 288.32,515.55 290.15,515.55 290.15,507.58 292.73,507.58 292.73,497.99 297.15,497.99 297.15,493.53 303.54,493.53 303.54,492.58 311.15,492.58 311.15,491.91 315.72,491.91 315.72,487.45 323.33,487.45 323.33,482.18 325.15,482.18 325.15,460.29 333.98,460.29 333.98,459.48 349.2,459.48 349.2,458.81 364.42,458.81 364.42,457.46 394.86,457.46 394.86,456.78 413.12,456.78 413.12,456.11 414.65,456.11 414.65,449.35 425.3,449.35 425.3,448" fill="none" stroke="#d9a948" stroke-width="1.1"/>
<polyline points="273.1,583.1 274.62,583.1 274.62,569.59 276.14,569.59 276.14,562.84 277.67,562.84 277.67,549.33 279.19,549.33 279.19,535.82 280.71,535.82 280.71,522.31 283.75,522.31 283.75,518.25 286.65,518.25 286.65,512.85 290.15,512.85 290.15,509.34 293.65,509.34 293.65,506.63 303.24,506.63 303.24,506.63 305.82,506.63 305.82,497.04 311.15,497.04 311.15,488.53 314.65,488.53 314.65,477.72 319.83,477.72 319.83,470.02 324.24,470.02 324.24,468.27 361.38,468.27 361.38,468.67 364.42,468.67 364.42,456.92 379.64,456.92 379.64,454.75 394.86,454.75 394.86,451.92 405.51,451.92 405.51,452.05 414.65,452.05 414.65,451.38 425.3,451.38 425.3,448" fill="none" stroke="#3d82d6" stroke-width="1.1"/>
<polyline points="273.1,583.1 273.71,583.1 273.71,567.7 274.62,567.7 274.62,556.08 276.14,556.08 276.14,549.33 277.06,549.33 277.06,535.82 278.43,535.82 278.43,529.06 280.41,529.06 280.41,520.95 282.23,520.95 282.23,512.85 283.75,512.85 283.75,508.8 286.04,508.8 286.04,504.74 288.78,504.74 288.78,502.04 291.36,502.04 291.36,497.99 295.63,497.99 295.63,492.58 297.45,492.58 297.45,483.13 298.97,483.13 298.97,475.02 301.26,475.02 301.26,469.62 303.54,469.62 303.54,466.91 311.15,466.91 311.15,464.89 323.93,464.89 323.93,462.86 333.98,462.86 333.98,460.16 341.59,460.16 341.59,457.46 354.22,457.46 354.22,455.3 364.42,455.3 364.42,454.08 381.16,454.08 381.16,451.92 394.86,451.92 394.86,451.38 408.1,451.38 408.1,449.35 417.69,449.35 417.69,448 425.3,448 425.3,448" fill="none" stroke="#587a5c" stroke-width="1.1"/>
</g>
<rect x="267" y="442.4" width="164.4" height="146.6" fill="none" stroke="#666" stroke-width="1.1"/>
<line x1="262.2" y1="583.1" x2="267" y2="583.1" stroke="#666" stroke-width="1"/>
<text x="260" y="587.1" font-size="11" text-anchor="end" fill="#333" stroke="#333" stroke-width="0.28">0.0</text>
<line x1="273.1" y1="589" x2="273.1" y2="593.5" stroke="#666" stroke-width="1"/>
<text x="273.1" y="603" font-size="10" text-anchor="middle" fill="#444" stroke="#444" stroke-width="0.25">0.0</text>
<line x1="262.2" y1="556.08" x2="267" y2="556.08" stroke="#666" stroke-width="1"/>
<text x="260" y="560.08" font-size="11" text-anchor="end" fill="#333" stroke="#333" stroke-width="0.28">0.2</text>
<line x1="303.54" y1="589" x2="303.54" y2="593.5" stroke="#666" stroke-width="1"/>
<text x="303.54" y="603" font-size="10" text-anchor="middle" fill="#444" stroke="#444" stroke-width="0.25">0.2</text>
<line x1="262.2" y1="529.06" x2="267" y2="529.06" stroke="#666" stroke-width="1"/>
<text x="260" y="533.06" font-size="11" text-anchor="end" fill="#333" stroke="#333" stroke-width="0.28">0.4</text>
<line x1="333.98" y1="589" x2="333.98" y2="593.5" stroke="#666" stroke-width="1"/>
<text x="333.98" y="603" font-size="10" text-anchor="middle" fill="#444" stroke="#444" stroke-width="0.25">0.4</text>
<line x1="262.2" y1="502.04" x2="267" y2="502.04" stroke="#666" stroke-width="1"/>
<text x="260" y="506.04" font-size="11" text-anchor="end" fill="#333" stroke="#333" stroke-width="0.28">0.6</text>
<line x1="364.42" y1="589" x2="364.42" y2="593.5" stroke="#666" stroke-width="1"/>
<text x="364.42" y="603" font-size="10" text-anchor="middle" fill="#444" stroke="#444" stroke-width="0.25">0.6</text>
<line x1="262.2" y1="475.02" x2="267" y2="475.02" stroke="#666" stroke-width="1"/>
<text x="260" y="479.02" font-size="11" text-anchor="end" fill="#333" stroke="#333" stroke-width="0.28">0.8</text>
<line x1="394.86" y1="589" x2="394.86" y2="593.5" stroke="#666" stroke-width="1"/>
<text x="394.86" y="603" font-size="10" text-anchor="middle" fill="#444" stroke="#444" stroke-width="0.25">0.8</text>
<line x1="262.2" y1="448" x2="267" y2="448" stroke="#666" stroke-width="1"/>
<text x="260" y="452" font-size="11" text-anchor="end" fill="#333" stroke="#333" stroke-width="0.28">1.0</text>
<line x1="425.3" y1="589" x2="425.3" y2="593.5" stroke="#666" stroke-width="1"/>
<text x="425.3" y="603" font-size="10" text-anchor="middle" fill="#444" stroke="#444" stroke-width="0.25">1.0</text>
<text x="349.3" y="615" font-size="11.4" text-anchor="middle" fill="#111" stroke="#111" stroke-width="0.29">1-Specificity</text>
<text x="239" y="517.1" font-size="11.3" text-anchor="middle" fill="#111" stroke="#111" stroke-width="0.28" transform="rotate(-90 239 517.1)">Sensitivity</text>
<line x1="327.4" y1="540.5" x2="341.6" y2="540.5" stroke="#d9a948" stroke-width="1.1"/>
<text x="342.8" y="543.8" font-size="9.15" text-anchor="start" fill="#222" stroke="#222" stroke-width="0.23">1 years (AUC=0.809)</text>
<line x1="327.4" y1="560.2" x2="341.6" y2="560.2" stroke="#3d82d6" stroke-width="1.1"/>
<text x="342.8" y="563.5" font-size="9.15" text-anchor="start" fill="#222" stroke="#222" stroke-width="0.23">3 years (AUC=0.806)</text>
<line x1="327.4" y1="580.4" x2="341.6" y2="580.4" stroke="#5e7e60" stroke-width="1.1"/>
<text x="342.8" y="583.7" font-size="9.15" text-anchor="start" fill="#222" stroke="#222" stroke-width="0.23">5 years (AUC=0.854)</text>
<text x="446.5" y="438" font-size="17" text-anchor="start" fill="#000" stroke="#000" stroke-width="0.42" font-weight="bold">f</text>
<line x1="489" y1="444.9" x2="489" y2="579.3" stroke="#555" stroke-width="0.9"/>
<line x1="485.5" y1="444.9" x2="489" y2="444.9" stroke="#555" stroke-width="0.9"/>
<text x="481.6" y="448.4" font-size="10.1" text-anchor="end" fill="#333" stroke="#333" stroke-width="0.25">1.0</text>
<line x1="485.5" y1="467.3" x2="489" y2="467.3" stroke="#555" stroke-width="0.9"/>
<text x="481.6" y="470.8" font-size="10.1" text-anchor="end" fill="#333" stroke="#333" stroke-width="0.25">0.9</text>
<line x1="485.5" y1="489.7" x2="489" y2="489.7" stroke="#555" stroke-width="0.9"/>
<text x="481.6" y="493.2" font-size="10.1" text-anchor="end" fill="#333" stroke="#333" stroke-width="0.25">0.8</text>
<line x1="485.5" y1="512.1" x2="489" y2="512.1" stroke="#555" stroke-width="0.9"/>
<text x="481.6" y="515.6" font-size="10.1" text-anchor="end" fill="#333" stroke="#333" stroke-width="0.25">0.7</text>
<line x1="485.5" y1="534.5" x2="489" y2="534.5" stroke="#555" stroke-width="0.9"/>
<text x="481.6" y="538" font-size="10.1" text-anchor="end" fill="#333" stroke="#333" stroke-width="0.25">0.6</text>
<line x1="485.5" y1="556.9" x2="489" y2="556.9" stroke="#555" stroke-width="0.9"/>
<text x="481.6" y="560.4" font-size="10.1" text-anchor="end" fill="#333" stroke="#333" stroke-width="0.25">0.5</text>
<line x1="485.5" y1="579.3" x2="489" y2="579.3" stroke="#555" stroke-width="0.9"/>
<text x="481.6" y="582.8" font-size="10.1" text-anchor="end" fill="#333" stroke="#333" stroke-width="0.25">0.4</text>
<line x1="495" y1="584.7" x2="656.6" y2="584.7" stroke="#555" stroke-width="0.9"/>
<line x1="495" y1="584.7" x2="495" y2="588" stroke="#555" stroke-width="0.9"/>
<text x="495" y="599.7" font-size="10.1" text-anchor="middle" fill="#222" stroke="#222" stroke-width="0.25">0</text>
<line x1="527.32" y1="584.7" x2="527.32" y2="588" stroke="#555" stroke-width="0.9"/>
<text x="527.32" y="599.7" font-size="10.1" text-anchor="middle" fill="#222" stroke="#222" stroke-width="0.25">2</text>
<line x1="559.64" y1="584.7" x2="559.64" y2="588" stroke="#555" stroke-width="0.9"/>
<text x="559.64" y="599.7" font-size="10.1" text-anchor="middle" fill="#222" stroke="#222" stroke-width="0.25">4</text>
<line x1="591.96" y1="584.7" x2="591.96" y2="588" stroke="#555" stroke-width="0.9"/>
<text x="591.96" y="599.7" font-size="10.1" text-anchor="middle" fill="#222" stroke="#222" stroke-width="0.25">6</text>
<line x1="624.28" y1="584.7" x2="624.28" y2="588" stroke="#555" stroke-width="0.9"/>
<text x="624.28" y="599.7" font-size="10.1" text-anchor="middle" fill="#222" stroke="#222" stroke-width="0.25">8</text>
<line x1="656.6" y1="584.7" x2="656.6" y2="588" stroke="#555" stroke-width="0.9"/>
<text x="656.6" y="599.7" font-size="10.1" text-anchor="middle" fill="#222" stroke="#222" stroke-width="0.25">10</text>
<text x="580" y="609.5" font-size="11.3" text-anchor="middle" fill="#111" stroke="#111" stroke-width="0.28" textLength="26" lengthAdjust="spacingAndGlyphs">Time</text>
<text x="464.2" y="512" font-size="11.6" text-anchor="middle" fill="#111" stroke="#111" stroke-width="0.29" transform="rotate(-90 464.2 512)">Concordance index</text>
<line x1="495" y1="556.9" x2="656.6" y2="556.9" stroke="#aaa" stroke-width="0.9" stroke-dasharray="1 2.5"/>
<polyline points="511.16,575.27 527.32,570.34 543.48,568.55 559.64,569 575.8,569.44 591.96,568.77 608.12,568.77 624.28,568.55 640.44,566.98 656.6,566.31" fill="none" stroke="#222" stroke-width="1.1"/>
<polyline points="511.16,544.13 527.32,549.06 543.48,553.54 559.64,552.87 575.8,552.42 591.96,551.97 608.12,549.06 624.28,549.73 640.44,549.06 656.6,548.39" fill="none" stroke="#e05070" stroke-width="1.1"/>
<polyline points="511.16,500.9 527.32,495.3 543.48,494.63 559.64,501.57 575.8,503.36 591.96,503.14 608.12,507.17 624.28,508.52 640.44,510.76 656.6,511.2" fill="none" stroke="#7ccc5c" stroke-width="1.1"/>
<polyline points="511.16,496.2 527.32,490.15 543.48,492.84 559.64,490.15 575.8,489.7 591.96,489.03 608.12,489.7 624.28,491.49 640.44,491.94 656.6,493.51" fill="none" stroke="#5aa6e0" stroke-width="1.1"/>
<line x1="502.3" y1="453.1" x2="512.6" y2="453.1" stroke="#5aa6e0" stroke-width="1"/>
<text x="517.3" y="456.7" font-size="10.3" text-anchor="start" fill="#222" stroke="#222" stroke-width="0.26">risk_score</text>
<line x1="502.3" y1="463.5" x2="512.6" y2="463.5" stroke="#7ccc5c" stroke-width="1"/>
<text x="517.3" y="467.1" font-size="10.3" text-anchor="start" fill="#222" stroke="#222" stroke-width="0.26">Grade</text>
<line x1="502.3" y1="473.5" x2="512.6" y2="473.5" stroke="#e05070" stroke-width="1"/>
<text x="517.3" y="477.1" font-size="10.3" text-anchor="start" fill="#222" stroke="#222" stroke-width="0.26">Gender</text>
<line x1="502.3" y1="483.4" x2="512.6" y2="483.4" stroke="#222" stroke-width="1"/>
<text x="517.3" y="487" font-size="10.3" text-anchor="start" fill="#222" stroke="#222" stroke-width="0.26">Age</text>
<text x="0" y="637.5" font-size="17" text-anchor="start" fill="#000" stroke="#000" stroke-width="0.42" font-weight="bold">g</text>
<text x="20.9" y="653.4" font-size="11.5" text-anchor="start" fill="#111" stroke="#111" stroke-width="0.29">Points</text>
<text x="20.9" y="672.6" font-size="11.5" text-anchor="start" fill="#111" stroke="#111" stroke-width="0.29">Age</text>
<text x="20.9" y="699.8" font-size="11.5" text-anchor="start" fill="#111" stroke="#111" stroke-width="0.29">Gender*</text>
<text x="20.9" y="728.6" font-size="11.5" text-anchor="start" fill="#111" stroke="#111" stroke-width="0.29">risk_score***</text>
<text x="20.9" y="755.6" font-size="11.5" text-anchor="start" fill="#111" stroke="#111" stroke-width="0.29">Grade***</text>
<text x="20.9" y="772.6" font-size="11.5" text-anchor="start" fill="#111" stroke="#111" stroke-width="0.29">Total points</text>
<text x="246.1" y="643.7" font-size="11.6" text-anchor="middle" fill="#111" stroke="#111" stroke-width="0.29">res.cox.coxph</text>
<line x1="97.2" y1="649.6" x2="376.2" y2="649.6" stroke="#555" stroke-width="0.9"/>
<text x="97.2" y="654.5" font-size="5.8" text-anchor="middle" fill="#333" stroke="#333" stroke-width="0.08">0</text>
<text x="153" y="654.5" font-size="5.8" text-anchor="middle" fill="#333" stroke="#333" stroke-width="0.08">20</text>
<text x="208.8" y="654.5" font-size="5.8" text-anchor="middle" fill="#333" stroke="#333" stroke-width="0.08">40</text>
<text x="264.6" y="654.5" font-size="5.8" text-anchor="middle" fill="#333" stroke="#333" stroke-width="0.08">60</text>
<text x="320.4" y="654.5" font-size="5.8" text-anchor="middle" fill="#333" stroke="#333" stroke-width="0.08">80</text>
<text x="376.2" y="654.5" font-size="5.8" text-anchor="middle" fill="#333" stroke="#333" stroke-width="0.08">100</text>
<line x1="116.8" y1="673.8" x2="151.8" y2="673.8" stroke="#777" stroke-width="1"/>
<text x="117" y="677.5" font-size="5.8" text-anchor="middle" fill="#333" stroke="#333" stroke-width="0.08">10</text>
<text x="144" y="677.5" font-size="5.8" text-anchor="middle" fill="#333" stroke="#333" stroke-width="0.08">50</text>
<polyline points="116.8,673.6 119,673 121,671.5 122.5,670.5 124,671 125.5,668 127,669.5 128.5,666 130,667 131.5,664 133,661 134,657.8 135,661 136,664 137,665 138,662 139,668 140,664 141,669 142.5,667 144,671 145.5,670 147,672.5 149,671.5 151.8,673" fill="#ececf2" stroke="#4a62b0" stroke-width="0.9"/>
<line x1="116.8" y1="673.8" x2="151.8" y2="673.8" stroke="#888" stroke-width="1"/>
<rect x="83.2" y="692.2" width="27.5" height="16.3" fill="#c3e6dc" stroke="#5d7fc0" stroke-width="0.9"/>
<line x1="110.7" y1="700.6" x2="125.2" y2="700.6" stroke="#bbb" stroke-width="0.8"/>
<rect x="125.2" y="694.3" width="22.2" height="13.1" fill="#c3e6dc" stroke="#5d7fc0" stroke-width="0.9"/>
<circle cx="97" cy="700.4" r="0.6" fill="#222"/>
<text x="97.1" y="690.9" font-size="9.2" text-anchor="middle" fill="#222" stroke="#222" stroke-width="0.23">Male</text>
<text x="138.3" y="715" font-size="9" text-anchor="middle" fill="#222" stroke="#222" stroke-width="0.23">Female</text>
<polyline points="92,727.2 96,726.5 99,722 102,716 105,712.5 107.2,711.4 109.5,712.5 112,716 115,720 118,722.3 121.2,722.8 124,722 127.3,721.4 131,722.2 135,723.6 139.6,724.5 142,724 145,723 148,724.3 152,725.2 160,725.8 170,726.2 185,726.5 200,726.8 215,726.4 225,726.8 240,727 255,726.8 280,727 320,727.1 388,727.2" fill="#ececec" stroke="#4a62b0" stroke-width="0.9"/>
<line x1="92" y1="727.2" x2="388" y2="727.2" stroke="#555" stroke-width="0.9"/>
<text x="93.8" y="731.2" font-size="5.8" text-anchor="middle" fill="#333" stroke="#333" stroke-width="0.08">0</text>
<text x="123.21" y="731.2" font-size="5.8" text-anchor="middle" fill="#333" stroke="#333" stroke-width="0.08">1</text>
<text x="152.62" y="731.2" font-size="5.8" text-anchor="middle" fill="#333" stroke="#333" stroke-width="0.08">2</text>
<text x="182.03" y="731.2" font-size="5.8" text-anchor="middle" fill="#333" stroke="#333" stroke-width="0.08">3</text>
<text x="211.44" y="731.2" font-size="5.8" text-anchor="middle" fill="#333" stroke="#333" stroke-width="0.08">4</text>
<text x="240.85" y="731.2" font-size="5.8" text-anchor="middle" fill="#333" stroke="#333" stroke-width="0.08">5</text>
<text x="270.26" y="731.2" font-size="5.8" text-anchor="middle" fill="#333" stroke="#333" stroke-width="0.08">6</text>
<text x="299.67" y="731.2" font-size="5.8" text-anchor="middle" fill="#333" stroke="#333" stroke-width="0.08">7</text>
<text x="329.08" y="731.2" font-size="5.8" text-anchor="middle" fill="#333" stroke="#333" stroke-width="0.08">8</text>
<text x="358.49" y="731.2" font-size="5.8" text-anchor="middle" fill="#333" stroke="#333" stroke-width="0.08">9</text>
<text x="387.9" y="731.2" font-size="5.8" text-anchor="middle" fill="#333" stroke="#333" stroke-width="0.08">10</text>
<line x1="149.7" y1="754.5" x2="313" y2="754.5" stroke="#ccc" stroke-width="0.8"/>
<rect x="122" y="746.4" width="27.7" height="16.1" fill="#c3e6dc" stroke="#5d7fc0" stroke-width="0.9"/>
<rect x="175.8" y="749" width="19.5" height="11.4" fill="#c3e6dc" stroke="#5d7fc0" stroke-width="0.9"/>
<rect x="313" y="749" width="18.7" height="11.2" fill="#c3e6dc" stroke="#5d7fc0" stroke-width="0.9"/>
<circle cx="185.5" cy="754.7" r="0.6" fill="#222"/>
<circle cx="322.3" cy="754.6" r="0.6" fill="#222"/>
<text x="134.6" y="743.4" font-size="8.9" text-anchor="middle" fill="#222" stroke="#222" stroke-width="0.22">WHO II</text>
<text x="185.5" y="769.1" font-size="8.9" text-anchor="middle" fill="#222" stroke="#222" stroke-width="0.22">WHO III</text>
<text x="322" y="744.9" font-size="8.9" text-anchor="middle" fill="#222" stroke="#222" stroke-width="0.22">WHO IV</text>
<polyline points="84,795 88,794.5 92,793.5 96,790 100,785 104,780.5 107.2,779.2 110,780.5 114,786 118,789.8 122.9,790.7 127,788.5 132.6,785.8 140,785.5 146.6,786 150,789 153.6,791 160,791.5 165,791 170,791.8 180,792.5 195,793 210,793.8 223,792.3 232,793.3 240,793.5 260,793 270,792 278,791.3 285,792.8 295,793 305,792.5 315,793 330,793.5 350,794 370,794.2 394.3,794.8" fill="#ececec" stroke="#4a62b0" stroke-width="0.9"/>
<line x1="84" y1="794.8" x2="394.3" y2="794.8" stroke="#555" stroke-width="0.9"/>
<text x="84" y="799.2" font-size="5.8" text-anchor="middle" fill="#333" stroke="#333" stroke-width="0.08">20</text>
<text x="122.8" y="799.2" font-size="5.8" text-anchor="middle" fill="#333" stroke="#333" stroke-width="0.08">40</text>
<text x="161.6" y="799.2" font-size="5.8" text-anchor="middle" fill="#333" stroke="#333" stroke-width="0.08">60</text>
<text x="200.4" y="799.2" font-size="5.8" text-anchor="middle" fill="#333" stroke="#333" stroke-width="0.08">80</text>
<text x="239.2" y="799.2" font-size="5.8" text-anchor="middle" fill="#333" stroke="#333" stroke-width="0.08">100</text>
<text x="278" y="799.2" font-size="5.8" text-anchor="middle" fill="#333" stroke="#333" stroke-width="0.08">120</text>
<text x="316.8" y="799.2" font-size="5.8" text-anchor="middle" fill="#333" stroke="#333" stroke-width="0.08">140</text>
<text x="355.6" y="799.2" font-size="5.8" text-anchor="middle" fill="#333" stroke="#333" stroke-width="0.08">160</text>
<text x="394.4" y="799.2" font-size="5.8" text-anchor="middle" fill="#333" stroke="#333" stroke-width="0.08">180</text>
<line x1="136.1" y1="649.6" x2="136.1" y2="754.8" stroke="#ff3030" stroke-width="0.7" stroke-dasharray="1 1"/>
<line x1="145.3" y1="649.6" x2="145.3" y2="727.2" stroke="#ff3030" stroke-width="0.7" stroke-dasharray="1 1"/>
<circle cx="136.1" cy="649.6" r="1.9" fill="#ff1a1a"/>
<circle cx="145.3" cy="649.6" r="1.9" fill="#ff1a1a"/>
<circle cx="136.1" cy="673.8" r="1.9" fill="#ff1a1a"/>
<circle cx="136.1" cy="701" r="1.9" fill="#ff1a1a"/>
<circle cx="145.3" cy="727.2" r="1.9" fill="#ff1a1a"/>
<circle cx="136" cy="754.8" r="1.9" fill="#ff1a1a"/>
<line x1="109" y1="816.5" x2="334.9" y2="816.5" stroke="#555" stroke-width="0.9"/>
<text x="69.3" y="818" font-size="6.4" text-anchor="start" fill="#333" stroke="#333" stroke-width="0.08" font-style="italic">Pr( OS &lt; 5 )</text>
<text x="156.6" y="813.5" font-size="6.45" text-anchor="end" fill="#ff2020" stroke="#ff2020" stroke-width="0.08" font-style="italic">0.365</text>
<text x="113" y="821.7" font-size="6.3" text-anchor="middle" fill="#333" stroke="#333" stroke-width="0.08">0.2</text>
<text x="168.2" y="821.7" font-size="6.3" text-anchor="middle" fill="#333" stroke="#333" stroke-width="0.08">0.4</text>
<text x="206.5" y="821.7" font-size="6.3" text-anchor="middle" fill="#333" stroke="#333" stroke-width="0.08">0.6</text>
<text x="254.6" y="821.7" font-size="6.3" text-anchor="middle" fill="#333" stroke="#333" stroke-width="0.08">0.85</text>
<text x="280.3" y="821.7" font-size="6.3" text-anchor="middle" fill="#333" stroke="#333" stroke-width="0.08">0.94</text>
<text x="307.6" y="821.7" font-size="6.3" text-anchor="middle" fill="#333" stroke="#333" stroke-width="0.08">0.985</text>
<text x="333.3" y="821.7" font-size="6.3" text-anchor="middle" fill="#333" stroke="#333" stroke-width="0.08">0.998</text>
<line x1="136.5" y1="837.7" x2="370.2" y2="837.7" stroke="#555" stroke-width="0.9"/>
<text x="96.6" y="839.3" font-size="6.4" text-anchor="start" fill="#333" stroke="#333" stroke-width="0.08" font-style="italic">Pr( OS &lt; 3 )</text>
<text x="156.6" y="835.5" font-size="6.45" text-anchor="end" fill="#ff2020" stroke="#ff2020" stroke-width="0.08" font-style="italic">0.252</text>
<text x="142" y="842.9" font-size="6.3" text-anchor="middle" fill="#333" stroke="#333" stroke-width="0.08">0.2</text>
<text x="197.4" y="842.9" font-size="6.3" text-anchor="middle" fill="#333" stroke="#333" stroke-width="0.08">0.4</text>
<text x="236.3" y="842.9" font-size="6.3" text-anchor="middle" fill="#333" stroke="#333" stroke-width="0.08">0.6</text>
<text x="284.1" y="842.9" font-size="6.3" text-anchor="middle" fill="#333" stroke="#333" stroke-width="0.08">0.85</text>
<text x="310.8" y="842.9" font-size="6.3" text-anchor="middle" fill="#333" stroke="#333" stroke-width="0.08">0.94</text>
<text x="336.5" y="842.9" font-size="6.3" text-anchor="middle" fill="#333" stroke="#333" stroke-width="0.08">0.985</text>
<text x="362.2" y="842.9" font-size="6.3" text-anchor="middle" fill="#333" stroke="#333" stroke-width="0.08">0.998</text>
<line x1="95" y1="859.6" x2="389.5" y2="859.6" stroke="#555" stroke-width="0.9"/>
<text x="56.2" y="861.2" font-size="6.4" text-anchor="start" fill="#333" stroke="#333" stroke-width="0.08" font-style="italic">Pr( OS &lt; 1 )</text>
<text x="156.6" y="856.2" font-size="6.45" text-anchor="end" fill="#ff2020" stroke="#ff2020" stroke-width="0.08" font-style="italic">0.0933</text>
<text x="102" y="864.8" font-size="6.3" text-anchor="middle" fill="#333" stroke="#333" stroke-width="0.08">0.04</text>
<text x="149.6" y="864.8" font-size="6.3" text-anchor="middle" fill="#333" stroke="#333" stroke-width="0.08">0.08</text>
<text x="178" y="864.8" font-size="6.3" text-anchor="middle" fill="#333" stroke="#333" stroke-width="0.08">0.12</text>
<text x="214.5" y="864.8" font-size="6.3" text-anchor="middle" fill="#333" stroke="#333" stroke-width="0.08">0.2</text>
<text x="269" y="864.8" font-size="6.3" text-anchor="middle" fill="#333" stroke="#333" stroke-width="0.08">0.4</text>
<text x="307.6" y="864.8" font-size="6.3" text-anchor="middle" fill="#333" stroke="#333" stroke-width="0.08">0.6</text>
<text x="354.1" y="864.8" font-size="6.3" text-anchor="middle" fill="#333" stroke="#333" stroke-width="0.08">0.84</text>
<text x="383" y="864.8" font-size="6.3" text-anchor="middle" fill="#333" stroke="#333" stroke-width="0.08">0.94</text>
<line x1="160.1" y1="795" x2="160.1" y2="859.6" stroke="#ff2a2a" stroke-width="0.9"/>
<polygon points="156.6,813.5 163.6,813.5 160.1,818" fill="#ff2020"/>
<polygon points="156.6,834.7 163.6,834.7 160.1,839.2" fill="#ff2020"/>
<polygon points="156.6,856.6 163.6,856.6 160.1,861.1" fill="#ff2020"/>
<polygon points="160.1,791.3 163.6,795 160.1,798.7 156.6,795" fill="#ff2020"/>
<text x="160.5" y="794.5" font-size="7.2" text-anchor="middle" fill="#ff5050" stroke="#ff5050" stroke-width="0.08">59.3</text>
<text x="412.5" y="642" font-size="17" text-anchor="start" fill="#000" stroke="#000" stroke-width="0.42" font-weight="bold">h</text>
<clipPath id="ch"><rect x="451.3" y="649.5" width="206.99999999999994" height="206.39999999999998"/></clipPath>
<line x1="464.61" y1="650.3" x2="464.61" y2="654" stroke="#222" stroke-width="0.55"/>
<line x1="466.5" y1="650.3" x2="466.5" y2="654" stroke="#222" stroke-width="0.55"/>
<line x1="461.49" y1="650.3" x2="461.49" y2="654" stroke="#222" stroke-width="0.55"/>
<line x1="464.13" y1="650.3" x2="464.13" y2="654" stroke="#222" stroke-width="0.55"/>
<line x1="468.72" y1="650.3" x2="468.72" y2="654" stroke="#222" stroke-width="0.55"/>
<line x1="468.76" y1="650.3" x2="468.76" y2="654" stroke="#222" stroke-width="0.55"/>
<line x1="459.51" y1="650.3" x2="459.51" y2="654" stroke="#222" stroke-width="0.55"/>
<line x1="460.49" y1="650.3" x2="460.49" y2="654" stroke="#222" stroke-width="0.55"/>
<line x1="458.62" y1="650.3" x2="458.62" y2="654" stroke="#222" stroke-width="0.55"/>
<line x1="463.29" y1="650.3" x2="463.29" y2="654" stroke="#222" stroke-width="0.55"/>
<line x1="458.36" y1="650.3" x2="458.36" y2="654" stroke="#222" stroke-width="0.55"/>
<line x1="463.48" y1="650.3" x2="463.48" y2="654" stroke="#222" stroke-width="0.55"/>
<line x1="465.79" y1="650.3" x2="465.79" y2="654" stroke="#222" stroke-width="0.55"/>
<line x1="461.34" y1="650.3" x2="461.34" y2="654" stroke="#222" stroke-width="0.55"/>
<line x1="554.03" y1="650.3" x2="554.03" y2="654" stroke="#222" stroke-width="0.55"/>
<line x1="541.9" y1="650.3" x2="541.9" y2="654" stroke="#222" stroke-width="0.55"/>
<line x1="461.41" y1="650.3" x2="461.41" y2="654" stroke="#222" stroke-width="0.55"/>
<line x1="537.36" y1="650.3" x2="537.36" y2="654" stroke="#222" stroke-width="0.55"/>
<line x1="494.81" y1="650.3" x2="494.81" y2="654" stroke="#222" stroke-width="0.55"/>
<line x1="516.94" y1="650.3" x2="516.94" y2="654" stroke="#222" stroke-width="0.55"/>
<line x1="498.26" y1="650.3" x2="498.26" y2="654" stroke="#222" stroke-width="0.55"/>
<line x1="556.43" y1="650.3" x2="556.43" y2="654" stroke="#222" stroke-width="0.55"/>
<line x1="520.54" y1="650.3" x2="520.54" y2="654" stroke="#222" stroke-width="0.55"/>
<line x1="480.28" y1="650.3" x2="480.28" y2="654" stroke="#222" stroke-width="0.55"/>
<line x1="535.34" y1="650.3" x2="535.34" y2="654" stroke="#222" stroke-width="0.55"/>
<line x1="568.8" y1="650.3" x2="568.8" y2="654" stroke="#222" stroke-width="0.55"/>
<line x1="501.5" y1="650.3" x2="501.5" y2="654" stroke="#222" stroke-width="0.55"/>
<line x1="489.52" y1="650.3" x2="489.52" y2="654" stroke="#222" stroke-width="0.55"/>
<line x1="513.09" y1="650.3" x2="513.09" y2="654" stroke="#222" stroke-width="0.55"/>
<line x1="590.97" y1="650.3" x2="590.97" y2="654" stroke="#222" stroke-width="0.55"/>
<line x1="596.59" y1="650.3" x2="596.59" y2="654" stroke="#222" stroke-width="0.55"/>
<line x1="553.48" y1="650.3" x2="553.48" y2="654" stroke="#222" stroke-width="0.55"/>
<line x1="586.2" y1="650.3" x2="586.2" y2="654" stroke="#222" stroke-width="0.55"/>
<line x1="578.1" y1="650.3" x2="578.1" y2="654" stroke="#222" stroke-width="0.55"/>
<line x1="511.68" y1="650.3" x2="511.68" y2="654" stroke="#222" stroke-width="0.55"/>
<line x1="471.09" y1="650.3" x2="471.09" y2="654" stroke="#222" stroke-width="0.55"/>
<line x1="550.78" y1="650.3" x2="550.78" y2="654" stroke="#222" stroke-width="0.55"/>
<line x1="537.21" y1="650.3" x2="537.21" y2="654" stroke="#222" stroke-width="0.55"/>
<line x1="509.34" y1="650.3" x2="509.34" y2="654" stroke="#222" stroke-width="0.55"/>
<line x1="489.96" y1="650.3" x2="489.96" y2="654" stroke="#222" stroke-width="0.55"/>
<line x1="515.73" y1="650.3" x2="515.73" y2="654" stroke="#222" stroke-width="0.55"/>
<line x1="524.59" y1="650.3" x2="524.59" y2="654" stroke="#222" stroke-width="0.55"/>
<line x1="496.23" y1="650.3" x2="496.23" y2="654" stroke="#222" stroke-width="0.55"/>
<line x1="499.43" y1="650.3" x2="499.43" y2="654" stroke="#222" stroke-width="0.55"/>
<line x1="522.99" y1="650.3" x2="522.99" y2="654" stroke="#222" stroke-width="0.55"/>
<line x1="580.2" y1="650.3" x2="580.2" y2="654" stroke="#222" stroke-width="0.55"/>
<line x1="541.25" y1="650.3" x2="541.25" y2="654" stroke="#222" stroke-width="0.55"/>
<line x1="498.26" y1="650.3" x2="498.26" y2="654" stroke="#222" stroke-width="0.55"/>
<line x1="497.47" y1="650.3" x2="497.47" y2="654" stroke="#222" stroke-width="0.55"/>
<line x1="522.56" y1="650.3" x2="522.56" y2="654" stroke="#222" stroke-width="0.55"/>
<line x1="487.17" y1="650.3" x2="487.17" y2="654" stroke="#222" stroke-width="0.55"/>
<line x1="486.6" y1="650.3" x2="486.6" y2="654" stroke="#222" stroke-width="0.55"/>
<line x1="530.99" y1="650.3" x2="530.99" y2="654" stroke="#222" stroke-width="0.55"/>
<line x1="470.39" y1="650.3" x2="470.39" y2="654" stroke="#222" stroke-width="0.55"/>
<line x1="526.67" y1="650.3" x2="526.67" y2="654" stroke="#222" stroke-width="0.55"/>
<line x1="509.43" y1="650.3" x2="509.43" y2="654" stroke="#222" stroke-width="0.55"/>
<line x1="558.49" y1="650.3" x2="558.49" y2="654" stroke="#222" stroke-width="0.55"/>
<line x1="564.04" y1="650.3" x2="564.04" y2="654" stroke="#222" stroke-width="0.55"/>
<line x1="556.14" y1="650.3" x2="556.14" y2="654" stroke="#222" stroke-width="0.55"/>
<line x1="555.86" y1="650.3" x2="555.86" y2="654" stroke="#222" stroke-width="0.55"/>
<line x1="511.05" y1="650.3" x2="511.05" y2="654" stroke="#222" stroke-width="0.55"/>
<line x1="552.88" y1="650.3" x2="552.88" y2="654" stroke="#222" stroke-width="0.55"/>
<line x1="506.26" y1="650.3" x2="506.26" y2="654" stroke="#222" stroke-width="0.55"/>
<line x1="539.34" y1="650.3" x2="539.34" y2="654" stroke="#222" stroke-width="0.55"/>
<line x1="504.26" y1="650.3" x2="504.26" y2="654" stroke="#222" stroke-width="0.55"/>
<line x1="521.21" y1="650.3" x2="521.21" y2="654" stroke="#222" stroke-width="0.55"/>
<line x1="466.74" y1="650.3" x2="466.74" y2="654" stroke="#222" stroke-width="0.55"/>
<line x1="492.46" y1="650.3" x2="492.46" y2="654" stroke="#222" stroke-width="0.55"/>
<line x1="595.97" y1="650.3" x2="595.97" y2="654" stroke="#222" stroke-width="0.55"/>
<line x1="490.74" y1="650.3" x2="490.74" y2="654" stroke="#222" stroke-width="0.55"/>
<line x1="556.19" y1="650.3" x2="556.19" y2="654" stroke="#222" stroke-width="0.55"/>
<line x1="550.37" y1="650.3" x2="550.37" y2="654" stroke="#222" stroke-width="0.55"/>
<line x1="560.8" y1="650.3" x2="560.8" y2="654" stroke="#222" stroke-width="0.55"/>
<line x1="525.46" y1="650.3" x2="525.46" y2="654" stroke="#222" stroke-width="0.55"/>
<line x1="542.73" y1="650.3" x2="542.73" y2="654" stroke="#222" stroke-width="0.55"/>
<line x1="467.51" y1="650.3" x2="467.51" y2="654" stroke="#222" stroke-width="0.55"/>
<line x1="468.3" y1="650.3" x2="468.3" y2="654" stroke="#222" stroke-width="0.55"/>
<line x1="486.25" y1="650.3" x2="486.25" y2="654" stroke="#222" stroke-width="0.55"/>
<line x1="479.56" y1="650.3" x2="479.56" y2="654" stroke="#222" stroke-width="0.55"/>
<line x1="472.21" y1="650.3" x2="472.21" y2="654" stroke="#222" stroke-width="0.55"/>
<line x1="476.36" y1="650.3" x2="476.36" y2="654" stroke="#222" stroke-width="0.55"/>
<line x1="536.57" y1="650.3" x2="536.57" y2="654" stroke="#222" stroke-width="0.55"/>
<line x1="484.67" y1="650.3" x2="484.67" y2="654" stroke="#222" stroke-width="0.55"/>
<line x1="593.2" y1="650.3" x2="593.2" y2="654" stroke="#222" stroke-width="0.55"/>
<line x1="620.44" y1="650.3" x2="620.44" y2="654" stroke="#222" stroke-width="0.55"/>
<line x1="610.04" y1="650.3" x2="610.04" y2="654" stroke="#222" stroke-width="0.55"/>
<line x1="622.33" y1="650.3" x2="622.33" y2="654" stroke="#222" stroke-width="0.55"/>
<line x1="589.53" y1="650.3" x2="589.53" y2="654" stroke="#222" stroke-width="0.55"/>
<line x1="638.58" y1="650.3" x2="638.58" y2="654" stroke="#222" stroke-width="0.55"/>
<line x1="632.1" y1="650.3" x2="632.1" y2="654" stroke="#222" stroke-width="0.55"/>
<line x1="623.75" y1="650.3" x2="623.75" y2="654" stroke="#222" stroke-width="0.55"/>
<line x1="605.54" y1="650.3" x2="605.54" y2="654" stroke="#222" stroke-width="0.55"/>
<line x1="632.32" y1="650.3" x2="632.32" y2="654" stroke="#222" stroke-width="0.55"/>
<line x1="625.11" y1="650.3" x2="625.11" y2="654" stroke="#222" stroke-width="0.55"/>
<line x1="618.86" y1="650.3" x2="618.86" y2="654" stroke="#222" stroke-width="0.55"/>
<line x1="637.63" y1="650.3" x2="637.63" y2="654" stroke="#222" stroke-width="0.55"/>
<line x1="616.89" y1="650.3" x2="616.89" y2="654" stroke="#222" stroke-width="0.55"/>
<line x1="597.08" y1="650.3" x2="597.08" y2="654" stroke="#222" stroke-width="0.55"/>
<line x1="610.91" y1="650.3" x2="610.91" y2="654" stroke="#222" stroke-width="0.55"/>
<line x1="584.53" y1="650.3" x2="584.53" y2="654" stroke="#222" stroke-width="0.55"/>
<line x1="584.21" y1="650.3" x2="584.21" y2="654" stroke="#222" stroke-width="0.55"/>
<line x1="623.7" y1="650.3" x2="623.7" y2="654" stroke="#222" stroke-width="0.55"/>
<line x1="628.09" y1="650.3" x2="628.09" y2="654" stroke="#222" stroke-width="0.55"/>
<line x1="641.94" y1="650.3" x2="641.94" y2="654" stroke="#222" stroke-width="0.55"/>
<line x1="632.97" y1="650.3" x2="632.97" y2="654" stroke="#222" stroke-width="0.55"/>
<line x1="610.23" y1="650.3" x2="610.23" y2="654" stroke="#222" stroke-width="0.55"/>
<line x1="576.64" y1="650.3" x2="576.64" y2="654" stroke="#222" stroke-width="0.55"/>
<line x1="606.18" y1="650.3" x2="606.18" y2="654" stroke="#222" stroke-width="0.55"/>
<line x1="638.67" y1="650.3" x2="638.67" y2="654" stroke="#222" stroke-width="0.55"/>
<line x1="628.28" y1="650.3" x2="628.28" y2="654" stroke="#222" stroke-width="0.55"/>
<line x1="605.9" y1="650.3" x2="605.9" y2="654" stroke="#222" stroke-width="0.55"/>
<line x1="603.69" y1="650.3" x2="603.69" y2="654" stroke="#222" stroke-width="0.55"/>
<line x1="586.13" y1="650.3" x2="586.13" y2="654" stroke="#222" stroke-width="0.55"/>
<line x1="583.11" y1="650.3" x2="583.11" y2="654" stroke="#222" stroke-width="0.55"/>
<line x1="575.45" y1="650.3" x2="575.45" y2="654" stroke="#222" stroke-width="0.55"/>
<line x1="636.04" y1="650.3" x2="636.04" y2="654" stroke="#222" stroke-width="0.55"/>
<line x1="617.37" y1="650.3" x2="617.37" y2="654" stroke="#222" stroke-width="0.55"/>
<line x1="580.61" y1="650.3" x2="580.61" y2="654" stroke="#222" stroke-width="0.55"/>
<line x1="600.65" y1="650.3" x2="600.65" y2="654" stroke="#222" stroke-width="0.55"/>
<line x1="573.63" y1="650.3" x2="573.63" y2="654" stroke="#222" stroke-width="0.55"/>
<line x1="585.49" y1="650.3" x2="585.49" y2="654" stroke="#222" stroke-width="0.55"/>
<line x1="624.07" y1="650.3" x2="624.07" y2="654" stroke="#222" stroke-width="0.55"/>
<line x1="618.18" y1="650.3" x2="618.18" y2="654" stroke="#222" stroke-width="0.55"/>
<line x1="605.44" y1="650.3" x2="605.44" y2="654" stroke="#222" stroke-width="0.55"/>
<line x1="590.33" y1="650.3" x2="590.33" y2="654" stroke="#222" stroke-width="0.55"/>
<line x1="618.26" y1="650.3" x2="618.26" y2="654" stroke="#222" stroke-width="0.55"/>
<line x1="640.78" y1="650.3" x2="640.78" y2="654" stroke="#222" stroke-width="0.55"/>
<line x1="602.23" y1="650.3" x2="602.23" y2="654" stroke="#222" stroke-width="0.55"/>
<line x1="575.19" y1="650.3" x2="575.19" y2="654" stroke="#222" stroke-width="0.55"/>
<line x1="574.27" y1="650.3" x2="574.27" y2="654" stroke="#222" stroke-width="0.55"/>
<line x1="576.13" y1="650.3" x2="576.13" y2="654" stroke="#222" stroke-width="0.55"/>
<line x1="641.02" y1="650.3" x2="641.02" y2="654" stroke="#222" stroke-width="0.55"/>
<line x1="610.02" y1="650.3" x2="610.02" y2="654" stroke="#222" stroke-width="0.55"/>
<line x1="631.97" y1="650.3" x2="631.97" y2="654" stroke="#222" stroke-width="0.55"/>
<line x1="582.58" y1="650.3" x2="582.58" y2="654" stroke="#222" stroke-width="0.55"/>
<line x1="589.27" y1="650.3" x2="589.27" y2="654" stroke="#222" stroke-width="0.55"/>
<line x1="621.21" y1="650.3" x2="621.21" y2="654" stroke="#222" stroke-width="0.55"/>
<line x1="636.27" y1="650.3" x2="636.27" y2="654" stroke="#222" stroke-width="0.55"/>
<line x1="595.21" y1="650.3" x2="595.21" y2="654" stroke="#222" stroke-width="0.55"/>
<line x1="574.79" y1="650.3" x2="574.79" y2="654" stroke="#222" stroke-width="0.55"/>
<line x1="633.94" y1="650.3" x2="633.94" y2="654" stroke="#222" stroke-width="0.55"/>
<line x1="591.52" y1="650.3" x2="591.52" y2="654" stroke="#222" stroke-width="0.55"/>
<line x1="624.84" y1="650.3" x2="624.84" y2="654" stroke="#222" stroke-width="0.55"/>
<line x1="581.69" y1="650.3" x2="581.69" y2="654" stroke="#222" stroke-width="0.55"/>
<line x1="621.43" y1="650.3" x2="621.43" y2="654" stroke="#222" stroke-width="0.55"/>
<line x1="632.27" y1="650.3" x2="632.27" y2="654" stroke="#222" stroke-width="0.55"/>
<line x1="623.81" y1="650.3" x2="623.81" y2="654" stroke="#222" stroke-width="0.55"/>
<line x1="596.57" y1="650.3" x2="596.57" y2="654" stroke="#222" stroke-width="0.55"/>
<line x1="623.78" y1="650.3" x2="623.78" y2="654" stroke="#222" stroke-width="0.55"/>
<line x1="580.32" y1="650.3" x2="580.32" y2="654" stroke="#222" stroke-width="0.55"/>
<line x1="593.22" y1="650.3" x2="593.22" y2="654" stroke="#222" stroke-width="0.55"/>
<line x1="601.05" y1="650.3" x2="601.05" y2="654" stroke="#222" stroke-width="0.55"/>
<line x1="634.91" y1="650.3" x2="634.91" y2="654" stroke="#222" stroke-width="0.55"/>
<line x1="581.38" y1="650.3" x2="581.38" y2="654" stroke="#222" stroke-width="0.55"/>
<line x1="635.13" y1="650.3" x2="635.13" y2="654" stroke="#222" stroke-width="0.55"/>
<line x1="629.12" y1="650.3" x2="629.12" y2="654" stroke="#222" stroke-width="0.55"/>
<line x1="641.9" y1="650.3" x2="641.9" y2="654" stroke="#222" stroke-width="0.55"/>
<line x1="597.21" y1="650.3" x2="597.21" y2="654" stroke="#222" stroke-width="0.55"/>
<line x1="585.17" y1="650.3" x2="585.17" y2="654" stroke="#222" stroke-width="0.55"/>
<line x1="587.8" y1="650.3" x2="587.8" y2="654" stroke="#222" stroke-width="0.55"/>
<line x1="631.26" y1="650.3" x2="631.26" y2="654" stroke="#222" stroke-width="0.55"/>
<line x1="641.43" y1="650.3" x2="641.43" y2="654" stroke="#222" stroke-width="0.55"/>
<line x1="621.71" y1="650.3" x2="621.71" y2="654" stroke="#222" stroke-width="0.55"/>
<line x1="605.7" y1="650.3" x2="605.7" y2="654" stroke="#222" stroke-width="0.55"/>
<line x1="591.24" y1="650.3" x2="591.24" y2="654" stroke="#222" stroke-width="0.55"/>
<line x1="631.69" y1="650.3" x2="631.69" y2="654" stroke="#222" stroke-width="0.55"/>
<line x1="634.54" y1="650.3" x2="634.54" y2="654" stroke="#222" stroke-width="0.55"/>
<line x1="576.82" y1="650.3" x2="576.82" y2="654" stroke="#222" stroke-width="0.55"/>
<line x1="585.98" y1="650.3" x2="585.98" y2="654" stroke="#222" stroke-width="0.55"/>
<line x1="631.55" y1="650.3" x2="631.55" y2="654" stroke="#222" stroke-width="0.55"/>
<line x1="632.77" y1="650.3" x2="632.77" y2="654" stroke="#222" stroke-width="0.55"/>
<line x1="593.28" y1="650.3" x2="593.28" y2="654" stroke="#222" stroke-width="0.55"/>
<line x1="590.67" y1="650.3" x2="590.67" y2="654" stroke="#222" stroke-width="0.55"/>
<line x1="601.88" y1="650.3" x2="601.88" y2="654" stroke="#222" stroke-width="0.55"/>
<line x1="623.74" y1="650.3" x2="623.74" y2="654" stroke="#222" stroke-width="0.55"/>
<line x1="604.2" y1="650.3" x2="604.2" y2="654" stroke="#222" stroke-width="0.55"/>
<line x1="636.82" y1="650.3" x2="636.82" y2="654" stroke="#222" stroke-width="0.55"/>
<line x1="623.53" y1="650.3" x2="623.53" y2="654" stroke="#222" stroke-width="0.55"/>
<line x1="634.1" y1="650.3" x2="634.1" y2="654" stroke="#222" stroke-width="0.55"/>
<line x1="610.16" y1="650.3" x2="610.16" y2="654" stroke="#222" stroke-width="0.55"/>
<line x1="642.47" y1="650.3" x2="642.47" y2="654" stroke="#222" stroke-width="0.55"/>
<line x1="633.05" y1="650.3" x2="633.05" y2="654" stroke="#222" stroke-width="0.55"/>
<line x1="615.1" y1="650.3" x2="615.1" y2="654" stroke="#222" stroke-width="0.55"/>
<line x1="641.74" y1="650.3" x2="641.74" y2="654" stroke="#222" stroke-width="0.55"/>
<line x1="630.82" y1="650.3" x2="630.82" y2="654" stroke="#222" stroke-width="0.55"/>
<line x1="636.98" y1="650.3" x2="636.98" y2="654" stroke="#222" stroke-width="0.55"/>
<line x1="602" y1="650.3" x2="602" y2="654" stroke="#222" stroke-width="0.55"/>
<line x1="602.45" y1="650.3" x2="602.45" y2="654" stroke="#222" stroke-width="0.55"/>
<line x1="632.68" y1="650.3" x2="632.68" y2="654" stroke="#222" stroke-width="0.55"/>
<line x1="613.41" y1="650.3" x2="613.41" y2="654" stroke="#222" stroke-width="0.55"/>
<line x1="622.74" y1="650.3" x2="622.74" y2="654" stroke="#222" stroke-width="0.55"/>
<line x1="606.88" y1="650.3" x2="606.88" y2="654" stroke="#222" stroke-width="0.55"/>
<line x1="643.03" y1="650.3" x2="643.03" y2="654" stroke="#222" stroke-width="0.55"/>
<line x1="622.12" y1="650.3" x2="622.12" y2="654" stroke="#222" stroke-width="0.55"/>
<line x1="636.48" y1="650.3" x2="636.48" y2="654" stroke="#222" stroke-width="0.55"/>
<line x1="603.26" y1="650.3" x2="603.26" y2="654" stroke="#222" stroke-width="0.55"/>
<line x1="621.07" y1="650.3" x2="621.07" y2="654" stroke="#222" stroke-width="0.55"/>
<line x1="602.74" y1="650.3" x2="602.74" y2="654" stroke="#222" stroke-width="0.55"/>
<line x1="638.91" y1="650.3" x2="638.91" y2="654" stroke="#222" stroke-width="0.55"/>
<line x1="619.62" y1="650.3" x2="619.62" y2="654" stroke="#222" stroke-width="0.55"/>
<line x1="603.02" y1="650.3" x2="603.02" y2="654" stroke="#222" stroke-width="0.55"/>
<line x1="603.37" y1="650.3" x2="603.37" y2="654" stroke="#222" stroke-width="0.55"/>
<line x1="623.71" y1="650.3" x2="623.71" y2="654" stroke="#222" stroke-width="0.55"/>
<line x1="603.32" y1="650.3" x2="603.32" y2="654" stroke="#222" stroke-width="0.55"/>
<line x1="608.09" y1="650.3" x2="608.09" y2="654" stroke="#222" stroke-width="0.55"/>
<line x1="619.2" y1="650.3" x2="619.2" y2="654" stroke="#222" stroke-width="0.55"/>
<line x1="621.9" y1="650.3" x2="621.9" y2="654" stroke="#222" stroke-width="0.55"/>
<line x1="625.67" y1="650.3" x2="625.67" y2="654" stroke="#222" stroke-width="0.55"/>
<line x1="627.3" y1="650.3" x2="627.3" y2="654" stroke="#222" stroke-width="0.55"/>
<line x1="616.4" y1="650.3" x2="616.4" y2="654" stroke="#222" stroke-width="0.55"/>
<line x1="627.22" y1="650.3" x2="627.22" y2="654" stroke="#222" stroke-width="0.55"/>
<line x1="606.92" y1="650.3" x2="606.92" y2="654" stroke="#222" stroke-width="0.55"/>
<line x1="612.12" y1="650.3" x2="612.12" y2="654" stroke="#222" stroke-width="0.55"/>
<line x1="635.14" y1="650.3" x2="635.14" y2="654" stroke="#222" stroke-width="0.55"/>
<g clip-path="url(#ch)">
<line x1="451.3" y1="855.9" x2="658.3" y2="649.5" stroke="#dddddd" stroke-width="0.6"/>
<line x1="451.3" y1="855.9" x2="658.3" y2="649.5" stroke="#1f5040" stroke-width="1.9" stroke-dasharray="4.5 3"/>
</g>
<rect x="451.3" y="649.5" width="207" height="206.4" fill="none" stroke="#666" stroke-width="1.1"/>
<line x1="444.1" y1="848.4" x2="451.3" y2="848.4" stroke="#666" stroke-width="1"/>
<text x="442" y="852" font-size="10" text-anchor="end" fill="#333" stroke="#333" stroke-width="0.25">0.0</text>
<line x1="459.1" y1="855.9" x2="459.1" y2="862.2" stroke="#666" stroke-width="1"/>
<text x="459.1" y="871.6" font-size="10" text-anchor="middle" fill="#444" stroke="#444" stroke-width="0.25">0.0</text>
<line x1="444.1" y1="810.2" x2="451.3" y2="810.2" stroke="#666" stroke-width="1"/>
<text x="442" y="813.8" font-size="10" text-anchor="end" fill="#333" stroke="#333" stroke-width="0.25">0.2</text>
<line x1="497.36" y1="855.9" x2="497.36" y2="862.2" stroke="#666" stroke-width="1"/>
<text x="497.36" y="871.6" font-size="10" text-anchor="middle" fill="#444" stroke="#444" stroke-width="0.25">0.2</text>
<line x1="444.1" y1="772" x2="451.3" y2="772" stroke="#666" stroke-width="1"/>
<text x="442" y="775.6" font-size="10" text-anchor="end" fill="#333" stroke="#333" stroke-width="0.25">0.4</text>
<line x1="535.62" y1="855.9" x2="535.62" y2="862.2" stroke="#666" stroke-width="1"/>
<text x="535.62" y="871.6" font-size="10" text-anchor="middle" fill="#444" stroke="#444" stroke-width="0.25">0.4</text>
<line x1="444.1" y1="733.8" x2="451.3" y2="733.8" stroke="#666" stroke-width="1"/>
<text x="442" y="737.4" font-size="10" text-anchor="end" fill="#333" stroke="#333" stroke-width="0.25">0.6</text>
<line x1="573.88" y1="855.9" x2="573.88" y2="862.2" stroke="#666" stroke-width="1"/>
<text x="573.88" y="871.6" font-size="10" text-anchor="middle" fill="#444" stroke="#444" stroke-width="0.25">0.6</text>
<line x1="444.1" y1="695.6" x2="451.3" y2="695.6" stroke="#666" stroke-width="1"/>
<text x="442" y="699.2" font-size="10" text-anchor="end" fill="#333" stroke="#333" stroke-width="0.25">0.8</text>
<line x1="612.14" y1="855.9" x2="612.14" y2="862.2" stroke="#666" stroke-width="1"/>
<text x="612.14" y="871.6" font-size="10" text-anchor="middle" fill="#444" stroke="#444" stroke-width="0.25">0.8</text>
<line x1="444.1" y1="657.4" x2="451.3" y2="657.4" stroke="#666" stroke-width="1"/>
<text x="442" y="661" font-size="10" text-anchor="end" fill="#333" stroke="#333" stroke-width="0.25">1.0</text>
<line x1="650.4" y1="855.9" x2="650.4" y2="862.2" stroke="#666" stroke-width="1"/>
<text x="650.4" y="871.6" font-size="10" text-anchor="middle" fill="#444" stroke="#444" stroke-width="0.25">1.0</text>
<text x="551.6" y="886.2" font-size="11.4" text-anchor="middle" fill="#111" stroke="#111" stroke-width="0.29">Nomogram−predicted OS (%)</text>
<text x="421.5" y="756.5" font-size="11.4" text-anchor="middle" fill="#111" stroke="#111" stroke-width="0.29" transform="rotate(-90 421.5 756.5)">Observed OS (%)</text>
<line x1="574.29" y1="748.01" x2="631.82" y2="674.7" stroke="#3f78c0" stroke-width="1.6"/>
<line x1="636.9" y1="667.77" x2="639.79" y2="659.4" stroke="#3f78c0" stroke-width="1.4" stroke-dasharray="2 1.5"/>
<line x1="513.48" y1="810.11" x2="603.86" y2="696.46" stroke="#c0283a" stroke-width="1.6"/>
<line x1="610.28" y1="688.79" x2="622.03" y2="675.47" stroke="#c0283a" stroke-width="1.6"/>
<line x1="492.77" y1="821.68" x2="584.02" y2="715.06" stroke="#ef8a30" stroke-width="1.6"/>
<line x1="591.53" y1="708.64" x2="608.46" y2="698.22" stroke="#ef8a30" stroke-width="1.6"/>
<line x1="489.52" y1="799.69" x2="489.52" y2="836.94" stroke="#111" stroke-width="1.6"/>
<line x1="487.22" y1="799.69" x2="491.82" y2="799.69" stroke="#111" stroke-width="1.4"/>
<line x1="487.22" y1="836.94" x2="491.82" y2="836.94" stroke="#111" stroke-width="1.4"/>
<line x1="510.37" y1="786.32" x2="510.37" y2="829.3" stroke="#111" stroke-width="1.6"/>
<line x1="508.07" y1="786.32" x2="512.67" y2="786.32" stroke="#111" stroke-width="1.4"/>
<line x1="508.07" y1="829.3" x2="512.67" y2="829.3" stroke="#111" stroke-width="1.4"/>
<line x1="571.2" y1="722.91" x2="571.2" y2="774.87" stroke="#111" stroke-width="1.6"/>
<line x1="568.9" y1="722.91" x2="573.5" y2="722.91" stroke="#111" stroke-width="1.4"/>
<line x1="568.9" y1="774.87" x2="573.5" y2="774.87" stroke="#111" stroke-width="1.4"/>
<line x1="587.27" y1="685.1" x2="587.27" y2="732.27" stroke="#111" stroke-width="1.6"/>
<line x1="584.97" y1="685.1" x2="589.57" y2="685.1" stroke="#111" stroke-width="1.4"/>
<line x1="584.97" y1="732.27" x2="589.57" y2="732.27" stroke="#111" stroke-width="1.4"/>
<line x1="606.97" y1="670.77" x2="606.97" y2="710.88" stroke="#111" stroke-width="1.6"/>
<line x1="604.67" y1="670.77" x2="609.27" y2="670.77" stroke="#111" stroke-width="1.4"/>
<line x1="604.67" y1="710.88" x2="609.27" y2="710.88" stroke="#111" stroke-width="1.4"/>
<line x1="612.71" y1="671.92" x2="612.71" y2="715.27" stroke="#111" stroke-width="1.6"/>
<line x1="610.41" y1="671.92" x2="615.01" y2="671.92" stroke="#111" stroke-width="1.4"/>
<line x1="610.41" y1="715.27" x2="615.01" y2="715.27" stroke="#111" stroke-width="1.4"/>
<line x1="625.34" y1="657.4" x2="625.34" y2="684.71" stroke="#111" stroke-width="1.6"/>
<line x1="623.04" y1="657.4" x2="627.64" y2="657.4" stroke="#111" stroke-width="1.4"/>
<line x1="623.04" y1="684.71" x2="627.64" y2="684.71" stroke="#111" stroke-width="1.4"/>
<line x1="634.9" y1="657.4" x2="634.9" y2="683.38" stroke="#111" stroke-width="1.6"/>
<line x1="632.6" y1="657.4" x2="637.2" y2="657.4" stroke="#111" stroke-width="1.4"/>
<line x1="632.6" y1="683.38" x2="637.2" y2="683.38" stroke="#111" stroke-width="1.4"/>
<circle cx="489.52" cy="825.48" r="2.6" fill="#ef8a30"/>
<circle cx="510.37" cy="814.02" r="2.6" fill="#c0283a"/>
<circle cx="571.2" cy="751.94" r="2.6" fill="#3f78c0"/>
<circle cx="587.27" cy="711.26" r="2.6" fill="#ef8a30"/>
<circle cx="606.97" cy="692.54" r="2.6" fill="#c0283a"/>
<circle cx="612.71" cy="695.6" r="2.6" fill="#ef8a30"/>
<circle cx="625.34" cy="671.72" r="2.6" fill="#c0283a"/>
<circle cx="634.9" cy="670.77" r="2.6" fill="#3f78c0"/>
<rect x="639.49" y="655.1" width="4.6" height="4.6" fill="#3f78c0" stroke="none" stroke-width="1"/>
<line x1="487.92" y1="820.44" x2="491.12" y2="823.64" stroke="#4a7fd0" stroke-width="0.7"/>
<line x1="487.92" y1="823.64" x2="491.12" y2="820.44" stroke="#4a7fd0" stroke-width="0.7"/>
<line x1="508.77" y1="808.6" x2="511.97" y2="811.8" stroke="#4a7fd0" stroke-width="0.7"/>
<line x1="508.77" y1="811.8" x2="511.97" y2="808.6" stroke="#4a7fd0" stroke-width="0.7"/>
<line x1="605.37" y1="695.91" x2="608.57" y2="699.11" stroke="#4a7fd0" stroke-width="0.7"/>
<line x1="605.37" y1="699.11" x2="608.57" y2="695.91" stroke="#4a7fd0" stroke-width="0.7"/>
<line x1="611.11" y1="698.39" x2="614.31" y2="701.59" stroke="#4a7fd0" stroke-width="0.7"/>
<line x1="611.11" y1="701.59" x2="614.31" y2="698.39" stroke="#4a7fd0" stroke-width="0.7"/>
<line x1="623.74" y1="674.9" x2="626.94" y2="678.1" stroke="#4a7fd0" stroke-width="0.7"/>
<line x1="623.74" y1="678.1" x2="626.94" y2="674.9" stroke="#4a7fd0" stroke-width="0.7"/>
<line x1="633.3" y1="673.94" x2="636.5" y2="677.14" stroke="#4a7fd0" stroke-width="0.7"/>
<line x1="633.3" y1="677.14" x2="636.5" y2="673.94" stroke="#4a7fd0" stroke-width="0.7"/>
<line x1="582.8" y1="780.6" x2="604.7" y2="780.6" stroke="#3f78c0" stroke-width="1.4"/>
<text x="609.2" y="785" font-size="11.2" text-anchor="start" fill="#222" stroke="#222" stroke-width="0.28">1−year</text>
<line x1="582.8" y1="812.9" x2="604.7" y2="812.9" stroke="#c0283a" stroke-width="1.4"/>
<text x="609.2" y="817.3" font-size="11.2" text-anchor="start" fill="#222" stroke="#222" stroke-width="0.28">3−year</text>
<line x1="582.8" y1="844.9" x2="604.7" y2="844.9" stroke="#ef8a30" stroke-width="1.4"/>
<text x="609.2" y="849.3" font-size="11.2" text-anchor="start" fill="#222" stroke="#222" stroke-width="0.28">5−year</text>
</svg></body></html>
